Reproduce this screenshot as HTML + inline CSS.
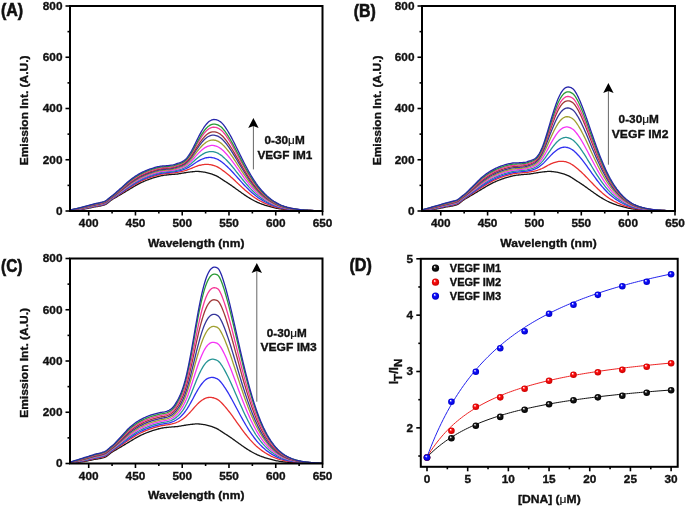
<!DOCTYPE html>
<html><head><meta charset="utf-8"><style>
html,body{margin:0;padding:0;background:#fff;width:685px;height:507px;overflow:hidden}
svg{display:block}
text{font-family:'Liberation Sans', sans-serif;font-weight:bold;fill:#111;stroke:#111;stroke-width:0.35px}
.tk{font-size:11.8px}
.ti{font-size:11px}
.an{font-size:11.6px}
.lg{font-size:11px}
.pl{font-size:17.5px;stroke-width:0.6px}
.mu{font-weight:normal;stroke-width:0.2px}
</style></head><body>
<svg width="685" height="507" viewBox="0 0 685 507">
<rect width="685" height="507" fill="#fff"/>
<polyline points="70,210.62 70.94,210.56 71.87,210.49 72.81,210.41 73.74,210.33 74.68,210.24 75.61,210.14 76.55,210.04 77.48,209.94 78.42,209.83 79.35,209.72 80.29,209.6 81.22,209.47 82.16,209.33 83.09,209.18 84.03,209.02 84.96,208.86 85.9,208.69 86.83,208.52 87.77,208.34 88.7,208.15 89.64,207.95 90.57,207.75 91.51,207.55 92.44,207.35 93.38,207.16 94.31,206.97 95.25,206.81 96.19,206.65 97.12,206.49 98.06,206.34 98.99,206.18 99.93,206.02 100.86,205.83 101.8,205.63 102.73,205.4 103.67,205.14 104.6,204.85 105.54,204.44 106.47,203.86 107.41,203.18 108.34,202.42 109.28,201.65 110.21,200.9 111.15,200.24 112.08,199.64 113.02,199.05 113.95,198.48 114.89,197.92 115.82,197.37 116.76,196.83 117.69,196.28 118.63,195.74 119.56,195.19 120.5,194.64 121.44,194.09 122.37,193.52 123.31,192.96 124.24,192.39 125.18,191.83 126.11,191.26 127.05,190.7 127.98,190.13 128.92,189.57 129.85,189.01 130.79,188.45 131.72,187.89 132.66,187.32 133.59,186.76 134.53,186.2 135.46,185.65 136.4,185.11 137.33,184.61 138.27,184.12 139.2,183.63 140.14,183.16 141.07,182.71 142.01,182.26 142.94,181.83 143.88,181.42 144.81,181.02 145.75,180.63 146.69,180.26 147.62,179.9 148.56,179.55 149.49,179.2 150.43,178.87 151.36,178.55 152.3,178.24 153.23,177.94 154.17,177.65 155.1,177.35 156.04,177.06 156.97,176.78 157.91,176.5 158.84,176.25 159.78,176.02 160.71,175.81 161.65,175.64 162.58,175.49 163.52,175.35 164.45,175.22 165.39,175.1 166.32,174.99 167.26,174.89 168.19,174.79 169.13,174.7 170.06,174.61 171,174.53 171.94,174.46 172.87,174.4 173.81,174.33 174.74,174.27 175.68,174.19 176.61,174.1 177.55,173.99 178.48,173.86 179.42,173.71 180.35,173.55 181.29,173.39 182.22,173.23 183.16,173.07 184.09,172.92 185.03,172.76 185.96,172.6 186.9,172.45 187.83,172.3 188.77,172.17 189.7,172.05 190.64,171.94 191.57,171.83 192.51,171.73 193.44,171.63 194.38,171.54 195.31,171.47 196.25,171.43 197.19,171.41 198.12,171.43 199.06,171.48 199.99,171.57 200.93,171.67 201.86,171.79 202.8,171.92 203.73,172.05 204.67,172.2 205.6,172.37 206.54,172.58 207.47,172.81 208.41,173.06 209.34,173.32 210.28,173.59 211.21,173.88 212.15,174.19 213.08,174.53 214.02,174.9 214.95,175.29 215.89,175.71 216.82,176.15 217.76,176.64 218.69,177.18 219.63,177.77 220.56,178.38 221.5,179.01 222.44,179.64 223.37,180.25 224.31,180.85 225.24,181.44 226.18,182.04 227.11,182.64 228.05,183.25 228.98,183.86 229.92,184.49 230.85,185.12 231.79,185.77 232.72,186.43 233.66,187.1 234.59,187.78 235.53,188.47 236.46,189.15 237.4,189.83 238.33,190.5 239.27,191.17 240.2,191.84 241.14,192.51 242.07,193.18 243.01,193.84 243.94,194.48 244.88,195.11 245.81,195.73 246.75,196.34 247.69,196.95 248.62,197.54 249.56,198.12 250.49,198.68 251.43,199.21 252.36,199.73 253.3,200.25 254.23,200.74 255.17,201.23 256.1,201.69 257.04,202.13 257.97,202.54 258.91,202.94 259.84,203.32 260.78,203.68 261.71,204.03 262.65,204.37 263.58,204.7 264.52,205.02 265.45,205.32 266.39,205.62 267.32,205.91 268.26,206.19 269.19,206.46 270.13,206.73 271.06,206.98 272,207.23 272.94,207.46 273.87,207.67 274.81,207.87 275.74,208.07 276.68,208.27 277.61,208.45 278.55,208.63 279.48,208.8 280.42,208.95 281.35,209.09 282.29,209.21 283.22,209.31 284.16,209.42 285.09,209.51 286.03,209.6 286.96,209.69 287.9,209.77 288.83,209.85 289.77,209.92 290.7,209.98 291.64,210.04 292.57,210.1 293.51,210.16 294.44,210.21 295.38,210.27 296.31,210.32 297.25,210.37 298.19,210.41 299.12,210.46 300.06,210.5 300.99,210.53 301.93,210.56 302.86,210.59 303.8,210.62 304.73,210.64 305.67,210.66 306.6,210.68 307.54,210.7 308.47,210.71 309.41,210.73 310.34,210.75 311.28,210.77 312.21,210.78 313.15,210.8 314.08,210.81 315.02,210.82 315.95,210.83 316.89,210.84 317.82,210.85 318.76,210.86 319.69,210.86 320.63,210.87 321.56,210.87 322.5,210.87" fill="none" stroke="#151515" stroke-width="1.3" stroke-linejoin="round"/>
<polyline points="70,210.52 70.94,210.44 71.87,210.35 72.81,210.26 73.74,210.15 74.68,210.04 75.61,209.93 76.55,209.81 77.48,209.69 78.42,209.56 79.35,209.43 80.29,209.3 81.22,209.15 82.16,208.99 83.09,208.83 84.03,208.66 84.96,208.49 85.9,208.31 86.83,208.13 87.77,207.93 88.7,207.73 89.64,207.52 90.57,207.31 91.51,207.1 92.44,206.89 93.38,206.69 94.31,206.5 95.25,206.32 96.19,206.15 97.12,205.99 98.06,205.83 98.99,205.67 99.93,205.49 100.86,205.3 101.8,205.09 102.73,204.86 103.67,204.59 104.6,204.3 105.54,203.88 106.47,203.3 107.41,202.61 108.34,201.85 109.28,201.07 110.21,200.32 111.15,199.65 112.08,199.04 113.02,198.44 113.95,197.84 114.89,197.24 115.82,196.65 116.76,196.06 117.69,195.47 118.63,194.88 119.56,194.29 120.5,193.7 121.44,193.1 122.37,192.5 123.31,191.89 124.24,191.28 125.18,190.67 126.11,190.05 127.05,189.44 127.98,188.84 128.92,188.24 129.85,187.65 130.79,187.06 131.72,186.49 132.66,185.9 133.59,185.32 134.53,184.74 135.46,184.18 136.4,183.64 137.33,183.12 138.27,182.62 139.2,182.13 140.14,181.66 141.07,181.19 142.01,180.74 142.94,180.31 143.88,179.89 144.81,179.49 145.75,179.1 146.69,178.73 147.62,178.36 148.56,178.01 149.49,177.66 150.43,177.33 151.36,177.01 152.3,176.71 153.23,176.41 154.17,176.12 155.1,175.83 156.04,175.55 156.97,175.27 157.91,175 158.84,174.75 159.78,174.53 160.71,174.33 161.65,174.16 162.58,174.02 163.52,173.89 164.45,173.77 165.39,173.66 166.32,173.56 167.26,173.46 168.19,173.37 169.13,173.27 170.06,173.18 171,173.09 171.94,173 172.87,172.92 173.81,172.82 174.74,172.72 175.68,172.59 176.61,172.46 177.55,172.31 178.48,172.15 179.42,171.97 180.35,171.77 181.29,171.56 182.22,171.35 183.16,171.12 184.09,170.88 185.03,170.61 185.96,170.32 186.9,170.01 187.83,169.69 188.77,169.35 189.7,169.01 190.64,168.66 191.57,168.29 192.51,167.9 193.44,167.51 194.38,167.12 195.31,166.74 196.25,166.38 197.19,166.04 198.12,165.74 199.06,165.47 199.99,165.24 200.93,165.04 201.86,164.86 202.8,164.7 203.73,164.56 204.67,164.45 205.6,164.38 206.54,164.36 207.47,164.38 208.41,164.44 209.34,164.53 210.28,164.65 211.21,164.81 212.15,165.01 213.08,165.25 214.02,165.54 214.95,165.87 215.89,166.24 216.82,166.64 217.76,167.1 218.69,167.63 219.63,168.22 220.56,168.83 221.5,169.48 222.44,170.17 223.37,170.86 224.31,171.56 225.24,172.27 226.18,173 227.11,173.75 228.05,174.51 228.98,175.28 229.92,176.08 230.85,176.89 231.79,177.72 232.72,178.58 233.66,179.44 234.59,180.32 235.53,181.21 236.46,182.1 237.4,182.98 238.33,183.86 239.27,184.74 240.2,185.61 241.14,186.49 242.07,187.36 243.01,188.23 243.94,189.07 244.88,189.9 245.81,190.72 246.75,191.52 247.69,192.32 248.62,193.09 249.56,193.85 250.49,194.59 251.43,195.3 252.36,195.99 253.3,196.67 254.23,197.33 255.17,197.97 256.1,198.58 257.04,199.17 257.97,199.73 258.91,200.26 259.84,200.77 260.78,201.26 261.71,201.73 262.65,202.19 263.58,202.63 264.52,203.06 265.45,203.47 266.39,203.87 267.32,204.25 268.26,204.63 269.19,204.99 270.13,205.34 271.06,205.67 272,205.99 272.94,206.29 273.87,206.58 274.81,206.85 275.74,207.11 276.68,207.36 277.61,207.61 278.55,207.84 279.48,208.05 280.42,208.25 281.35,208.43 282.29,208.6 283.22,208.75 284.16,208.89 285.09,209.02 286.03,209.14 286.96,209.26 287.9,209.37 288.83,209.47 289.77,209.57 290.7,209.66 291.64,209.74 292.57,209.82 293.51,209.9 294.44,209.97 295.38,210.04 296.31,210.11 297.25,210.18 298.19,210.24 299.12,210.29 300.06,210.35 300.99,210.39 301.93,210.44 302.86,210.47 303.8,210.51 304.73,210.54 305.67,210.56 306.6,210.59 307.54,210.62 308.47,210.64 309.41,210.67 310.34,210.69 311.28,210.71 312.21,210.73 313.15,210.75 314.08,210.77 315.02,210.78 315.95,210.8 316.89,210.81 317.82,210.82 318.76,210.83 319.69,210.84 320.63,210.85 321.56,210.85 322.5,210.85" fill="none" stroke="#e8302f" stroke-width="1.3" stroke-linejoin="round"/>
<polyline points="70,210.47 70.94,210.37 71.87,210.27 72.81,210.16 73.74,210.05 74.68,209.92 75.61,209.8 76.55,209.67 77.48,209.54 78.42,209.4 79.35,209.26 80.29,209.11 81.22,208.96 82.16,208.79 83.09,208.62 84.03,208.44 84.96,208.26 85.9,208.07 86.83,207.88 87.77,207.68 88.7,207.48 89.64,207.26 90.57,207.05 91.51,206.83 92.44,206.61 93.38,206.4 94.31,206.21 95.25,206.03 96.19,205.85 97.12,205.69 98.06,205.52 98.99,205.35 99.93,205.17 100.86,204.98 101.8,204.77 102.73,204.53 103.67,204.26 104.6,203.96 105.54,203.54 106.47,202.96 107.41,202.26 108.34,201.5 109.28,200.72 110.21,199.97 111.15,199.3 112.08,198.68 113.02,198.06 113.95,197.44 114.89,196.83 115.82,196.21 116.76,195.59 117.69,194.98 118.63,194.36 119.56,193.74 120.5,193.12 121.44,192.5 122.37,191.87 123.31,191.24 124.24,190.6 125.18,189.96 126.11,189.31 127.05,188.68 127.98,188.05 128.92,187.42 129.85,186.81 130.79,186.22 131.72,185.63 132.66,185.04 133.59,184.44 134.53,183.86 135.46,183.29 136.4,182.74 137.33,182.21 138.27,181.71 139.2,181.22 140.14,180.74 141.07,180.27 142.01,179.82 142.94,179.38 143.88,178.96 144.81,178.56 145.75,178.17 146.69,177.79 147.62,177.42 148.56,177.07 149.49,176.72 150.43,176.39 151.36,176.08 152.3,175.77 153.23,175.48 154.17,175.19 155.1,174.9 156.04,174.62 156.97,174.35 157.91,174.08 158.84,173.84 159.78,173.61 160.71,173.42 161.65,173.26 162.58,173.12 163.52,173 164.45,172.89 165.39,172.78 166.32,172.68 167.26,172.58 168.19,172.48 169.13,172.38 170.06,172.28 171,172.18 171.94,172.08 172.87,171.97 173.81,171.85 174.74,171.72 175.68,171.55 176.61,171.37 177.55,171.19 178.48,170.98 179.42,170.76 180.35,170.52 181.29,170.26 182.22,169.98 183.16,169.68 184.09,169.35 185.03,168.98 185.96,168.56 186.9,168.11 187.83,167.63 188.77,167.12 189.7,166.6 190.64,166.04 191.57,165.45 192.51,164.84 193.44,164.2 194.38,163.57 195.31,162.93 196.25,162.31 197.19,161.71 198.12,161.15 199.06,160.63 199.99,160.14 200.93,159.69 201.86,159.27 202.8,158.88 203.73,158.52 204.67,158.2 205.6,157.94 206.54,157.74 207.47,157.59 208.41,157.49 209.34,157.45 210.28,157.44 211.21,157.49 212.15,157.6 213.08,157.77 214.02,157.99 214.95,158.27 215.89,158.6 216.82,158.98 217.76,159.42 218.69,159.94 219.63,160.51 220.56,161.13 221.5,161.8 222.44,162.54 223.37,163.29 224.31,164.07 225.24,164.88 226.18,165.71 227.11,166.57 228.05,167.46 228.98,168.36 229.92,169.3 230.85,170.25 231.79,171.24 232.72,172.24 233.66,173.27 234.59,174.31 235.53,175.36 236.46,176.41 237.4,177.46 238.33,178.51 239.27,179.55 240.2,180.59 241.14,181.64 242.07,182.68 243.01,183.7 243.94,184.71 244.88,185.7 245.81,186.67 246.75,187.63 247.69,188.58 248.62,189.51 249.56,190.42 250.49,191.3 251.43,192.15 252.36,192.98 253.3,193.79 254.23,194.57 255.17,195.34 256.1,196.08 257.04,196.78 257.97,197.45 258.91,198.09 259.84,198.71 260.78,199.31 261.71,199.88 262.65,200.43 263.58,200.97 264.52,201.48 265.45,201.98 266.39,202.46 267.32,202.92 268.26,203.37 269.19,203.8 270.13,204.22 271.06,204.62 272,205 272.94,205.36 273.87,205.7 274.81,206.02 275.74,206.33 276.68,206.63 277.61,206.92 278.55,207.19 279.48,207.45 280.42,207.69 281.35,207.91 282.29,208.1 283.22,208.29 284.16,208.46 285.09,208.62 286.03,208.77 286.96,208.91 287.9,209.04 288.83,209.17 289.77,209.29 290.7,209.4 291.64,209.5 292.57,209.6 293.51,209.69 294.44,209.78 295.38,209.86 296.31,209.95 297.25,210.02 298.19,210.09 299.12,210.16 300.06,210.22 300.99,210.28 301.93,210.33 302.86,210.38 303.8,210.42 304.73,210.45 305.67,210.49 306.6,210.52 307.54,210.55 308.47,210.58 309.41,210.61 310.34,210.64 311.28,210.66 312.21,210.69 313.15,210.71 314.08,210.73 315.02,210.75 315.95,210.77 316.89,210.78 317.82,210.8 318.76,210.81 319.69,210.82 320.63,210.83 321.56,210.83 322.5,210.84" fill="none" stroke="#3030f0" stroke-width="1.3" stroke-linejoin="round"/>
<polyline points="70,210.41 70.94,210.3 71.87,210.19 72.81,210.07 73.74,209.94 74.68,209.81 75.61,209.67 76.55,209.53 77.48,209.38 78.42,209.23 79.35,209.09 80.29,208.93 81.22,208.76 82.16,208.59 83.09,208.41 84.03,208.22 84.96,208.03 85.9,207.84 86.83,207.64 87.77,207.44 88.7,207.22 89.64,207 90.57,206.78 91.51,206.56 92.44,206.34 93.38,206.12 94.31,205.92 95.25,205.73 96.19,205.55 97.12,205.38 98.06,205.21 98.99,205.04 99.93,204.85 100.86,204.66 101.8,204.44 102.73,204.2 103.67,203.93 104.6,203.62 105.54,203.2 106.47,202.62 107.41,201.92 108.34,201.15 109.28,200.37 110.21,199.62 111.15,198.94 112.08,198.31 113.02,197.68 113.95,197.05 114.89,196.41 115.82,195.77 116.76,195.13 117.69,194.48 118.63,193.84 119.56,193.19 120.5,192.55 121.44,191.9 122.37,191.25 123.31,190.59 124.24,189.92 125.18,189.25 126.11,188.58 127.05,187.91 127.98,187.26 128.92,186.61 129.85,185.98 130.79,185.37 131.72,184.77 132.66,184.17 133.59,183.57 134.53,182.97 135.46,182.39 136.4,181.84 137.33,181.31 138.27,180.8 139.2,180.3 140.14,179.82 141.07,179.35 142.01,178.89 142.94,178.45 143.88,178.03 144.81,177.62 145.75,177.23 146.69,176.85 147.62,176.48 148.56,176.13 149.49,175.79 150.43,175.46 151.36,175.14 152.3,174.84 153.23,174.55 154.17,174.26 155.1,173.98 156.04,173.7 156.97,173.42 157.91,173.16 158.84,172.92 159.78,172.7 160.71,172.51 161.65,172.36 162.58,172.23 163.52,172.11 164.45,172 165.39,171.9 166.32,171.8 167.26,171.71 168.19,171.61 169.13,171.5 170.06,171.4 171,171.29 171.94,171.18 172.87,171.06 173.81,170.92 174.74,170.77 175.68,170.56 176.61,170.35 177.55,170.14 178.48,169.91 179.42,169.66 180.35,169.39 181.29,169.1 182.22,168.78 183.16,168.43 184.09,168.04 185.03,167.59 185.96,167.09 186.9,166.53 187.83,165.93 188.77,165.29 189.7,164.61 190.64,163.9 191.57,163.14 192.51,162.34 193.44,161.51 194.38,160.67 195.31,159.83 196.25,159 197.19,158.2 198.12,157.42 199.06,156.69 199.99,156 200.93,155.35 201.86,154.73 202.8,154.16 203.73,153.61 204.67,153.12 205.6,152.7 206.54,152.35 207.47,152.07 208.41,151.85 209.34,151.69 210.28,151.59 211.21,151.55 212.15,151.58 213.08,151.69 214.02,151.86 214.95,152.1 215.89,152.39 216.82,152.75 217.76,153.17 218.69,153.68 219.63,154.26 220.56,154.87 221.5,155.56 222.44,156.33 223.37,157.14 224.31,157.99 225.24,158.87 226.18,159.79 227.11,160.74 228.05,161.73 228.98,162.74 229.92,163.79 230.85,164.86 231.79,165.97 232.72,167.1 233.66,168.25 234.59,169.42 235.53,170.6 236.46,171.79 237.4,172.98 238.33,174.16 239.27,175.33 240.2,176.52 241.14,177.69 242.07,178.87 243.01,180.02 243.94,181.17 244.88,182.29 245.81,183.39 246.75,184.47 247.69,185.55 248.62,186.6 249.56,187.62 250.49,188.62 251.43,189.58 252.36,190.52 253.3,191.44 254.23,192.34 255.17,193.2 256.1,194.04 257.04,194.84 257.97,195.61 258.91,196.34 259.84,197.04 260.78,197.72 261.71,198.38 262.65,199.01 263.58,199.61 264.52,200.2 265.45,200.77 266.39,201.31 267.32,201.84 268.26,202.34 269.19,202.84 270.13,203.31 271.06,203.76 272,204.19 272.94,204.6 273.87,204.98 274.81,205.35 275.74,205.7 276.68,206.04 277.61,206.37 278.55,206.67 279.48,206.96 280.42,207.23 281.35,207.48 282.29,207.71 283.22,207.91 284.16,208.11 285.09,208.29 286.03,208.47 286.96,208.63 287.9,208.78 288.83,208.93 289.77,209.06 290.7,209.19 291.64,209.31 292.57,209.42 293.51,209.52 294.44,209.62 295.38,209.72 296.31,209.81 297.25,209.9 298.19,209.98 299.12,210.05 300.06,210.12 300.99,210.19 301.93,210.25 302.86,210.3 303.8,210.35 304.73,210.39 305.67,210.43 306.6,210.47 307.54,210.5 308.47,210.54 309.41,210.57 310.34,210.6 311.28,210.63 312.21,210.65 313.15,210.68 314.08,210.7 315.02,210.72 315.95,210.74 316.89,210.76 317.82,210.78 318.76,210.79 319.69,210.8 320.63,210.81 321.56,210.82 322.5,210.82" fill="none" stroke="#259595" stroke-width="1.3" stroke-linejoin="round"/>
<polyline points="70,210.35 70.94,210.23 71.87,210.11 72.81,209.97 73.74,209.83 74.68,209.69 75.61,209.54 76.55,209.39 77.48,209.23 78.42,209.07 79.35,208.91 80.29,208.75 81.22,208.57 82.16,208.39 83.09,208.2 84.03,208 84.96,207.8 85.9,207.6 86.83,207.4 87.77,207.19 88.7,206.97 89.64,206.74 90.57,206.51 91.51,206.28 92.44,206.06 93.38,205.83 94.31,205.63 95.25,205.43 96.19,205.25 97.12,205.08 98.06,204.9 98.99,204.72 99.93,204.54 100.86,204.33 101.8,204.11 102.73,203.87 103.67,203.59 104.6,203.28 105.54,202.86 106.47,202.27 107.41,201.57 108.34,200.81 109.28,200.02 110.21,199.26 111.15,198.58 112.08,197.95 113.02,197.3 113.95,196.65 114.89,195.99 115.82,195.33 116.76,194.66 117.69,193.99 118.63,193.32 119.56,192.64 120.5,191.97 121.44,191.3 122.37,190.62 123.31,189.93 124.24,189.24 125.18,188.54 126.11,187.84 127.05,187.15 127.98,186.46 128.92,185.8 129.85,185.15 130.79,184.53 131.72,183.92 132.66,183.3 133.59,182.69 134.53,182.09 135.46,181.5 136.4,180.94 137.33,180.4 138.27,179.88 139.2,179.38 140.14,178.89 141.07,178.42 142.01,177.96 142.94,177.52 143.88,177.1 144.81,176.69 145.75,176.29 146.69,175.91 147.62,175.55 148.56,175.19 149.49,174.85 150.43,174.52 151.36,174.2 152.3,173.9 153.23,173.61 154.17,173.33 155.1,173.05 156.04,172.77 156.97,172.5 157.91,172.25 158.84,172.01 159.78,171.79 160.71,171.61 161.65,171.46 162.58,171.33 163.52,171.22 164.45,171.12 165.39,171.02 166.32,170.93 167.26,170.83 168.19,170.73 169.13,170.63 170.06,170.51 171,170.4 171.94,170.27 172.87,170.14 173.81,169.99 174.74,169.81 175.68,169.56 176.61,169.33 177.55,169.09 178.48,168.83 179.42,168.55 180.35,168.25 181.29,167.92 182.22,167.56 183.16,167.16 184.09,166.7 185.03,166.17 185.96,165.58 186.9,164.91 187.83,164.19 188.77,163.41 189.7,162.58 190.64,161.7 191.57,160.76 192.51,159.77 193.44,158.74 194.38,157.7 195.31,156.65 196.25,155.6 197.19,154.58 198.12,153.59 199.06,152.64 199.99,151.74 200.93,150.88 201.86,150.07 202.8,149.3 203.73,148.57 204.67,147.9 205.6,147.32 206.54,146.82 207.47,146.39 208.41,146.05 209.34,145.77 210.28,145.57 211.21,145.44 212.15,145.4 213.08,145.44 214.02,145.56 214.95,145.75 215.89,146.02 216.82,146.34 217.76,146.76 218.69,147.26 219.63,147.82 220.56,148.44 221.5,149.14 222.44,149.95 223.37,150.82 224.31,151.73 225.24,152.69 226.18,153.7 227.11,154.75 228.05,155.84 228.98,156.97 229.92,158.13 230.85,159.32 231.79,160.55 232.72,161.81 233.66,163.1 234.59,164.4 235.53,165.72 236.46,167.04 237.4,168.37 238.33,169.69 239.27,171 240.2,172.32 241.14,173.64 242.07,174.95 243.01,176.25 243.94,177.52 244.88,178.78 245.81,180.01 246.75,181.23 247.69,182.43 248.62,183.6 249.56,184.75 250.49,185.87 251.43,186.95 252.36,188 253.3,189.03 254.23,190.04 255.17,191.01 256.1,191.95 257.04,192.85 257.97,193.71 258.91,194.53 259.84,195.32 260.78,196.09 261.71,196.83 262.65,197.54 263.58,198.22 264.52,198.88 265.45,199.52 266.39,200.13 267.32,200.72 268.26,201.29 269.19,201.84 270.13,202.37 271.06,202.88 272,203.36 272.94,203.82 273.87,204.25 274.81,204.66 275.74,205.05 276.68,205.43 277.61,205.79 278.55,206.14 279.48,206.46 280.42,206.76 281.35,207.04 282.29,207.29 283.22,207.53 284.16,207.75 285.09,207.96 286.03,208.15 286.96,208.34 287.9,208.51 288.83,208.67 289.77,208.83 290.7,208.97 291.64,209.1 292.57,209.23 293.51,209.35 294.44,209.46 295.38,209.57 296.31,209.67 297.25,209.77 298.19,209.86 299.12,209.94 300.06,210.02 300.99,210.1 301.93,210.16 302.86,210.22 303.8,210.27 304.73,210.32 305.67,210.36 306.6,210.41 307.54,210.45 308.47,210.49 309.41,210.52 310.34,210.56 311.28,210.59 312.21,210.62 313.15,210.65 314.08,210.67 315.02,210.7 315.95,210.72 316.89,210.74 317.82,210.76 318.76,210.77 319.69,210.78 320.63,210.8 321.56,210.8 322.5,210.81" fill="none" stroke="#f535f5" stroke-width="1.3" stroke-linejoin="round"/>
<polyline points="70,210.3 70.94,210.16 71.87,210.02 72.81,209.88 73.74,209.73 74.68,209.57 75.61,209.41 76.55,209.24 77.48,209.08 78.42,208.91 79.35,208.74 80.29,208.56 81.22,208.38 82.16,208.18 83.09,207.98 84.03,207.78 84.96,207.58 85.9,207.37 86.83,207.16 87.77,206.94 88.7,206.71 89.64,206.48 90.57,206.24 91.51,206.01 92.44,205.78 93.38,205.55 94.31,205.34 95.25,205.14 96.19,204.95 97.12,204.77 98.06,204.59 98.99,204.41 99.93,204.22 100.86,204.01 101.8,203.78 102.73,203.53 103.67,203.26 104.6,202.94 105.54,202.52 106.47,201.93 107.41,201.23 108.34,200.46 109.28,199.67 110.21,198.91 111.15,198.22 112.08,197.58 113.02,196.93 113.95,196.26 114.89,195.58 115.82,194.89 116.76,194.19 117.69,193.49 118.63,192.79 119.56,192.09 120.5,191.39 121.44,190.7 122.37,190 123.31,189.28 124.24,188.56 125.18,187.83 126.11,187.1 127.05,186.38 127.98,185.67 128.92,184.99 129.85,184.32 130.79,183.68 131.72,183.06 132.66,182.43 133.59,181.81 134.53,181.2 135.46,180.61 136.4,180.04 137.33,179.49 138.27,178.97 139.2,178.46 140.14,177.97 141.07,177.5 142.01,177.04 142.94,176.59 143.88,176.16 144.81,175.75 145.75,175.36 146.69,174.98 147.62,174.61 148.56,174.25 149.49,173.91 150.43,173.58 151.36,173.26 152.3,172.96 153.23,172.68 154.17,172.4 155.1,172.12 156.04,171.85 156.97,171.58 157.91,171.33 158.84,171.09 159.78,170.88 160.71,170.7 161.65,170.56 162.58,170.44 163.52,170.33 164.45,170.24 165.39,170.14 166.32,170.05 167.26,169.96 168.19,169.86 169.13,169.76 170.06,169.64 171,169.52 171.94,169.39 172.87,169.24 173.81,169.07 174.74,168.87 175.68,168.6 176.61,168.34 177.55,168.08 178.48,167.8 179.42,167.51 180.35,167.19 181.29,166.83 182.22,166.44 183.16,166 184.09,165.49 185.03,164.9 185.96,164.23 186.9,163.48 187.83,162.65 188.77,161.76 189.7,160.8 190.64,159.78 191.57,158.68 192.51,157.53 193.44,156.34 194.38,155.12 195.31,153.89 196.25,152.66 197.19,151.44 198.12,150.27 199.06,149.13 199.99,148.05 200.93,147.01 201.86,146.02 202.8,145.08 203.73,144.2 204.67,143.38 205.6,142.65 206.54,142.02 207.47,141.47 208.41,141.02 209.34,140.64 210.28,140.35 211.21,140.14 212.15,140.04 213.08,140.02 214.02,140.09 214.95,140.25 215.89,140.48 216.82,140.79 217.76,141.19 218.69,141.68 219.63,142.24 220.56,142.86 221.5,143.58 222.44,144.42 223.37,145.34 224.31,146.31 225.24,147.34 226.18,148.42 227.11,149.55 228.05,150.73 228.98,151.95 229.92,153.21 230.85,154.51 231.79,155.85 232.72,157.22 233.66,158.62 234.59,160.04 235.53,161.48 236.46,162.92 237.4,164.37 238.33,165.81 239.27,167.25 240.2,168.69 241.14,170.13 242.07,171.55 243.01,172.97 243.94,174.36 244.88,175.73 245.81,177.08 246.75,178.41 247.69,179.72 248.62,181 249.56,182.26 250.49,183.48 251.43,184.67 252.36,185.82 253.3,186.95 254.23,188.04 255.17,189.11 256.1,190.13 257.04,191.12 257.97,192.06 258.91,192.96 259.84,193.84 260.78,194.68 261.71,195.49 262.65,196.27 263.58,197.02 264.52,197.74 265.45,198.44 266.39,199.11 267.32,199.76 268.26,200.38 269.19,200.98 270.13,201.56 271.06,202.11 272,202.64 272.94,203.14 273.87,203.61 274.81,204.06 275.74,204.49 276.68,204.9 277.61,205.3 278.55,205.67 279.48,206.03 280.42,206.36 281.35,206.66 282.29,206.94 283.22,207.2 284.16,207.44 285.09,207.67 286.03,207.88 286.96,208.09 287.9,208.28 288.83,208.45 289.77,208.62 290.7,208.78 291.64,208.93 292.57,209.07 293.51,209.2 294.44,209.32 295.38,209.44 296.31,209.55 297.25,209.66 298.19,209.76 299.12,209.85 300.06,209.93 300.99,210.01 301.93,210.09 302.86,210.15 303.8,210.21 304.73,210.26 305.67,210.31 306.6,210.36 307.54,210.4 308.47,210.44 309.41,210.48 310.34,210.52 311.28,210.56 312.21,210.59 313.15,210.62 314.08,210.65 315.02,210.67 315.95,210.7 316.89,210.72 317.82,210.74 318.76,210.76 319.69,210.77 320.63,210.78 321.56,210.79 322.5,210.8" fill="none" stroke="#a0a030" stroke-width="1.3" stroke-linejoin="round"/>
<polyline points="70,210.24 70.94,210.1 71.87,209.94 72.81,209.78 73.74,209.62 74.68,209.45 75.61,209.28 76.55,209.1 77.48,208.92 78.42,208.74 79.35,208.56 80.29,208.38 81.22,208.18 82.16,207.98 83.09,207.77 84.03,207.56 84.96,207.35 85.9,207.13 86.83,206.92 87.77,206.69 88.7,206.46 89.64,206.22 90.57,205.98 91.51,205.74 92.44,205.5 93.38,205.26 94.31,205.05 95.25,204.84 96.19,204.65 97.12,204.47 98.06,204.28 98.99,204.09 99.93,203.9 100.86,203.69 101.8,203.46 102.73,203.2 103.67,202.92 104.6,202.61 105.54,202.17 106.47,201.58 107.41,200.88 108.34,200.11 109.28,199.32 110.21,198.56 111.15,197.87 112.08,197.22 113.02,196.55 113.95,195.86 114.89,195.16 115.82,194.45 116.76,193.73 117.69,193 118.63,192.27 119.56,191.54 120.5,190.82 121.44,190.1 122.37,189.37 123.31,188.63 124.24,187.87 125.18,187.12 126.11,186.36 127.05,185.62 127.98,184.88 128.92,184.17 129.85,183.49 130.79,182.84 131.72,182.2 132.66,181.57 133.59,180.94 134.53,180.32 135.46,179.71 136.4,179.13 137.33,178.58 138.27,178.06 139.2,177.55 140.14,177.05 141.07,176.58 142.01,176.11 142.94,175.66 143.88,175.23 144.81,174.82 145.75,174.42 146.69,174.04 147.62,173.67 148.56,173.31 149.49,172.97 150.43,172.64 151.36,172.32 152.3,172.03 153.23,171.74 154.17,171.47 155.1,171.19 156.04,170.92 156.97,170.66 157.91,170.41 158.84,170.18 159.78,169.97 160.71,169.8 161.65,169.66 162.58,169.55 163.52,169.45 164.45,169.35 165.39,169.27 166.32,169.18 167.26,169.09 168.19,169 169.13,168.89 170.06,168.77 171,168.65 171.94,168.51 172.87,168.36 173.81,168.17 174.74,167.96 175.68,167.66 176.61,167.38 177.55,167.1 178.48,166.81 179.42,166.51 180.35,166.17 181.29,165.8 182.22,165.39 183.16,164.92 184.09,164.37 185.03,163.73 185.96,163 186.9,162.17 187.83,161.26 188.77,160.26 189.7,159.19 190.64,158.04 191.57,156.82 192.51,155.52 193.44,154.18 194.38,152.8 195.31,151.4 196.25,150 197.19,148.62 198.12,147.28 199.06,145.98 199.99,144.73 200.93,143.53 201.86,142.38 202.8,141.3 203.73,140.27 204.67,139.31 205.6,138.46 206.54,137.71 207.47,137.05 208.41,136.5 209.34,136.03 210.28,135.66 211.21,135.39 212.15,135.22 213.08,135.15 214.02,135.18 214.95,135.3 215.89,135.51 216.82,135.8 217.76,136.19 218.69,136.67 219.63,137.23 220.56,137.84 221.5,138.58 222.44,139.46 223.37,140.41 224.31,141.44 225.24,142.53 226.18,143.68 227.11,144.89 228.05,146.14 228.98,147.45 229.92,148.8 230.85,150.2 231.79,151.63 232.72,153.1 233.66,154.61 234.59,156.13 235.53,157.67 236.46,159.22 237.4,160.78 238.33,162.32 239.27,163.87 240.2,165.42 241.14,166.97 242.07,168.5 243.01,170.03 243.94,171.53 244.88,173 245.81,174.45 246.75,175.88 247.69,177.29 248.62,178.67 249.56,180.02 250.49,181.34 251.43,182.61 252.36,183.86 253.3,185.07 254.23,186.25 255.17,187.4 256.1,188.5 257.04,189.56 257.97,190.58 258.91,191.56 259.84,192.5 260.78,193.41 261.71,194.28 262.65,195.12 263.58,195.93 264.52,196.71 265.45,197.47 266.39,198.19 267.32,198.89 268.26,199.56 269.19,200.21 270.13,200.83 271.06,201.42 272,201.99 272.94,202.53 273.87,203.04 274.81,203.52 275.74,203.98 276.68,204.43 277.61,204.85 278.55,205.26 279.48,205.64 280.42,205.99 281.35,206.32 282.29,206.62 283.22,206.9 284.16,207.16 285.09,207.41 286.03,207.64 286.96,207.86 287.9,208.07 288.83,208.26 289.77,208.44 290.7,208.61 291.64,208.77 292.57,208.92 293.51,209.06 294.44,209.19 295.38,209.32 296.31,209.44 297.25,209.56 298.19,209.66 299.12,209.76 300.06,209.86 300.99,209.94 301.93,210.02 302.86,210.09 303.8,210.15 304.73,210.21 305.67,210.26 306.6,210.31 307.54,210.36 308.47,210.41 309.41,210.45 310.34,210.49 311.28,210.53 312.21,210.56 313.15,210.6 314.08,210.63 315.02,210.65 315.95,210.68 316.89,210.7 317.82,210.72 318.76,210.74 319.69,210.76 320.63,210.77 321.56,210.78 322.5,210.79" fill="none" stroke="#35359a" stroke-width="1.3" stroke-linejoin="round"/>
<polyline points="70,210.19 70.94,210.03 71.87,209.86 72.81,209.69 73.74,209.51 74.68,209.33 75.61,209.15 76.55,208.96 77.48,208.77 78.42,208.58 79.35,208.39 80.29,208.19 81.22,207.99 82.16,207.78 83.09,207.56 84.03,207.34 84.96,207.12 85.9,206.9 86.83,206.68 87.77,206.44 88.7,206.2 89.64,205.96 90.57,205.71 91.51,205.46 92.44,205.22 93.38,204.98 94.31,204.76 95.25,204.55 96.19,204.35 97.12,204.16 98.06,203.97 98.99,203.78 99.93,203.58 100.86,203.36 101.8,203.13 102.73,202.87 103.67,202.59 104.6,202.27 105.54,201.83 106.47,201.24 107.41,200.54 108.34,199.76 109.28,198.97 110.21,198.21 111.15,197.51 112.08,196.85 113.02,196.17 113.95,195.47 114.89,194.74 115.82,194.01 116.76,193.26 117.69,192.51 118.63,191.75 119.56,190.99 120.5,190.24 121.44,189.5 122.37,188.74 123.31,187.97 124.24,187.19 125.18,186.41 126.11,185.62 127.05,184.85 127.98,184.09 128.92,183.36 129.85,182.66 130.79,181.99 131.72,181.35 132.66,180.7 133.59,180.06 134.53,179.43 135.46,178.82 136.4,178.23 137.33,177.68 138.27,177.14 139.2,176.63 140.14,176.13 141.07,175.65 142.01,175.19 142.94,174.73 143.88,174.3 144.81,173.89 145.75,173.49 146.69,173.1 147.62,172.73 148.56,172.37 149.49,172.03 150.43,171.7 151.36,171.39 152.3,171.09 153.23,170.81 154.17,170.54 155.1,170.26 156.04,170 156.97,169.74 157.91,169.49 158.84,169.27 159.78,169.06 160.71,168.89 161.65,168.76 162.58,168.66 163.52,168.56 164.45,168.48 165.39,168.4 166.32,168.32 167.26,168.24 168.19,168.14 169.13,168.04 170.06,167.93 171,167.8 171.94,167.66 172.87,167.51 173.81,167.32 174.74,167.1 175.68,166.78 176.61,166.49 177.55,166.21 178.48,165.92 179.42,165.62 180.35,165.3 181.29,164.94 182.22,164.52 183.16,164.05 184.09,163.49 185.03,162.84 185.96,162.08 186.9,161.21 187.83,160.25 188.77,159.2 189.7,158.06 190.64,156.83 191.57,155.52 192.51,154.13 193.44,152.68 194.38,151.2 195.31,149.7 196.25,148.19 197.19,146.69 198.12,145.23 199.06,143.82 199.99,142.46 200.93,141.15 201.86,139.9 202.8,138.71 203.73,137.58 204.67,136.53 205.6,135.59 206.54,134.76 207.47,134.03 208.41,133.4 209.34,132.88 210.28,132.45 211.21,132.13 212.15,131.92 213.08,131.82 214.02,131.82 214.95,131.92 215.89,132.11 216.82,132.39 217.76,132.77 218.69,133.25 219.63,133.81 220.56,134.41 221.5,135.16 222.44,136.06 223.37,137.04 224.31,138.1 225.24,139.23 226.18,140.43 227.11,141.69 228.05,143.01 228.98,144.37 229.92,145.79 230.85,147.24 231.79,148.74 232.72,150.28 233.66,151.86 234.59,153.45 235.53,155.07 236.46,156.69 237.4,158.32 238.33,159.94 239.27,161.56 240.2,163.19 241.14,164.81 242.07,166.42 243.01,168.01 243.94,169.58 244.88,171.13 245.81,172.65 246.75,174.15 247.69,175.63 248.62,177.08 249.56,178.49 250.49,179.87 251.43,181.21 252.36,182.51 253.3,183.79 254.23,185.02 255.17,186.23 256.1,187.39 257.04,188.5 257.97,189.57 258.91,190.59 259.84,191.58 260.78,192.54 261.71,193.46 262.65,194.34 263.58,195.19 264.52,196.01 265.45,196.8 266.39,197.56 267.32,198.29 268.26,199 269.19,199.68 270.13,200.33 271.06,200.95 272,201.55 272.94,202.11 273.87,202.64 274.81,203.15 275.74,203.64 276.68,204.1 277.61,204.55 278.55,204.97 279.48,205.37 280.42,205.74 281.35,206.08 282.29,206.4 283.22,206.69 284.16,206.97 285.09,207.23 286.03,207.47 286.96,207.7 287.9,207.92 288.83,208.12 289.77,208.32 290.7,208.49 291.64,208.66 292.57,208.82 293.51,208.97 294.44,209.11 295.38,209.24 296.31,209.37 297.25,209.49 298.19,209.6 299.12,209.7 300.06,209.8 300.99,209.89 301.93,209.97 302.86,210.05 303.8,210.11 304.73,210.17 305.67,210.23 306.6,210.28 307.54,210.33 308.47,210.38 309.41,210.43 310.34,210.47 311.28,210.51 312.21,210.54 313.15,210.58 314.08,210.61 315.02,210.64 315.95,210.67 316.89,210.69 317.82,210.71 318.76,210.73 319.69,210.75 320.63,210.76 321.56,210.77 322.5,210.78" fill="none" stroke="#a03838" stroke-width="1.3" stroke-linejoin="round"/>
<polyline points="70,210.13 70.94,209.96 71.87,209.78 72.81,209.59 73.74,209.41 74.68,209.21 75.61,209.02 76.55,208.82 77.48,208.62 78.42,208.42 79.35,208.22 80.29,208.01 81.22,207.8 82.16,207.57 83.09,207.35 84.03,207.12 84.96,206.89 85.9,206.67 86.83,206.43 87.77,206.19 88.7,205.95 89.64,205.69 90.57,205.44 91.51,205.19 92.44,204.94 93.38,204.7 94.31,204.47 95.25,204.25 96.19,204.05 97.12,203.86 98.06,203.66 98.99,203.46 99.93,203.26 100.86,203.04 101.8,202.8 102.73,202.54 103.67,202.25 104.6,201.93 105.54,201.49 106.47,200.9 107.41,200.19 108.34,199.42 109.28,198.62 110.21,197.85 111.15,197.15 112.08,196.49 113.02,195.79 113.95,195.07 114.89,194.33 115.82,193.57 116.76,192.79 117.69,192.01 118.63,191.23 119.56,190.44 120.5,189.66 121.44,188.89 122.37,188.12 123.31,187.32 124.24,186.51 125.18,185.7 126.11,184.89 127.05,184.09 127.98,183.3 128.92,182.55 129.85,181.83 130.79,181.15 131.72,180.49 132.66,179.83 133.59,179.18 134.53,178.55 135.46,177.93 136.4,177.33 137.33,176.77 138.27,176.23 139.2,175.71 140.14,175.21 141.07,174.73 142.01,174.26 142.94,173.81 143.88,173.37 144.81,172.95 145.75,172.55 146.69,172.16 147.62,171.79 148.56,171.43 149.49,171.09 150.43,170.76 151.36,170.45 152.3,170.15 153.23,169.88 154.17,169.6 155.1,169.34 156.04,169.07 156.97,168.82 157.91,168.58 158.84,168.35 159.78,168.15 160.71,167.99 161.65,167.86 162.58,167.76 163.52,167.68 164.45,167.6 165.39,167.53 166.32,167.45 167.26,167.37 168.19,167.28 169.13,167.18 170.06,167.06 171,166.93 171.94,166.79 172.87,166.63 173.81,166.43 174.74,166.19 175.68,165.85 176.61,165.54 177.55,165.25 178.48,164.95 179.42,164.65 180.35,164.31 181.29,163.94 182.22,163.51 183.16,163.01 184.09,162.42 185.03,161.72 185.96,160.9 186.9,159.97 187.83,158.93 188.77,157.78 189.7,156.54 190.64,155.2 191.57,153.76 192.51,152.24 193.44,150.65 194.38,149.02 195.31,147.36 196.25,145.7 197.19,144.04 198.12,142.43 199.06,140.86 199.99,139.34 200.93,137.88 201.86,136.48 202.8,135.15 203.73,133.88 204.67,132.71 205.6,131.65 206.54,130.71 207.47,129.87 208.41,129.16 209.34,128.55 210.28,128.05 211.21,127.66 212.15,127.39 213.08,127.24 214.02,127.21 214.95,127.28 215.89,127.44 216.82,127.7 217.76,128.07 218.69,128.54 219.63,129.1 220.56,129.71 221.5,130.46 222.44,131.39 223.37,132.41 224.31,133.52 225.24,134.71 226.18,135.98 227.11,137.31 228.05,138.7 228.98,140.14 229.92,141.64 230.85,143.19 231.79,144.78 232.72,146.41 233.66,148.08 234.59,149.78 235.53,151.49 236.46,153.21 237.4,154.94 238.33,156.67 239.27,158.39 240.2,160.12 241.14,161.84 242.07,163.55 243.01,165.24 243.94,166.92 244.88,168.56 245.81,170.18 246.75,171.77 247.69,173.34 248.62,174.88 249.56,176.39 250.49,177.86 251.43,179.28 252.36,180.67 253.3,182.02 254.23,183.34 255.17,184.62 256.1,185.85 257.04,187.04 257.97,188.18 258.91,189.27 259.84,190.33 260.78,191.34 261.71,192.32 262.65,193.27 263.58,194.17 264.52,195.05 265.45,195.89 266.39,196.7 267.32,197.48 268.26,198.23 269.19,198.95 270.13,199.65 271.06,200.31 272,200.94 272.94,201.54 273.87,202.11 274.81,202.64 275.74,203.16 276.68,203.66 277.61,204.13 278.55,204.58 279.48,205 280.42,205.4 281.35,205.76 282.29,206.1 283.22,206.41 284.16,206.71 285.09,206.98 286.03,207.25 286.96,207.49 287.9,207.72 288.83,207.94 289.77,208.14 290.7,208.33 291.64,208.51 292.57,208.68 293.51,208.84 294.44,208.99 295.38,209.13 296.31,209.27 297.25,209.39 298.19,209.51 299.12,209.62 300.06,209.73 300.99,209.82 301.93,209.91 302.86,209.99 303.8,210.06 304.73,210.12 305.67,210.18 306.6,210.24 307.54,210.29 308.47,210.35 309.41,210.39 310.34,210.44 311.28,210.48 312.21,210.52 313.15,210.56 314.08,210.59 315.02,210.62 315.95,210.65 316.89,210.67 317.82,210.7 318.76,210.72 319.69,210.74 320.63,210.75 321.56,210.76 322.5,210.77" fill="none" stroke="#f53898" stroke-width="1.3" stroke-linejoin="round"/>
<polyline points="70,210.07 70.94,209.89 71.87,209.7 72.81,209.5 73.74,209.3 74.68,209.09 75.61,208.89 76.55,208.68 77.48,208.47 78.42,208.25 79.35,208.04 80.29,207.83 81.22,207.6 82.16,207.37 83.09,207.14 84.03,206.9 84.96,206.66 85.9,206.43 86.83,206.19 87.77,205.94 88.7,205.69 89.64,205.43 90.57,205.17 91.51,204.91 92.44,204.66 93.38,204.41 94.31,204.17 95.25,203.96 96.19,203.75 97.12,203.55 98.06,203.35 98.99,203.15 99.93,202.94 100.86,202.72 101.8,202.48 102.73,202.21 103.67,201.92 104.6,201.59 105.54,201.15 106.47,200.55 107.41,199.84 108.34,199.07 109.28,198.27 110.21,197.5 111.15,196.8 112.08,196.12 113.02,195.42 113.95,194.68 114.89,193.91 115.82,193.13 116.76,192.33 117.69,191.52 118.63,190.7 119.56,189.89 120.5,189.09 121.44,188.29 122.37,187.49 123.31,186.67 124.24,185.83 125.18,184.99 126.11,184.15 127.05,183.32 127.98,182.51 128.92,181.73 129.85,180.99 130.79,180.3 131.72,179.63 132.66,178.97 133.59,178.31 134.53,177.66 135.46,177.03 136.4,176.43 137.33,175.86 138.27,175.32 139.2,174.8 140.14,174.29 141.07,173.8 142.01,173.33 142.94,172.88 143.88,172.44 144.81,172.02 145.75,171.62 146.69,171.23 147.62,170.85 148.56,170.49 149.49,170.15 150.43,169.82 151.36,169.51 152.3,169.22 153.23,168.94 154.17,168.67 155.1,168.41 156.04,168.15 156.97,167.9 157.91,167.66 158.84,167.44 159.78,167.25 160.71,167.09 161.65,166.97 162.58,166.87 163.52,166.79 164.45,166.72 165.39,166.66 166.32,166.59 167.26,166.52 168.19,166.43 169.13,166.33 170.06,166.22 171,166.09 171.94,165.95 172.87,165.78 173.81,165.58 174.74,165.34 175.68,164.98 176.61,164.67 177.55,164.37 178.48,164.08 179.42,163.79 180.35,163.46 181.29,163.1 182.22,162.68 183.16,162.18 184.09,161.59 185.03,160.88 185.96,160.04 186.9,159.08 187.83,157.99 188.77,156.8 189.7,155.49 190.64,154.08 191.57,152.56 192.51,150.96 193.44,149.28 194.38,147.55 195.31,145.8 196.25,144.03 197.19,142.28 198.12,140.55 199.06,138.88 199.99,137.26 200.93,135.7 201.86,134.2 202.8,132.78 203.73,131.42 204.67,130.17 205.6,129.03 206.54,128.01 207.47,127.11 208.41,126.33 209.34,125.66 210.28,125.11 211.21,124.68 212.15,124.37 213.08,124.19 214.02,124.13 214.95,124.18 215.89,124.33 216.82,124.58 217.76,124.94 218.69,125.4 219.63,125.96 220.56,126.57 221.5,127.33 222.44,128.28 223.37,129.33 224.31,130.47 225.24,131.7 226.18,133.01 227.11,134.38 228.05,135.82 228.98,137.32 229.92,138.88 230.85,140.48 231.79,142.14 232.72,143.83 233.66,145.57 234.59,147.33 235.53,149.11 236.46,150.9 237.4,152.69 238.33,154.49 239.27,156.28 240.2,158.07 241.14,159.86 242.07,161.64 243.01,163.4 243.94,165.14 244.88,166.85 245.81,168.53 246.75,170.19 247.69,171.82 248.62,173.42 249.56,174.99 250.49,176.52 251.43,178 252.36,179.44 253.3,180.85 254.23,182.22 255.17,183.55 256.1,184.83 257.04,186.07 257.97,187.25 258.91,188.39 259.84,189.49 260.78,190.55 261.71,191.57 262.65,192.55 263.58,193.5 264.52,194.41 265.45,195.28 266.39,196.12 267.32,196.93 268.26,197.72 269.19,198.47 270.13,199.19 271.06,199.88 272,200.53 272.94,201.16 273.87,201.75 274.81,202.31 275.74,202.85 276.68,203.36 277.61,203.85 278.55,204.32 279.48,204.76 280.42,205.17 281.35,205.55 282.29,205.9 283.22,206.22 284.16,206.53 285.09,206.82 286.03,207.09 286.96,207.35 287.9,207.59 288.83,207.82 289.77,208.03 290.7,208.23 291.64,208.41 292.57,208.59 293.51,208.75 294.44,208.91 295.38,209.06 296.31,209.2 297.25,209.33 298.19,209.45 299.12,209.57 300.06,209.68 300.99,209.78 301.93,209.87 302.86,209.95 303.8,210.02 304.73,210.09 305.67,210.15 306.6,210.21 307.54,210.27 308.47,210.32 309.41,210.37 310.34,210.42 311.28,210.46 312.21,210.5 313.15,210.54 314.08,210.57 315.02,210.61 315.95,210.64 316.89,210.66 317.82,210.69 318.76,210.71 319.69,210.73 320.63,210.74 321.56,210.76 322.5,210.77" fill="none" stroke="#2a9a35" stroke-width="1.3" stroke-linejoin="round"/>
<polyline points="70,210.02 70.94,209.82 71.87,209.62 72.81,209.41 73.74,209.19 74.68,208.98 75.61,208.76 76.55,208.53 77.48,208.31 78.42,208.09 79.35,207.87 80.29,207.64 81.22,207.41 82.16,207.17 83.09,206.93 84.03,206.68 84.96,206.44 85.9,206.2 86.83,205.95 87.77,205.7 88.7,205.44 89.64,205.17 90.57,204.91 91.51,204.64 92.44,204.38 93.38,204.13 94.31,203.88 95.25,203.66 96.19,203.45 97.12,203.24 98.06,203.04 98.99,202.83 99.93,202.62 100.86,202.39 101.8,202.15 102.73,201.88 103.67,201.58 104.6,201.25 105.54,200.81 106.47,200.21 107.41,199.5 108.34,198.72 109.28,197.92 110.21,197.15 111.15,196.44 112.08,195.76 113.02,195.04 113.95,194.28 114.89,193.5 115.82,192.69 116.76,191.86 117.69,191.02 118.63,190.18 119.56,189.34 120.5,188.51 121.44,187.69 122.37,186.87 123.31,186.02 124.24,185.15 125.18,184.28 126.11,183.41 127.05,182.55 127.98,181.72 128.92,180.92 129.85,180.16 130.79,179.46 131.72,178.78 132.66,178.1 133.59,177.43 134.53,176.77 135.46,176.14 136.4,175.53 137.33,174.96 138.27,174.41 139.2,173.88 140.14,173.37 141.07,172.88 142.01,172.41 142.94,171.95 143.88,171.51 144.81,171.08 145.75,170.68 146.69,170.29 147.62,169.91 148.56,169.55 149.49,169.21 150.43,168.88 151.36,168.57 152.3,168.28 153.23,168.01 154.17,167.74 155.1,167.48 156.04,167.22 156.97,166.98 157.91,166.74 158.84,166.53 159.78,166.34 160.71,166.18 161.65,166.07 162.58,165.98 163.52,165.91 164.45,165.84 165.39,165.78 166.32,165.72 167.26,165.65 168.19,165.57 169.13,165.47 170.06,165.36 171,165.23 171.94,165.08 172.87,164.9 173.81,164.69 174.74,164.43 175.68,164.05 176.61,163.72 177.55,163.41 178.48,163.11 179.42,162.81 180.35,162.48 181.29,162.1 182.22,161.66 183.16,161.14 184.09,160.51 185.03,159.76 185.96,158.87 186.9,157.84 187.83,156.67 188.77,155.38 189.7,153.97 190.64,152.45 191.57,150.81 192.51,149.06 193.44,147.25 194.38,145.37 195.31,143.46 196.25,141.54 197.19,139.63 198.12,137.75 199.06,135.92 199.99,134.14 200.93,132.43 201.86,130.79 202.8,129.22 203.73,127.73 204.67,126.35 205.6,125.09 206.54,123.96 207.47,122.95 208.41,122.08 209.34,121.33 210.28,120.71 211.21,120.21 212.15,119.85 213.08,119.62 214.02,119.52 214.95,119.54 215.89,119.66 216.82,119.89 217.76,120.24 218.69,120.7 219.63,121.25 220.56,121.86 221.5,122.64 222.44,123.61 223.37,124.7 224.31,125.9 225.24,127.18 226.18,128.55 227.11,130 228.05,131.51 228.98,133.1 229.92,134.73 230.85,136.43 231.79,138.17 232.72,139.96 233.66,141.79 234.59,143.65 235.53,145.53 236.46,147.42 237.4,149.32 238.33,151.21 239.27,153.11 240.2,155 241.14,156.89 242.07,158.77 243.01,160.64 243.94,162.47 244.88,164.28 245.81,166.06 246.75,167.81 247.69,169.54 248.62,171.23 249.56,172.89 250.49,174.5 251.43,176.07 252.36,177.6 253.3,179.09 254.23,180.54 255.17,181.94 256.1,183.3 257.04,184.61 257.97,185.87 258.91,187.07 259.84,188.23 260.78,189.35 261.71,190.44 262.65,191.48 263.58,192.48 264.52,193.44 265.45,194.37 266.39,195.26 267.32,196.12 268.26,196.95 269.19,197.74 270.13,198.5 271.06,199.23 272,199.93 272.94,200.59 273.87,201.21 274.81,201.8 275.74,202.37 276.68,202.92 277.61,203.43 278.55,203.93 279.48,204.39 280.42,204.82 281.35,205.23 282.29,205.6 283.22,205.94 284.16,206.27 285.09,206.58 286.03,206.87 286.96,207.14 287.9,207.39 288.83,207.63 289.77,207.86 290.7,208.07 291.64,208.27 292.57,208.45 293.51,208.63 294.44,208.79 295.38,208.95 296.31,209.1 297.25,209.24 298.19,209.37 299.12,209.49 300.06,209.6 300.99,209.71 301.93,209.8 302.86,209.89 303.8,209.97 304.73,210.04 305.67,210.11 306.6,210.17 307.54,210.23 308.47,210.29 309.41,210.34 310.34,210.39 311.28,210.43 312.21,210.48 313.15,210.52 314.08,210.55 315.02,210.59 315.95,210.62 316.89,210.65 317.82,210.67 318.76,210.69 319.69,210.71 320.63,210.73 321.56,210.75 322.5,210.76" fill="none" stroke="#2626aa" stroke-width="1.3" stroke-linejoin="round"/>
<line x1="65.5" y1="211" x2="70" y2="211" stroke="#000" stroke-width="1.6"/>
<line x1="67.5" y1="185.38" x2="70" y2="185.38" stroke="#000" stroke-width="1.6"/>
<line x1="65.5" y1="159.75" x2="70" y2="159.75" stroke="#000" stroke-width="1.6"/>
<line x1="67.5" y1="134.12" x2="70" y2="134.12" stroke="#000" stroke-width="1.6"/>
<line x1="65.5" y1="108.5" x2="70" y2="108.5" stroke="#000" stroke-width="1.6"/>
<line x1="67.5" y1="82.88" x2="70" y2="82.88" stroke="#000" stroke-width="1.6"/>
<line x1="65.5" y1="57.25" x2="70" y2="57.25" stroke="#000" stroke-width="1.6"/>
<line x1="67.5" y1="31.63" x2="70" y2="31.63" stroke="#000" stroke-width="1.6"/>
<line x1="65.5" y1="6" x2="70" y2="6" stroke="#000" stroke-width="1.6"/>
<line x1="88.7" y1="211" x2="88.7" y2="215.5" stroke="#000" stroke-width="1.6"/>
<line x1="112.08" y1="211" x2="112.08" y2="213.5" stroke="#000" stroke-width="1.6"/>
<line x1="135.46" y1="211" x2="135.46" y2="215.5" stroke="#000" stroke-width="1.6"/>
<line x1="158.84" y1="211" x2="158.84" y2="213.5" stroke="#000" stroke-width="1.6"/>
<line x1="182.22" y1="211" x2="182.22" y2="215.5" stroke="#000" stroke-width="1.6"/>
<line x1="205.6" y1="211" x2="205.6" y2="213.5" stroke="#000" stroke-width="1.6"/>
<line x1="228.98" y1="211" x2="228.98" y2="215.5" stroke="#000" stroke-width="1.6"/>
<line x1="252.36" y1="211" x2="252.36" y2="213.5" stroke="#000" stroke-width="1.6"/>
<line x1="275.74" y1="211" x2="275.74" y2="215.5" stroke="#000" stroke-width="1.6"/>
<line x1="299.12" y1="211" x2="299.12" y2="213.5" stroke="#000" stroke-width="1.6"/>
<line x1="322.5" y1="211" x2="322.5" y2="215.5" stroke="#000" stroke-width="1.6"/>
<rect x="70" y="6" width="252.5" height="205" fill="none" stroke="#000" stroke-width="2"/>
<line x1="253.4" y1="169.4" x2="253.4" y2="124.3" stroke="#555" stroke-width="0.9"/>
<path d="M253.4 117.89999999999999 L258.6 128.1 L253.4 125.89999999999999 L248.20000000000002 128.1 Z" fill="#000"/>
<polyline points="422,210.62 422.94,210.56 423.87,210.49 424.81,210.41 425.75,210.33 426.69,210.24 427.62,210.14 428.56,210.04 429.5,209.94 430.43,209.83 431.37,209.72 432.31,209.6 433.24,209.47 434.18,209.33 435.12,209.18 436.06,209.02 436.99,208.86 437.93,208.69 438.87,208.52 439.8,208.34 440.74,208.15 441.68,207.95 442.61,207.75 443.55,207.55 444.49,207.35 445.43,207.16 446.36,206.97 447.3,206.81 448.24,206.65 449.17,206.49 450.11,206.34 451.05,206.18 451.99,206.02 452.92,205.83 453.86,205.63 454.8,205.4 455.73,205.14 456.67,204.85 457.61,204.44 458.54,203.86 459.48,203.18 460.42,202.42 461.36,201.65 462.29,200.9 463.23,200.24 464.17,199.64 465.1,199.05 466.04,198.48 466.98,197.92 467.91,197.37 468.85,196.83 469.79,196.28 470.73,195.74 471.66,195.19 472.6,194.64 473.54,194.09 474.47,193.52 475.41,192.96 476.35,192.39 477.29,191.83 478.22,191.26 479.16,190.7 480.1,190.13 481.03,189.57 481.97,189.01 482.91,188.45 483.84,187.89 484.78,187.32 485.72,186.76 486.66,186.2 487.59,185.65 488.53,185.11 489.47,184.61 490.4,184.12 491.34,183.63 492.28,183.16 493.21,182.71 494.15,182.26 495.09,181.83 496.03,181.42 496.96,181.02 497.9,180.63 498.84,180.26 499.77,179.9 500.71,179.55 501.65,179.2 502.59,178.87 503.52,178.55 504.46,178.24 505.4,177.94 506.33,177.65 507.27,177.35 508.21,177.06 509.14,176.78 510.08,176.5 511.02,176.25 511.96,176.02 512.89,175.81 513.83,175.64 514.77,175.49 515.7,175.35 516.64,175.22 517.58,175.1 518.51,174.99 519.45,174.89 520.39,174.79 521.33,174.7 522.26,174.61 523.2,174.53 524.14,174.46 525.07,174.4 526.01,174.33 526.95,174.27 527.89,174.19 528.82,174.1 529.76,173.99 530.7,173.86 531.63,173.71 532.57,173.55 533.51,173.39 534.44,173.23 535.38,173.07 536.32,172.92 537.26,172.76 538.19,172.6 539.13,172.45 540.07,172.3 541,172.17 541.94,172.05 542.88,171.94 543.81,171.83 544.75,171.73 545.69,171.63 546.63,171.54 547.56,171.47 548.5,171.43 549.44,171.41 550.37,171.43 551.31,171.48 552.25,171.57 553.19,171.67 554.12,171.79 555.06,171.92 556,172.05 556.93,172.2 557.87,172.37 558.81,172.58 559.74,172.81 560.68,173.06 561.62,173.32 562.56,173.59 563.49,173.88 564.43,174.19 565.37,174.53 566.3,174.9 567.24,175.29 568.18,175.71 569.11,176.15 570.05,176.64 570.99,177.18 571.93,177.77 572.86,178.38 573.8,179.01 574.74,179.64 575.67,180.25 576.61,180.85 577.55,181.44 578.49,182.04 579.42,182.64 580.36,183.25 581.3,183.86 582.23,184.49 583.17,185.12 584.11,185.77 585.04,186.43 585.98,187.1 586.92,187.78 587.86,188.47 588.79,189.15 589.73,189.83 590.67,190.5 591.6,191.17 592.54,191.84 593.48,192.51 594.41,193.18 595.35,193.84 596.29,194.48 597.23,195.11 598.16,195.73 599.1,196.34 600.04,196.95 600.97,197.54 601.91,198.12 602.85,198.68 603.79,199.21 604.72,199.73 605.66,200.25 606.6,200.74 607.53,201.23 608.47,201.69 609.41,202.13 610.34,202.54 611.28,202.94 612.22,203.32 613.16,203.68 614.09,204.03 615.03,204.37 615.97,204.7 616.9,205.02 617.84,205.32 618.78,205.62 619.71,205.91 620.65,206.19 621.59,206.46 622.53,206.73 623.46,206.98 624.4,207.23 625.34,207.46 626.27,207.67 627.21,207.87 628.15,208.07 629.09,208.27 630.02,208.45 630.96,208.63 631.9,208.8 632.83,208.95 633.77,209.09 634.71,209.21 635.64,209.31 636.58,209.42 637.52,209.51 638.46,209.6 639.39,209.69 640.33,209.77 641.27,209.85 642.2,209.92 643.14,209.98 644.08,210.04 645.01,210.1 645.95,210.16 646.89,210.21 647.83,210.27 648.76,210.32 649.7,210.37 650.64,210.41 651.57,210.46 652.51,210.5 653.45,210.53 654.39,210.56 655.32,210.59 656.26,210.62 657.2,210.64 658.13,210.66 659.07,210.68 660.01,210.7 660.94,210.71 661.88,210.73 662.82,210.75 663.76,210.77 664.69,210.78 665.63,210.8 666.57,210.81 667.5,210.82 668.44,210.83 669.38,210.84 670.31,210.85 671.25,210.86 672.19,210.86 673.13,210.87 674.06,210.87 675,210.87" fill="none" stroke="#151515" stroke-width="1.3" stroke-linejoin="round"/>
<polyline points="422,210.49 422.94,210.4 423.87,210.31 424.81,210.2 425.75,210.09 426.69,209.98 427.62,209.86 428.56,209.73 429.5,209.6 430.43,209.47 431.37,209.34 432.31,209.2 433.24,209.05 434.18,208.88 435.12,208.71 436.06,208.54 436.99,208.36 437.93,208.18 438.87,207.99 439.8,207.8 440.74,207.59 441.68,207.38 442.61,207.17 443.55,206.95 444.49,206.74 445.43,206.53 446.36,206.34 447.3,206.16 448.24,205.99 449.17,205.83 450.11,205.66 451.05,205.5 451.99,205.32 452.92,205.13 453.86,204.91 454.8,204.68 455.73,204.41 456.67,204.11 457.61,203.69 458.54,203.11 459.48,202.42 460.42,201.66 461.36,200.88 462.29,200.13 463.23,199.46 464.17,198.84 465.1,198.23 466.04,197.62 466.98,197.01 467.91,196.41 468.85,195.81 469.79,195.2 470.73,194.6 471.66,193.99 472.6,193.38 473.54,192.77 474.47,192.16 475.41,191.53 476.35,190.91 477.29,190.28 478.22,189.65 479.16,189.02 480.1,188.4 481.03,187.79 481.97,187.19 482.91,186.6 483.84,186.02 484.78,185.43 485.72,184.84 486.66,184.26 487.59,183.69 488.53,183.15 489.47,182.62 490.4,182.12 491.34,181.63 492.28,181.15 493.21,180.69 494.15,180.24 495.09,179.8 496.03,179.38 496.96,178.98 497.9,178.59 498.84,178.21 499.77,177.85 500.71,177.49 501.65,177.15 502.59,176.82 503.52,176.5 504.46,176.2 505.4,175.9 506.33,175.62 507.27,175.33 508.21,175.04 509.14,174.77 510.08,174.5 511.02,174.26 511.96,174.04 512.89,173.84 513.83,173.68 514.77,173.55 515.7,173.42 516.64,173.31 517.58,173.21 518.51,173.12 519.45,173.03 520.39,172.94 521.33,172.85 522.26,172.77 523.2,172.69 524.14,172.61 525.07,172.54 526.01,172.45 526.95,172.36 527.89,172.24 528.82,172.11 529.76,171.98 530.7,171.83 531.63,171.66 532.57,171.48 533.51,171.29 534.44,171.08 535.38,170.86 536.32,170.61 537.26,170.33 538.19,170.01 539.13,169.67 540.07,169.29 541,168.9 541.94,168.49 542.88,168.05 543.81,167.59 544.75,167.09 545.69,166.59 546.63,166.07 547.56,165.55 548.5,165.05 549.44,164.57 550.37,164.12 551.31,163.7 552.25,163.31 553.19,162.96 554.12,162.63 555.06,162.32 556,162.03 556.93,161.78 557.87,161.58 558.81,161.44 559.74,161.34 560.68,161.29 561.62,161.29 562.56,161.32 563.49,161.4 564.43,161.54 565.37,161.73 566.3,161.97 567.24,162.26 568.18,162.6 569.11,162.98 570.05,163.43 570.99,163.95 571.93,164.53 572.86,165.14 573.8,165.81 574.74,166.53 575.67,167.26 576.61,168.01 577.55,168.78 578.49,169.57 579.42,170.39 580.36,171.22 581.3,172.08 582.23,172.96 583.17,173.86 584.11,174.78 585.04,175.73 585.98,176.69 586.92,177.66 587.86,178.65 588.79,179.63 589.73,180.61 590.67,181.58 591.6,182.55 592.54,183.53 593.48,184.5 594.41,185.46 595.35,186.41 596.29,187.35 597.23,188.26 598.16,189.16 599.1,190.05 600.04,190.92 600.97,191.77 601.91,192.61 602.85,193.42 603.79,194.2 604.72,194.95 605.66,195.69 606.6,196.41 607.53,197.11 608.47,197.78 609.41,198.42 610.34,199.03 611.28,199.61 612.22,200.16 613.16,200.7 614.09,201.22 615.03,201.71 615.97,202.19 616.9,202.65 617.84,203.1 618.78,203.52 619.71,203.94 620.65,204.34 621.59,204.73 622.53,205.1 623.46,205.46 624.4,205.79 625.34,206.11 626.27,206.41 627.21,206.7 628.15,206.98 629.09,207.25 630.02,207.5 630.96,207.74 631.9,207.97 632.83,208.18 633.77,208.37 634.71,208.54 635.64,208.7 636.58,208.84 637.52,208.98 638.46,209.11 639.39,209.23 640.33,209.35 641.27,209.45 642.2,209.55 643.14,209.65 644.08,209.74 645.01,209.82 645.95,209.9 646.89,209.97 647.83,210.04 648.76,210.11 649.7,210.18 650.64,210.24 651.57,210.3 652.51,210.35 653.45,210.4 654.39,210.44 655.32,210.48 656.26,210.51 657.2,210.54 658.13,210.57 659.07,210.6 660.01,210.62 660.94,210.65 661.88,210.67 662.82,210.69 663.76,210.72 664.69,210.74 665.63,210.75 666.57,210.77 667.5,210.79 668.44,210.8 669.38,210.81 670.31,210.83 671.25,210.84 672.19,210.84 673.13,210.85 674.06,210.85 675,210.86" fill="none" stroke="#e8302f" stroke-width="1.3" stroke-linejoin="round"/>
<polyline points="422,210.42 422.94,210.31 423.87,210.2 424.81,210.08 425.75,209.95 426.69,209.82 427.62,209.68 428.56,209.54 429.5,209.4 430.43,209.25 431.37,209.11 432.31,208.95 433.24,208.79 434.18,208.61 435.12,208.43 436.06,208.25 436.99,208.06 437.93,207.87 438.87,207.67 439.8,207.47 440.74,207.25 441.68,207.03 442.61,206.81 443.55,206.59 444.49,206.37 445.43,206.15 446.36,205.95 447.3,205.77 448.24,205.59 449.17,205.42 450.11,205.25 451.05,205.08 451.99,204.89 452.92,204.7 453.86,204.48 454.8,204.24 455.73,203.97 456.67,203.66 457.61,203.24 458.54,202.66 459.48,201.96 460.42,201.2 461.36,200.41 462.29,199.66 463.23,198.98 464.17,198.36 465.1,197.73 466.04,197.09 466.98,196.46 467.91,195.82 468.85,195.18 469.79,194.54 470.73,193.9 471.66,193.26 472.6,192.62 473.54,191.97 474.47,191.32 475.41,190.66 476.35,190 477.29,189.33 478.22,188.67 479.16,188 480.1,187.35 481.03,186.71 481.97,186.08 482.91,185.48 483.84,184.88 484.78,184.27 485.72,183.67 486.66,183.08 487.59,182.5 488.53,181.95 489.47,181.41 490.4,180.91 491.34,180.41 492.28,179.93 493.21,179.46 494.15,179 495.09,178.56 496.03,178.14 496.96,177.73 497.9,177.34 498.84,176.96 499.77,176.6 500.71,176.24 501.65,175.9 502.59,175.57 503.52,175.25 504.46,174.95 505.4,174.66 506.33,174.37 507.27,174.09 508.21,173.81 509.14,173.54 510.08,173.28 511.02,173.04 511.96,172.82 512.89,172.64 513.83,172.48 514.77,172.36 515.7,172.24 516.64,172.14 517.58,172.04 518.51,171.95 519.45,171.87 520.39,171.78 521.33,171.69 522.26,171.6 523.2,171.5 524.14,171.41 525.07,171.31 526.01,171.2 526.95,171.06 527.89,170.88 528.82,170.7 529.76,170.5 530.7,170.29 531.63,170.05 532.57,169.79 533.51,169.49 534.44,169.17 535.38,168.8 536.32,168.39 537.26,167.91 538.19,167.36 539.13,166.75 540.07,166.08 541,165.35 541.94,164.57 542.88,163.74 543.81,162.85 544.75,161.9 545.69,160.91 546.63,159.9 547.56,158.87 548.5,157.84 549.44,156.83 550.37,155.84 551.31,154.88 552.25,153.96 553.19,153.08 554.12,152.24 555.06,151.44 556,150.68 556.93,149.98 557.87,149.35 558.81,148.81 559.74,148.35 560.68,147.97 561.62,147.66 562.56,147.42 563.49,147.26 564.43,147.19 565.37,147.21 566.3,147.31 567.24,147.49 568.18,147.74 569.11,148.06 570.05,148.47 570.99,148.96 571.93,149.53 572.86,150.14 573.8,150.85 574.74,151.67 575.67,152.54 576.61,153.46 577.55,154.43 578.49,155.44 579.42,156.5 580.36,157.6 581.3,158.73 582.23,159.9 583.17,161.1 584.11,162.34 585.04,163.6 585.98,164.89 586.92,166.2 587.86,167.52 588.79,168.84 589.73,170.16 590.67,171.48 591.6,172.79 592.54,174.1 593.48,175.41 594.41,176.71 595.35,177.99 596.29,179.26 597.23,180.49 598.16,181.71 599.1,182.91 600.04,184.09 600.97,185.24 601.91,186.36 602.85,187.45 603.79,188.51 604.72,189.53 605.66,190.54 606.6,191.51 607.53,192.45 608.47,193.35 609.41,194.22 610.34,195.05 611.28,195.84 612.22,196.59 613.16,197.33 614.09,198.03 615.03,198.7 615.97,199.35 616.9,199.98 617.84,200.57 618.78,201.15 619.71,201.71 620.65,202.24 621.59,202.76 622.53,203.25 623.46,203.72 624.4,204.17 625.34,204.6 626.27,204.99 627.21,205.37 628.15,205.74 629.09,206.09 630.02,206.42 630.96,206.74 631.9,207.03 632.83,207.31 633.77,207.56 634.71,207.79 635.64,208 636.58,208.19 637.52,208.38 638.46,208.55 639.39,208.71 640.33,208.87 641.27,209.01 642.2,209.14 643.14,209.27 644.08,209.39 645.01,209.5 645.95,209.6 646.89,209.7 647.83,209.79 648.76,209.88 649.7,209.96 650.64,210.04 651.57,210.12 652.51,210.18 653.45,210.25 654.39,210.3 655.32,210.35 656.26,210.4 657.2,210.44 658.13,210.47 659.07,210.51 660.01,210.54 660.94,210.57 661.88,210.6 662.82,210.63 663.76,210.66 664.69,210.68 665.63,210.71 666.57,210.73 667.5,210.75 668.44,210.77 669.38,210.78 670.31,210.8 671.25,210.81 672.19,210.82 673.13,210.83 674.06,210.83 675,210.84" fill="none" stroke="#3030f0" stroke-width="1.3" stroke-linejoin="round"/>
<polyline points="422,210.34 422.94,210.22 423.87,210.09 424.81,209.95 425.75,209.81 426.69,209.66 427.62,209.51 428.56,209.36 429.5,209.2 430.43,209.04 431.37,208.87 432.31,208.71 433.24,208.53 434.18,208.34 435.12,208.15 436.06,207.95 436.99,207.75 437.93,207.55 438.87,207.35 439.8,207.13 440.74,206.91 441.68,206.68 442.61,206.45 443.55,206.22 444.49,206 445.43,205.77 446.36,205.56 447.3,205.37 448.24,205.19 449.17,205.01 450.11,204.84 451.05,204.66 451.99,204.47 452.92,204.26 453.86,204.04 454.8,203.8 455.73,203.52 456.67,203.21 457.61,202.78 458.54,202.2 459.48,201.5 460.42,200.73 461.36,199.95 462.29,199.19 463.23,198.51 464.17,197.87 465.1,197.22 466.04,196.57 466.98,195.9 467.91,195.24 468.85,194.56 469.79,193.88 470.73,193.2 471.66,192.53 472.6,191.85 473.54,191.17 474.47,190.49 475.41,189.79 476.35,189.09 477.29,188.39 478.22,187.68 479.16,186.98 480.1,186.3 481.03,185.63 481.97,184.97 482.91,184.35 483.84,183.73 484.78,183.12 485.72,182.5 486.66,181.9 487.59,181.31 488.53,180.74 489.47,180.21 490.4,179.69 491.34,179.19 492.28,178.7 493.21,178.23 494.15,177.77 495.09,177.32 496.03,176.9 496.96,176.49 497.9,176.1 498.84,175.71 499.77,175.35 500.71,174.99 501.65,174.65 502.59,174.32 503.52,174 504.46,173.7 505.4,173.41 506.33,173.13 507.27,172.85 508.21,172.58 509.14,172.31 510.08,172.06 511.02,171.82 511.96,171.61 512.89,171.43 513.83,171.29 514.77,171.17 515.7,171.07 516.64,170.97 517.58,170.89 518.51,170.8 519.45,170.72 520.39,170.64 521.33,170.55 522.26,170.46 523.2,170.36 524.14,170.26 525.07,170.15 526.01,170.02 526.95,169.86 527.89,169.64 528.82,169.42 529.76,169.2 530.7,168.96 531.63,168.7 532.57,168.4 533.51,168.06 534.44,167.68 535.38,167.25 536.32,166.74 537.26,166.15 538.19,165.47 539.13,164.7 540.07,163.84 541,162.9 541.94,161.89 542.88,160.81 543.81,159.63 544.75,158.39 545.69,157.09 546.63,155.74 547.56,154.37 548.5,152.99 549.44,151.62 550.37,150.27 551.31,148.95 552.25,147.68 553.19,146.45 554.12,145.26 555.06,144.13 556,143.05 556.93,142.04 557.87,141.13 558.81,140.33 559.74,139.62 560.68,139.01 561.62,138.5 562.56,138.08 563.49,137.76 564.43,137.56 565.37,137.46 566.3,137.46 567.24,137.56 568.18,137.76 569.11,138.03 570.05,138.41 570.99,138.89 571.93,139.45 572.86,140.06 573.8,140.8 574.74,141.68 575.67,142.64 576.61,143.68 577.55,144.78 578.49,145.94 579.42,147.17 580.36,148.44 581.3,149.76 582.23,151.12 583.17,152.53 584.11,153.97 585.04,155.45 585.98,156.96 586.92,158.49 587.86,160.04 588.79,161.59 589.73,163.14 590.67,164.69 591.6,166.23 592.54,167.77 593.48,169.31 594.41,170.83 595.35,172.34 596.29,173.82 597.23,175.28 598.16,176.7 599.1,178.11 600.04,179.49 600.97,180.85 601.91,182.17 602.85,183.45 603.79,184.69 604.72,185.89 605.66,187.07 606.6,188.21 607.53,189.31 608.47,190.38 609.41,191.4 610.34,192.37 611.28,193.3 612.22,194.2 613.16,195.06 614.09,195.88 615.03,196.68 615.97,197.44 616.9,198.18 617.84,198.88 618.78,199.56 619.71,200.21 620.65,200.83 621.59,201.43 622.53,202.01 623.46,202.56 624.4,203.08 625.34,203.57 626.27,204.04 627.21,204.48 628.15,204.9 629.09,205.31 630.02,205.69 630.96,206.06 631.9,206.4 632.83,206.72 633.77,207.01 634.71,207.28 635.64,207.52 636.58,207.76 637.52,207.97 638.46,208.18 639.39,208.37 640.33,208.55 641.27,208.71 642.2,208.87 643.14,209.02 644.08,209.15 645.01,209.28 645.95,209.4 646.89,209.51 647.83,209.62 648.76,209.72 649.7,209.82 650.64,209.91 651.57,210 652.51,210.07 653.45,210.14 654.39,210.21 655.32,210.27 656.26,210.32 657.2,210.36 658.13,210.41 659.07,210.45 660.01,210.49 660.94,210.52 661.88,210.56 662.82,210.59 663.76,210.62 664.69,210.65 665.63,210.68 666.57,210.7 667.5,210.72 668.44,210.74 669.38,210.76 670.31,210.78 671.25,210.79 672.19,210.8 673.13,210.81 674.06,210.82 675,210.83" fill="none" stroke="#259595" stroke-width="1.3" stroke-linejoin="round"/>
<polyline points="422,210.27 422.94,210.13 423.87,209.98 424.81,209.83 425.75,209.67 426.69,209.5 427.62,209.34 428.56,209.17 429.5,208.99 430.43,208.82 431.37,208.64 432.31,208.46 433.24,208.27 434.18,208.07 435.12,207.87 436.06,207.66 436.99,207.45 437.93,207.24 438.87,207.03 439.8,206.8 440.74,206.57 441.68,206.34 442.61,206.1 443.55,205.86 444.49,205.62 445.43,205.39 446.36,205.18 447.3,204.98 448.24,204.79 449.17,204.6 450.11,204.42 451.05,204.24 451.99,204.04 452.92,203.83 453.86,203.61 454.8,203.35 455.73,203.07 456.67,202.76 457.61,202.33 458.54,201.74 459.48,201.04 460.42,200.27 461.36,199.48 462.29,198.72 463.23,198.03 464.17,197.38 465.1,196.72 466.04,196.04 466.98,195.35 467.91,194.65 468.85,193.94 469.79,193.22 470.73,192.51 471.66,191.79 472.6,191.08 473.54,190.37 474.47,189.65 475.41,188.92 476.35,188.18 477.29,187.44 478.22,186.7 479.16,185.96 480.1,185.24 481.03,184.54 481.97,183.87 482.91,183.22 483.84,182.59 484.78,181.96 485.72,181.33 486.66,180.72 487.59,180.12 488.53,179.54 489.47,179 490.4,178.47 491.34,177.96 492.28,177.47 493.21,176.99 494.15,176.53 495.09,176.09 496.03,175.66 496.96,175.24 497.9,174.85 498.84,174.47 499.77,174.09 500.71,173.74 501.65,173.39 502.59,173.06 503.52,172.75 504.46,172.45 505.4,172.17 506.33,171.89 507.27,171.62 508.21,171.35 509.14,171.08 510.08,170.84 511.02,170.61 511.96,170.4 512.89,170.23 513.83,170.09 514.77,169.98 515.7,169.89 516.64,169.8 517.58,169.73 518.51,169.65 519.45,169.58 520.39,169.5 521.33,169.41 522.26,169.32 523.2,169.21 524.14,169.11 525.07,168.98 526.01,168.83 526.95,168.65 527.89,168.38 528.82,168.13 529.76,167.88 530.7,167.6 531.63,167.31 532.57,166.97 533.51,166.58 534.44,166.14 535.38,165.62 536.32,165.02 537.26,164.3 538.19,163.47 539.13,162.53 540.07,161.47 541,160.31 541.94,159.05 542.88,157.68 543.81,156.21 544.75,154.65 545.69,153.01 546.63,151.31 547.56,149.57 548.5,147.82 549.44,146.06 550.37,144.33 551.31,142.63 552.25,140.97 553.19,139.36 554.12,137.81 555.06,136.33 556,134.91 556.93,133.58 557.87,132.36 558.81,131.27 559.74,130.3 560.68,129.45 561.62,128.72 562.56,128.11 563.49,127.62 564.43,127.27 565.37,127.05 566.3,126.95 567.24,126.97 568.18,127.1 569.11,127.33 570.05,127.68 570.99,128.14 571.93,128.69 572.86,129.3 573.8,130.07 574.74,131.02 575.67,132.09 576.61,133.24 577.55,134.49 578.49,135.81 579.42,137.21 580.36,138.67 581.3,140.18 582.23,141.76 583.17,143.38 584.11,145.05 585.04,146.76 585.98,148.5 586.92,150.27 587.86,152.06 588.79,153.85 589.73,155.65 590.67,157.44 591.6,159.23 592.54,161.02 593.48,162.8 594.41,164.56 595.35,166.3 596.29,168.02 597.23,169.71 598.16,171.36 599.1,172.99 600.04,174.59 600.97,176.16 601.91,177.69 602.85,179.17 603.79,180.61 604.72,182.01 605.66,183.37 606.6,184.69 607.53,185.97 608.47,187.2 609.41,188.38 610.34,189.51 611.28,190.59 612.22,191.64 613.16,192.64 614.09,193.6 615.03,194.52 615.97,195.4 616.9,196.26 617.84,197.07 618.78,197.85 619.71,198.61 620.65,199.33 621.59,200.02 622.53,200.69 623.46,201.32 624.4,201.92 625.34,202.49 626.27,203.02 627.21,203.53 628.15,204.01 629.09,204.48 630.02,204.92 630.96,205.34 631.9,205.73 632.83,206.09 633.77,206.43 634.71,206.74 635.64,207.02 636.58,207.29 637.52,207.54 638.46,207.77 639.39,208 640.33,208.2 641.27,208.39 642.2,208.57 643.14,208.74 644.08,208.9 645.01,209.05 645.95,209.19 646.89,209.32 647.83,209.44 648.76,209.56 649.7,209.67 650.64,209.77 651.57,209.87 652.51,209.95 653.45,210.04 654.39,210.11 655.32,210.18 656.26,210.23 657.2,210.29 658.13,210.34 659.07,210.38 660.01,210.43 660.94,210.47 661.88,210.51 662.82,210.55 663.76,210.58 664.69,210.61 665.63,210.64 666.57,210.67 667.5,210.69 668.44,210.72 669.38,210.74 670.31,210.76 671.25,210.77 672.19,210.79 673.13,210.8 674.06,210.81 675,210.81" fill="none" stroke="#f535f5" stroke-width="1.3" stroke-linejoin="round"/>
<polyline points="422,210.19 422.94,210.03 423.87,209.87 424.81,209.7 425.75,209.53 426.69,209.35 427.62,209.16 428.56,208.98 429.5,208.79 430.43,208.6 431.37,208.41 432.31,208.22 433.24,208.01 434.18,207.8 435.12,207.59 436.06,207.37 436.99,207.15 437.93,206.93 438.87,206.7 439.8,206.47 440.74,206.23 441.68,205.99 442.61,205.74 443.55,205.49 444.49,205.25 445.43,205.01 446.36,204.79 447.3,204.58 448.24,204.39 449.17,204.2 450.11,204.01 451.05,203.82 451.99,203.62 452.92,203.4 453.86,203.17 454.8,202.91 455.73,202.63 456.67,202.31 457.61,201.87 458.54,201.28 459.48,200.58 460.42,199.81 461.36,199.01 462.29,198.25 463.23,197.55 464.17,196.9 465.1,196.22 466.04,195.51 466.98,194.79 467.91,194.06 468.85,193.32 469.79,192.57 470.73,191.81 471.66,191.06 472.6,190.31 473.54,189.57 474.47,188.82 475.41,188.05 476.35,187.28 477.29,186.49 478.22,185.71 479.16,184.94 480.1,184.19 481.03,183.46 481.97,182.76 482.91,182.09 483.84,181.45 484.78,180.8 485.72,180.17 486.66,179.54 487.59,178.93 488.53,178.34 489.47,177.79 490.4,177.25 491.34,176.74 492.28,176.24 493.21,175.76 494.15,175.3 495.09,174.85 496.03,174.41 496.96,174 497.9,173.6 498.84,173.22 499.77,172.84 500.71,172.49 501.65,172.14 502.59,171.81 503.52,171.5 504.46,171.2 505.4,170.92 506.33,170.65 507.27,170.38 508.21,170.11 509.14,169.86 510.08,169.62 511.02,169.39 511.96,169.19 512.89,169.02 513.83,168.9 514.77,168.8 515.7,168.71 516.64,168.64 517.58,168.57 518.51,168.5 519.45,168.43 520.39,168.36 521.33,168.27 522.26,168.18 523.2,168.07 524.14,167.95 525.07,167.82 526.01,167.65 526.95,167.44 527.89,167.14 528.82,166.85 529.76,166.57 530.7,166.26 531.63,165.93 532.57,165.56 533.51,165.13 534.44,164.62 535.38,164.03 536.32,163.33 537.26,162.5 538.19,161.53 539.13,160.42 540.07,159.17 541,157.79 541.94,156.28 542.88,154.65 543.81,152.89 544.75,151.02 545.69,149.05 546.63,147.01 547.56,144.92 548.5,142.8 549.44,140.68 550.37,138.57 551.31,136.5 552.25,134.47 553.19,132.5 554.12,130.59 555.06,128.76 556,127.01 556.93,125.37 557.87,123.86 558.81,122.49 559.74,121.27 560.68,120.18 561.62,119.24 562.56,118.44 563.49,117.79 564.43,117.3 565.37,116.96 566.3,116.76 567.24,116.7 568.18,116.77 569.11,116.96 570.05,117.27 570.99,117.72 571.93,118.26 572.86,118.87 573.8,119.67 574.74,120.69 575.67,121.85 576.61,123.13 577.55,124.51 578.49,125.99 579.42,127.55 580.36,129.19 581.3,130.9 582.23,132.68 583.17,134.51 584.11,136.39 585.04,138.33 585.98,140.3 586.92,142.3 587.86,144.32 588.79,146.35 589.73,148.39 590.67,150.42 591.6,152.44 592.54,154.47 593.48,156.48 594.41,158.48 595.35,160.45 596.29,162.4 597.23,164.31 598.16,166.18 599.1,168.03 600.04,169.84 600.97,171.62 601.91,173.35 602.85,175.03 603.79,176.66 604.72,178.24 605.66,179.78 606.6,181.28 607.53,182.73 608.47,184.12 609.41,185.46 610.34,186.74 611.28,187.97 612.22,189.15 613.16,190.29 614.09,191.38 615.03,192.43 615.97,193.43 616.9,194.39 617.84,195.32 618.78,196.2 619.71,197.05 620.65,197.87 621.59,198.65 622.53,199.4 623.46,200.11 624.4,200.79 625.34,201.43 626.27,202.03 627.21,202.6 628.15,203.15 629.09,203.67 630.02,204.17 630.96,204.64 631.9,205.08 632.83,205.49 633.77,205.87 634.71,206.21 635.64,206.53 636.58,206.84 637.52,207.12 638.46,207.39 639.39,207.63 640.33,207.87 641.27,208.09 642.2,208.29 643.14,208.48 644.08,208.66 645.01,208.82 645.95,208.98 646.89,209.13 647.83,209.27 648.76,209.4 649.7,209.52 650.64,209.63 651.57,209.74 652.51,209.84 653.45,209.93 654.39,210.01 655.32,210.09 656.26,210.15 657.2,210.21 658.13,210.27 659.07,210.32 660.01,210.37 660.94,210.42 661.88,210.46 662.82,210.5 663.76,210.54 664.69,210.58 665.63,210.61 666.57,210.64 667.5,210.67 668.44,210.69 669.38,210.72 670.31,210.74 671.25,210.75 672.19,210.77 673.13,210.78 674.06,210.79 675,210.8" fill="none" stroke="#a0a030" stroke-width="1.3" stroke-linejoin="round"/>
<polyline points="422,210.12 422.94,209.94 423.87,209.76 424.81,209.57 425.75,209.38 426.69,209.19 427.62,208.99 428.56,208.79 429.5,208.59 430.43,208.38 431.37,208.18 432.31,207.97 433.24,207.75 434.18,207.53 435.12,207.3 436.06,207.07 436.99,206.84 437.93,206.62 438.87,206.38 439.8,206.14 440.74,205.89 441.68,205.64 442.61,205.38 443.55,205.13 444.49,204.88 445.43,204.63 446.36,204.4 447.3,204.19 448.24,203.99 449.17,203.79 450.11,203.6 451.05,203.4 451.99,203.19 452.92,202.97 453.86,202.73 454.8,202.47 455.73,202.18 456.67,201.86 457.61,201.42 458.54,200.82 459.48,200.12 460.42,199.34 461.36,198.55 462.29,197.78 463.23,197.08 464.17,196.41 465.1,195.71 466.04,194.99 466.98,194.24 467.91,193.47 468.85,192.69 469.79,191.91 470.73,191.12 471.66,190.32 472.6,189.54 473.54,188.77 474.47,187.99 475.41,187.18 476.35,186.37 477.29,185.55 478.22,184.73 479.16,183.92 480.1,183.13 481.03,182.37 481.97,181.65 482.91,180.97 483.84,180.31 484.78,179.65 485.72,179 486.66,178.36 487.59,177.74 488.53,177.14 489.47,176.58 490.4,176.04 491.34,175.52 492.28,175.02 493.21,174.53 494.15,174.06 495.09,173.61 496.03,173.17 496.96,172.75 497.9,172.35 498.84,171.97 499.77,171.59 500.71,171.23 501.65,170.89 502.59,170.56 503.52,170.25 504.46,169.96 505.4,169.68 506.33,169.41 507.27,169.14 508.21,168.88 509.14,168.63 510.08,168.39 511.02,168.17 511.96,167.98 512.89,167.82 513.83,167.7 514.77,167.61 515.7,167.54 516.64,167.47 517.58,167.41 518.51,167.35 519.45,167.29 520.39,167.22 521.33,167.14 522.26,167.04 523.2,166.94 524.14,166.82 525.07,166.67 526.01,166.49 526.95,166.26 527.89,165.93 528.82,165.62 529.76,165.31 530.7,164.99 531.63,164.64 532.57,164.25 533.51,163.79 534.44,163.24 535.38,162.6 536.32,161.83 537.26,160.91 538.19,159.82 539.13,158.58 540.07,157.18 541,155.62 541.94,153.91 542.88,152.06 543.81,150.06 544.75,147.93 545.69,145.69 546.63,143.36 547.56,140.97 548.5,138.54 549.44,136.1 550.37,133.68 551.31,131.29 552.25,128.95 553.19,126.67 554.12,124.47 555.06,122.34 556,120.32 556.93,118.41 557.87,116.65 558.81,115.04 559.74,113.6 560.68,112.32 561.62,111.2 562.56,110.24 563.49,109.45 564.43,108.84 565.37,108.39 566.3,108.11 567.24,107.99 568.18,108.01 569.11,108.16 570.05,108.45 570.99,108.88 571.93,109.41 572.86,110.02 573.8,110.84 574.74,111.92 575.67,113.17 576.61,114.54 577.55,116.04 578.49,117.65 579.42,119.36 580.36,121.15 581.3,123.03 582.23,124.97 583.17,126.98 584.11,129.05 585.04,131.17 585.98,133.34 586.92,135.54 587.86,137.76 588.79,139.99 589.73,142.23 590.67,144.46 591.6,146.68 592.54,148.91 593.48,151.12 594.41,153.32 595.35,155.49 596.29,157.63 597.23,159.73 598.16,161.79 599.1,163.82 600.04,165.81 600.97,167.76 601.91,169.66 602.85,171.51 603.79,173.3 604.72,175.05 605.66,176.74 606.6,178.39 607.53,179.98 608.47,181.51 609.41,182.98 610.34,184.4 611.28,185.75 612.22,187.05 613.16,188.3 614.09,189.5 615.03,190.65 615.97,191.75 616.9,192.81 617.84,193.83 618.78,194.8 619.71,195.74 620.65,196.63 621.59,197.49 622.53,198.31 623.46,199.09 624.4,199.83 625.34,200.53 626.27,201.19 627.21,201.82 628.15,202.42 629.09,202.99 630.02,203.53 630.96,204.04 631.9,204.52 632.83,204.97 633.77,205.39 634.71,205.77 635.64,206.12 636.58,206.45 637.52,206.76 638.46,207.06 639.39,207.33 640.33,207.59 641.27,207.82 642.2,208.05 643.14,208.26 644.08,208.45 645.01,208.63 645.95,208.8 646.89,208.96 647.83,209.12 648.76,209.26 649.7,209.39 650.64,209.52 651.57,209.63 652.51,209.74 653.45,209.84 654.39,209.93 655.32,210.01 656.26,210.08 657.2,210.15 658.13,210.21 659.07,210.27 660.01,210.32 660.94,210.37 661.88,210.42 662.82,210.47 663.76,210.51 664.69,210.55 665.63,210.58 666.57,210.62 667.5,210.65 668.44,210.67 669.38,210.7 670.31,210.72 671.25,210.74 672.19,210.76 673.13,210.77 674.06,210.78 675,210.79" fill="none" stroke="#35359a" stroke-width="1.3" stroke-linejoin="round"/>
<polyline points="422,210.04 422.94,209.85 423.87,209.65 424.81,209.45 425.75,209.24 426.69,209.03 427.62,208.82 428.56,208.6 429.5,208.38 430.43,208.16 431.37,207.95 432.31,207.73 433.24,207.5 434.18,207.26 435.12,207.02 436.06,206.78 436.99,206.54 437.93,206.3 438.87,206.06 439.8,205.81 440.74,205.55 441.68,205.29 442.61,205.03 443.55,204.77 444.49,204.51 445.43,204.25 446.36,204.02 447.3,203.79 448.24,203.59 449.17,203.38 450.11,203.18 451.05,202.98 451.99,202.77 452.92,202.54 453.86,202.3 454.8,202.03 455.73,201.73 456.67,201.41 457.61,200.96 458.54,200.37 459.48,199.66 460.42,198.88 461.36,198.08 462.29,197.31 463.23,196.6 464.17,195.93 465.1,195.21 466.04,194.46 466.98,193.68 467.91,192.89 468.85,192.07 469.79,191.25 470.73,190.42 471.66,189.59 472.6,188.77 473.54,187.96 474.47,187.15 475.41,186.31 476.35,185.46 477.29,184.6 478.22,183.74 479.16,182.9 480.1,182.08 481.03,181.29 481.97,180.54 482.91,179.84 483.84,179.17 484.78,178.49 485.72,177.83 486.66,177.18 487.59,176.54 488.53,175.94 489.47,175.37 490.4,174.82 491.34,174.29 492.28,173.79 493.21,173.3 494.15,172.83 495.09,172.37 496.03,171.93 496.96,171.51 497.9,171.11 498.84,170.72 499.77,170.34 500.71,169.98 501.65,169.64 502.59,169.31 503.52,169 504.46,168.71 505.4,168.43 506.33,168.17 507.27,167.91 508.21,167.65 509.14,167.4 510.08,167.17 511.02,166.96 511.96,166.77 512.89,166.62 513.83,166.51 514.77,166.43 515.7,166.36 516.64,166.31 517.58,166.26 518.51,166.21 519.45,166.16 520.39,166.09 521.33,166.01 522.26,165.92 523.2,165.82 524.14,165.69 525.07,165.55 526.01,165.36 526.95,165.12 527.89,164.75 528.82,164.43 529.76,164.11 530.7,163.79 531.63,163.44 532.57,163.04 533.51,162.56 534.44,162 535.38,161.33 536.32,160.51 537.26,159.53 538.19,158.37 539.13,157.03 540.07,155.5 541,153.81 541.94,151.94 542.88,149.92 543.81,147.72 544.75,145.38 545.69,142.92 546.63,140.35 547.56,137.72 548.5,135.04 549.44,132.35 550.37,129.67 551.31,127.02 552.25,124.42 553.19,121.89 554.12,119.44 555.06,117.08 556,114.82 556.93,112.69 557.87,110.73 558.81,108.93 559.74,107.31 560.68,105.87 561.62,104.6 562.56,103.51 563.49,102.61 564.43,101.9 565.37,101.37 566.3,101.02 567.24,100.84 568.18,100.81 569.11,100.93 570.05,101.2 570.99,101.62 571.93,102.15 572.86,102.75 573.8,103.6 574.74,104.73 575.67,106.04 576.61,107.5 577.55,109.1 578.49,110.81 579.42,112.64 580.36,114.56 581.3,116.56 582.23,118.65 583.17,120.8 584.11,123.03 585.04,125.3 585.98,127.63 586.92,129.99 587.86,132.37 588.79,134.77 589.73,137.17 590.67,139.57 591.6,141.96 592.54,144.35 593.48,146.73 594.41,149.08 595.35,151.41 596.29,153.71 597.23,155.97 598.16,158.18 599.1,160.36 600.04,162.5 600.97,164.6 601.91,166.64 602.85,168.63 603.79,170.55 604.72,172.42 605.66,174.24 606.6,176.01 607.53,177.72 608.47,179.37 609.41,180.95 610.34,182.47 611.28,183.92 612.22,185.32 613.16,186.66 614.09,187.95 615.03,189.19 615.97,190.38 616.9,191.52 617.84,192.61 618.78,193.65 619.71,194.66 620.65,195.62 621.59,196.54 622.53,197.42 623.46,198.25 624.4,199.05 625.34,199.8 626.27,200.51 627.21,201.18 628.15,201.82 629.09,202.43 630.02,203.01 630.96,203.56 631.9,204.07 632.83,204.55 633.77,204.99 634.71,205.4 635.64,205.78 636.58,206.14 637.52,206.47 638.46,206.79 639.39,207.08 640.33,207.35 641.27,207.61 642.2,207.85 643.14,208.07 644.08,208.28 645.01,208.48 645.95,208.66 646.89,208.83 647.83,208.99 648.76,209.15 649.7,209.29 650.64,209.42 651.57,209.55 652.51,209.66 653.45,209.77 654.39,209.86 655.32,209.95 656.26,210.03 657.2,210.1 658.13,210.16 659.07,210.23 660.01,210.28 660.94,210.34 661.88,210.39 662.82,210.44 663.76,210.48 664.69,210.52 665.63,210.56 666.57,210.59 667.5,210.63 668.44,210.66 669.38,210.68 670.31,210.71 671.25,210.73 672.19,210.74 673.13,210.76 674.06,210.77 675,210.78" fill="none" stroke="#a03838" stroke-width="1.3" stroke-linejoin="round"/>
<polyline points="422,209.97 422.94,209.76 423.87,209.54 424.81,209.32 425.75,209.1 426.69,208.87 427.62,208.64 428.56,208.41 429.5,208.18 430.43,207.95 431.37,207.71 432.31,207.48 433.24,207.24 434.18,206.99 435.12,206.74 436.06,206.49 436.99,206.24 437.93,205.99 438.87,205.74 439.8,205.48 440.74,205.21 441.68,204.94 442.61,204.67 443.55,204.4 444.49,204.13 445.43,203.87 446.36,203.63 447.3,203.4 448.24,203.18 449.17,202.98 450.11,202.77 451.05,202.56 451.99,202.34 452.92,202.11 453.86,201.86 454.8,201.59 455.73,201.29 456.67,200.95 457.61,200.51 458.54,199.91 459.48,199.2 460.42,198.42 461.36,197.61 462.29,196.84 463.23,196.13 464.17,195.44 465.1,194.71 466.04,193.93 466.98,193.13 467.91,192.3 468.85,191.45 469.79,190.59 470.73,189.72 471.66,188.86 472.6,188 473.54,187.16 474.47,186.32 475.41,185.44 476.35,184.55 477.29,183.65 478.22,182.76 479.16,181.88 480.1,181.03 481.03,180.21 481.97,179.43 482.91,178.71 483.84,178.02 484.78,177.34 485.72,176.66 486.66,176 487.59,175.35 488.53,174.74 489.47,174.16 490.4,173.6 491.34,173.07 492.28,172.56 493.21,172.07 494.15,171.59 495.09,171.13 496.03,170.69 496.96,170.26 497.9,169.86 498.84,169.47 499.77,169.09 500.71,168.73 501.65,168.38 502.59,168.06 503.52,167.75 504.46,167.46 505.4,167.19 506.33,166.93 507.27,166.67 508.21,166.42 509.14,166.18 510.08,165.95 511.02,165.74 511.96,165.56 512.89,165.42 513.83,165.32 514.77,165.25 515.7,165.19 516.64,165.15 517.58,165.11 518.51,165.07 519.45,165.03 520.39,164.97 521.33,164.9 522.26,164.82 523.2,164.72 524.14,164.6 525.07,164.46 526.01,164.27 526.95,164.03 527.89,163.65 528.82,163.32 529.76,163.02 530.7,162.71 531.63,162.38 532.57,162 533.51,161.55 534.44,161.01 535.38,160.34 536.32,159.53 537.26,158.54 538.19,157.35 539.13,155.98 540.07,154.4 541,152.64 541.94,150.7 542.88,148.57 543.81,146.27 544.75,143.81 545.69,141.22 546.63,138.52 547.56,135.74 548.5,132.92 549.44,130.07 550.37,127.23 551.31,124.43 552.25,121.68 553.19,119 554.12,116.39 555.06,113.89 556,111.49 556.93,109.23 557.87,107.14 558.81,105.23 559.74,103.5 560.68,101.96 561.62,100.61 562.56,99.44 563.49,98.46 564.43,97.69 565.37,97.11 566.3,96.72 567.24,96.51 568.18,96.46 569.11,96.56 570.05,96.81 570.99,97.22 571.93,97.75 572.86,98.35 573.8,99.21 574.74,100.37 575.67,101.73 576.61,103.23 577.55,104.89 578.49,106.67 579.42,108.56 580.36,110.56 581.3,112.65 582.23,114.82 583.17,117.06 584.11,119.38 585.04,121.75 585.98,124.17 586.92,126.62 587.86,129.11 588.79,131.6 589.73,134.11 590.67,136.6 591.6,139.1 592.54,141.58 593.48,144.06 594.41,146.52 595.35,148.95 596.29,151.34 597.23,153.69 598.16,156 599.1,158.27 600.04,160.5 600.97,162.68 601.91,164.81 602.85,166.88 603.79,168.88 604.72,170.83 605.66,172.73 606.6,174.57 607.53,176.35 608.47,178.07 609.41,179.72 610.34,181.3 611.28,182.81 612.22,184.27 613.16,185.67 614.09,187.02 615.03,188.31 615.97,189.55 616.9,190.73 617.84,191.87 618.78,192.96 619.71,194 620.65,195 621.59,195.96 622.53,196.87 623.46,197.74 624.4,198.57 625.34,199.35 626.27,200.09 627.21,200.79 628.15,201.45 629.09,202.09 630.02,202.69 630.96,203.26 631.9,203.79 632.83,204.29 633.77,204.76 634.71,205.18 635.64,205.58 636.58,205.95 637.52,206.3 638.46,206.62 639.39,206.93 640.33,207.21 641.27,207.48 642.2,207.73 643.14,207.96 644.08,208.18 645.01,208.38 645.95,208.57 646.89,208.75 647.83,208.92 648.76,209.08 649.7,209.23 650.64,209.37 651.57,209.49 652.51,209.61 653.45,209.72 654.39,209.82 655.32,209.91 656.26,209.99 657.2,210.07 658.13,210.14 659.07,210.2 660.01,210.26 660.94,210.32 661.88,210.37 662.82,210.42 663.76,210.46 664.69,210.51 665.63,210.55 666.57,210.58 667.5,210.62 668.44,210.65 669.38,210.67 670.31,210.7 671.25,210.72 672.19,210.74 673.13,210.75 674.06,210.77 675,210.78" fill="none" stroke="#f53898" stroke-width="1.3" stroke-linejoin="round"/>
<polyline points="422,209.89 422.94,209.67 423.87,209.43 424.81,209.2 425.75,208.96 426.69,208.71 427.62,208.47 428.56,208.22 429.5,207.97 430.43,207.73 431.37,207.48 432.31,207.23 433.24,206.98 434.18,206.72 435.12,206.46 436.06,206.19 436.99,205.93 437.93,205.68 438.87,205.42 439.8,205.15 440.74,204.87 441.68,204.59 442.61,204.31 443.55,204.04 444.49,203.76 445.43,203.49 446.36,203.24 447.3,203.01 448.24,202.78 449.17,202.57 450.11,202.35 451.05,202.14 451.99,201.91 452.92,201.68 453.86,201.42 454.8,201.15 455.73,200.84 456.67,200.5 457.61,200.06 458.54,199.45 459.48,198.73 460.42,197.95 461.36,197.15 462.29,196.37 463.23,195.65 464.17,194.95 465.1,194.2 466.04,193.41 466.98,192.57 467.91,191.71 468.85,190.83 469.79,189.93 470.73,189.03 471.66,188.12 472.6,187.23 473.54,186.36 474.47,185.48 475.41,184.57 476.35,183.64 477.29,182.71 478.22,181.78 479.16,180.86 480.1,179.97 481.03,179.12 481.97,178.32 482.91,177.58 483.84,176.88 484.78,176.18 485.72,175.49 486.66,174.81 487.59,174.16 488.53,173.54 489.47,172.95 490.4,172.39 491.34,171.85 492.28,171.33 493.21,170.84 494.15,170.36 495.09,169.89 496.03,169.44 496.96,169.02 497.9,168.61 498.84,168.22 499.77,167.84 500.71,167.48 501.65,167.13 502.59,166.8 503.52,166.5 504.46,166.21 505.4,165.95 506.33,165.69 507.27,165.43 508.21,165.19 509.14,164.95 510.08,164.73 511.02,164.53 511.96,164.35 512.89,164.22 513.83,164.12 514.77,164.06 515.7,164.02 516.64,163.99 517.58,163.96 518.51,163.93 519.45,163.9 520.39,163.85 521.33,163.79 522.26,163.71 523.2,163.62 524.14,163.51 525.07,163.36 526.01,163.18 526.95,162.94 527.89,162.55 528.82,162.21 529.76,161.91 530.7,161.62 531.63,161.31 532.57,160.95 533.51,160.52 534.44,159.99 535.38,159.33 536.32,158.52 537.26,157.51 538.19,156.3 539.13,154.88 540.07,153.25 541,151.41 541.94,149.38 542.88,147.16 543.81,144.74 544.75,142.15 545.69,139.43 546.63,136.58 547.56,133.65 548.5,130.67 549.44,127.66 550.37,124.66 551.31,121.69 552.25,118.77 553.19,115.93 554.12,113.17 555.06,110.51 556,107.96 556.93,105.57 557.87,103.34 558.81,101.31 559.74,99.47 560.68,97.82 561.62,96.38 562.56,95.12 563.49,94.08 564.43,93.24 565.37,92.61 566.3,92.17 567.24,91.92 568.18,91.84 569.11,91.92 570.05,92.17 570.99,92.57 571.93,93.09 572.86,93.7 573.8,94.57 574.74,95.76 575.67,97.16 576.61,98.72 577.55,100.43 578.49,102.28 579.42,104.25 580.36,106.33 581.3,108.5 582.23,110.77 583.17,113.1 584.11,115.51 585.04,117.98 585.98,120.51 586.92,123.07 587.86,125.65 588.79,128.25 589.73,130.86 590.67,133.47 591.6,136.07 592.54,138.66 593.48,141.24 594.41,143.8 595.35,146.34 596.29,148.83 597.23,151.28 598.16,153.69 599.1,156.06 600.04,158.38 600.97,160.65 601.91,162.87 602.85,165.03 603.79,167.12 604.72,169.15 605.66,171.13 606.6,173.05 607.53,174.9 608.47,176.69 609.41,178.41 610.34,180.06 611.28,181.64 612.22,183.16 613.16,184.62 614.09,186.03 615.03,187.37 615.97,188.66 616.9,189.9 617.84,191.09 618.78,192.22 619.71,193.31 620.65,194.35 621.59,195.35 622.53,196.3 623.46,197.21 624.4,198.07 625.34,198.88 626.27,199.65 627.21,200.38 628.15,201.07 629.09,201.73 630.02,202.36 630.96,202.95 631.9,203.5 632.83,204.02 633.77,204.5 634.71,204.95 635.64,205.36 636.58,205.75 637.52,206.11 638.46,206.45 639.39,206.77 640.33,207.06 641.27,207.34 642.2,207.6 643.14,207.84 644.08,208.07 645.01,208.28 645.95,208.48 646.89,208.67 647.83,208.84 648.76,209.01 649.7,209.16 650.64,209.3 651.57,209.44 652.51,209.56 653.45,209.68 654.39,209.78 655.32,209.87 656.26,209.96 657.2,210.03 658.13,210.1 659.07,210.17 660.01,210.23 660.94,210.29 661.88,210.35 662.82,210.4 663.76,210.45 664.69,210.49 665.63,210.53 666.57,210.57 667.5,210.6 668.44,210.63 669.38,210.66 670.31,210.69 671.25,210.71 672.19,210.73 673.13,210.75 674.06,210.76 675,210.77" fill="none" stroke="#2a9a35" stroke-width="1.3" stroke-linejoin="round"/>
<polyline points="422,209.82 422.94,209.57 423.87,209.32 424.81,209.07 425.75,208.81 426.69,208.56 427.62,208.29 428.56,208.03 429.5,207.77 430.43,207.51 431.37,207.25 432.31,206.99 433.24,206.72 434.18,206.45 435.12,206.18 436.06,205.9 436.99,205.63 437.93,205.36 438.87,205.09 439.8,204.81 440.74,204.53 441.68,204.24 442.61,203.96 443.55,203.67 444.49,203.39 445.43,203.12 446.36,202.86 447.3,202.61 448.24,202.38 449.17,202.16 450.11,201.94 451.05,201.72 451.99,201.49 452.92,201.25 453.86,200.99 454.8,200.71 455.73,200.4 456.67,200.05 457.61,199.6 458.54,198.99 459.48,198.27 460.42,197.49 461.36,196.68 462.29,195.89 463.23,195.17 464.17,194.47 465.1,193.7 466.04,192.88 466.98,192.02 467.91,191.12 468.85,190.21 469.79,189.27 470.73,188.33 471.66,187.39 472.6,186.46 473.54,185.56 474.47,184.65 475.41,183.7 476.35,182.74 477.29,181.76 478.22,180.79 479.16,179.84 480.1,178.92 481.03,178.04 481.97,177.21 482.91,176.46 483.84,175.74 484.78,175.02 485.72,174.32 486.66,173.63 487.59,172.97 488.53,172.34 489.47,171.74 490.4,171.17 491.34,170.63 492.28,170.11 493.21,169.61 494.15,169.12 495.09,168.65 496.03,168.2 496.96,167.77 497.9,167.36 498.84,166.97 499.77,166.59 500.71,166.22 501.65,165.88 502.59,165.55 503.52,165.25 504.46,164.96 505.4,164.7 506.33,164.45 507.27,164.2 508.21,163.96 509.14,163.72 510.08,163.51 511.02,163.31 511.96,163.14 512.89,163.01 513.83,162.93 514.77,162.88 515.7,162.85 516.64,162.83 517.58,162.81 518.51,162.79 519.45,162.77 520.39,162.73 521.33,162.68 522.26,162.61 523.2,162.52 524.14,162.41 525.07,162.27 526.01,162.08 526.95,161.84 527.89,161.43 528.82,161.1 529.76,160.8 530.7,160.52 531.63,160.22 532.57,159.88 533.51,159.47 534.44,158.95 535.38,158.3 536.32,157.48 537.26,156.45 538.19,155.21 539.13,153.74 540.07,152.04 541,150.13 541.94,148 542.88,145.67 543.81,143.13 544.75,140.41 545.69,137.54 546.63,134.54 547.56,131.45 548.5,128.29 549.44,125.11 550.37,121.94 551.31,118.8 552.25,115.71 553.19,112.69 554.12,109.76 555.06,106.94 556,104.24 556.93,101.7 557.87,99.34 558.81,97.17 559.74,95.21 560.68,93.46 561.62,91.91 562.56,90.57 563.49,89.44 564.43,88.54 565.37,87.85 566.3,87.37 567.24,87.08 568.18,86.98 569.11,87.03 570.05,87.27 570.99,87.66 571.93,88.18 572.86,88.78 573.8,89.67 574.74,90.89 575.67,92.33 576.61,93.95 577.55,95.73 578.49,97.65 579.42,99.7 580.36,101.87 581.3,104.13 582.23,106.49 583.17,108.92 584.11,111.43 585.04,114.01 585.98,116.64 586.92,119.31 587.86,122.01 588.79,124.72 589.73,127.44 590.67,130.15 591.6,132.87 592.54,135.57 593.48,138.27 594.41,140.94 595.35,143.58 596.29,146.18 597.23,148.74 598.16,151.25 599.1,153.72 600.04,156.14 600.97,158.51 601.91,160.82 602.85,163.07 603.79,165.26 604.72,167.38 605.66,169.44 606.6,171.44 607.53,173.38 608.47,175.24 609.41,177.04 610.34,178.76 611.28,180.41 612.22,181.99 613.16,183.52 614.09,184.98 615.03,186.39 615.97,187.73 616.9,189.02 617.84,190.26 618.78,191.44 619.71,192.58 620.65,193.67 621.59,194.7 622.53,195.7 623.46,196.64 624.4,197.54 625.34,198.38 626.27,199.18 627.21,199.94 628.15,200.66 629.09,201.35 630.02,202 630.96,202.62 631.9,203.2 632.83,203.74 633.77,204.24 634.71,204.7 635.64,205.13 636.58,205.53 637.52,205.91 638.46,206.26 639.39,206.6 640.33,206.91 641.27,207.2 642.2,207.47 643.14,207.72 644.08,207.96 645.01,208.18 645.95,208.38 646.89,208.58 647.83,208.76 648.76,208.93 649.7,209.09 650.64,209.24 651.57,209.38 652.51,209.51 653.45,209.63 654.39,209.73 655.32,209.83 656.26,209.92 657.2,210 658.13,210.07 659.07,210.14 660.01,210.21 660.94,210.27 661.88,210.33 662.82,210.38 663.76,210.43 664.69,210.47 665.63,210.52 666.57,210.55 667.5,210.59 668.44,210.62 669.38,210.65 670.31,210.68 671.25,210.7 672.19,210.72 673.13,210.74 674.06,210.75 675,210.77" fill="none" stroke="#2626aa" stroke-width="1.3" stroke-linejoin="round"/>
<line x1="417.5" y1="211" x2="422" y2="211" stroke="#000" stroke-width="1.6"/>
<line x1="419.5" y1="185.38" x2="422" y2="185.38" stroke="#000" stroke-width="1.6"/>
<line x1="417.5" y1="159.75" x2="422" y2="159.75" stroke="#000" stroke-width="1.6"/>
<line x1="419.5" y1="134.12" x2="422" y2="134.12" stroke="#000" stroke-width="1.6"/>
<line x1="417.5" y1="108.5" x2="422" y2="108.5" stroke="#000" stroke-width="1.6"/>
<line x1="419.5" y1="82.88" x2="422" y2="82.88" stroke="#000" stroke-width="1.6"/>
<line x1="417.5" y1="57.25" x2="422" y2="57.25" stroke="#000" stroke-width="1.6"/>
<line x1="419.5" y1="31.63" x2="422" y2="31.63" stroke="#000" stroke-width="1.6"/>
<line x1="417.5" y1="6" x2="422" y2="6" stroke="#000" stroke-width="1.6"/>
<line x1="440.74" y1="211" x2="440.74" y2="215.5" stroke="#000" stroke-width="1.6"/>
<line x1="464.17" y1="211" x2="464.17" y2="213.5" stroke="#000" stroke-width="1.6"/>
<line x1="487.59" y1="211" x2="487.59" y2="215.5" stroke="#000" stroke-width="1.6"/>
<line x1="511.02" y1="211" x2="511.02" y2="213.5" stroke="#000" stroke-width="1.6"/>
<line x1="534.44" y1="211" x2="534.44" y2="215.5" stroke="#000" stroke-width="1.6"/>
<line x1="557.87" y1="211" x2="557.87" y2="213.5" stroke="#000" stroke-width="1.6"/>
<line x1="581.3" y1="211" x2="581.3" y2="215.5" stroke="#000" stroke-width="1.6"/>
<line x1="604.72" y1="211" x2="604.72" y2="213.5" stroke="#000" stroke-width="1.6"/>
<line x1="628.15" y1="211" x2="628.15" y2="215.5" stroke="#000" stroke-width="1.6"/>
<line x1="651.57" y1="211" x2="651.57" y2="213.5" stroke="#000" stroke-width="1.6"/>
<line x1="675" y1="211" x2="675" y2="215.5" stroke="#000" stroke-width="1.6"/>
<rect x="422" y="6" width="253" height="205" fill="none" stroke="#000" stroke-width="2"/>
<line x1="608.4" y1="164.7" x2="608.4" y2="89.3" stroke="#555" stroke-width="0.9"/>
<path d="M608.4 82.89999999999999 L613.6 93.1 L608.4 90.89999999999999 L603.1999999999999 93.1 Z" fill="#000"/>
<polyline points="70,463.12 70.94,463.06 71.87,462.99 72.81,462.91 73.74,462.83 74.68,462.74 75.61,462.64 76.55,462.54 77.48,462.44 78.42,462.33 79.35,462.22 80.29,462.1 81.22,461.97 82.16,461.83 83.09,461.68 84.03,461.52 84.96,461.36 85.9,461.19 86.83,461.02 87.77,460.84 88.7,460.65 89.64,460.45 90.57,460.25 91.51,460.05 92.44,459.85 93.38,459.66 94.31,459.47 95.25,459.31 96.19,459.15 97.12,458.99 98.06,458.84 98.99,458.68 99.93,458.52 100.86,458.33 101.8,458.13 102.73,457.9 103.67,457.64 104.6,457.35 105.54,456.94 106.47,456.36 107.41,455.68 108.34,454.92 109.28,454.15 110.21,453.4 111.15,452.74 112.08,452.14 113.02,451.55 113.95,450.98 114.89,450.42 115.82,449.87 116.76,449.33 117.69,448.78 118.63,448.24 119.56,447.69 120.5,447.14 121.44,446.59 122.37,446.02 123.31,445.46 124.24,444.89 125.18,444.33 126.11,443.76 127.05,443.2 127.98,442.63 128.92,442.07 129.85,441.51 130.79,440.95 131.72,440.39 132.66,439.82 133.59,439.26 134.53,438.7 135.46,438.15 136.4,437.61 137.33,437.11 138.27,436.62 139.2,436.13 140.14,435.66 141.07,435.21 142.01,434.76 142.94,434.33 143.88,433.92 144.81,433.52 145.75,433.13 146.69,432.76 147.62,432.4 148.56,432.05 149.49,431.7 150.43,431.37 151.36,431.05 152.3,430.74 153.23,430.44 154.17,430.15 155.1,429.85 156.04,429.56 156.97,429.28 157.91,429 158.84,428.75 159.78,428.52 160.71,428.31 161.65,428.14 162.58,427.99 163.52,427.85 164.45,427.72 165.39,427.6 166.32,427.49 167.26,427.39 168.19,427.29 169.13,427.2 170.06,427.11 171,427.03 171.94,426.96 172.87,426.9 173.81,426.83 174.74,426.77 175.68,426.69 176.61,426.6 177.55,426.49 178.48,426.36 179.42,426.21 180.35,426.05 181.29,425.89 182.22,425.73 183.16,425.57 184.09,425.42 185.03,425.26 185.96,425.1 186.9,424.95 187.83,424.8 188.77,424.67 189.7,424.55 190.64,424.44 191.57,424.33 192.51,424.23 193.44,424.13 194.38,424.04 195.31,423.97 196.25,423.93 197.19,423.91 198.12,423.93 199.06,423.98 199.99,424.07 200.93,424.17 201.86,424.29 202.8,424.42 203.73,424.55 204.67,424.7 205.6,424.87 206.54,425.08 207.47,425.31 208.41,425.56 209.34,425.82 210.28,426.09 211.21,426.38 212.15,426.69 213.08,427.03 214.02,427.4 214.95,427.79 215.89,428.21 216.82,428.65 217.76,429.14 218.69,429.68 219.63,430.27 220.56,430.88 221.5,431.51 222.44,432.14 223.37,432.75 224.31,433.35 225.24,433.94 226.18,434.54 227.11,435.14 228.05,435.75 228.98,436.36 229.92,436.99 230.85,437.62 231.79,438.27 232.72,438.93 233.66,439.6 234.59,440.28 235.53,440.97 236.46,441.65 237.4,442.33 238.33,443 239.27,443.67 240.2,444.34 241.14,445.01 242.07,445.68 243.01,446.34 243.94,446.98 244.88,447.61 245.81,448.23 246.75,448.84 247.69,449.45 248.62,450.04 249.56,450.62 250.49,451.18 251.43,451.71 252.36,452.23 253.3,452.75 254.23,453.24 255.17,453.73 256.1,454.19 257.04,454.63 257.97,455.04 258.91,455.44 259.84,455.82 260.78,456.18 261.71,456.53 262.65,456.87 263.58,457.2 264.52,457.52 265.45,457.82 266.39,458.12 267.32,458.41 268.26,458.69 269.19,458.96 270.13,459.23 271.06,459.48 272,459.73 272.94,459.96 273.87,460.17 274.81,460.37 275.74,460.57 276.68,460.77 277.61,460.95 278.55,461.13 279.48,461.3 280.42,461.45 281.35,461.59 282.29,461.71 283.22,461.81 284.16,461.92 285.09,462.01 286.03,462.1 286.96,462.19 287.9,462.27 288.83,462.35 289.77,462.42 290.7,462.48 291.64,462.54 292.57,462.6 293.51,462.66 294.44,462.71 295.38,462.77 296.31,462.82 297.25,462.87 298.19,462.91 299.12,462.96 300.06,463 300.99,463.03 301.93,463.06 302.86,463.09 303.8,463.12 304.73,463.14 305.67,463.16 306.6,463.18 307.54,463.2 308.47,463.21 309.41,463.23 310.34,463.25 311.28,463.27 312.21,463.28 313.15,463.3 314.08,463.31 315.02,463.32 315.95,463.33 316.89,463.34 317.82,463.35 318.76,463.36 319.69,463.36 320.63,463.37 321.56,463.37 322.5,463.37" fill="none" stroke="#151515" stroke-width="1.3" stroke-linejoin="round"/>
<polyline points="70,462.97 70.94,462.87 71.87,462.77 72.81,462.66 73.74,462.54 74.68,462.42 75.61,462.3 76.55,462.17 77.48,462.03 78.42,461.9 79.35,461.76 80.29,461.61 81.22,461.46 82.16,461.29 83.09,461.12 84.03,460.94 84.96,460.76 85.9,460.57 86.83,460.38 87.77,460.18 88.7,459.97 89.64,459.76 90.57,459.54 91.51,459.33 92.44,459.11 93.38,458.9 94.31,458.7 95.25,458.52 96.19,458.35 97.12,458.19 98.06,458.02 98.99,457.85 99.93,457.67 100.86,457.48 101.8,457.26 102.73,457.03 103.67,456.76 104.6,456.45 105.54,456.04 106.47,455.46 107.41,454.76 108.34,454 109.28,453.22 110.21,452.47 111.15,451.79 112.08,451.17 113.02,450.55 113.95,449.94 114.89,449.32 115.82,448.71 116.76,448.09 117.69,447.47 118.63,446.86 119.56,446.24 120.5,445.62 121.44,445 122.37,444.37 123.31,443.73 124.24,443.09 125.18,442.45 126.11,441.81 127.05,441.17 127.98,440.54 128.92,439.92 129.85,439.31 130.79,438.71 131.72,438.12 132.66,437.53 133.59,436.94 134.53,436.35 135.46,435.78 136.4,435.23 137.33,434.71 138.27,434.2 139.2,433.71 140.14,433.23 141.07,432.76 142.01,432.31 142.94,431.87 143.88,431.45 144.81,431.05 145.75,430.66 146.69,430.28 147.62,429.91 148.56,429.56 149.49,429.22 150.43,428.88 151.36,428.57 152.3,428.26 153.23,427.97 154.17,427.68 155.1,427.39 156.04,427.1 156.97,426.82 157.91,426.55 158.84,426.3 159.78,426.07 160.71,425.87 161.65,425.69 162.58,425.54 163.52,425.39 164.45,425.25 165.39,425.11 166.32,424.97 167.26,424.83 168.19,424.67 169.13,424.5 170.06,424.32 171,424.13 171.94,423.92 172.87,423.69 173.81,423.44 174.74,423.15 175.68,422.8 176.61,422.43 177.55,422.02 178.48,421.57 179.42,421.08 180.35,420.55 181.29,419.98 182.22,419.37 183.16,418.72 184.09,418.01 185.03,417.25 185.96,416.42 186.9,415.55 187.83,414.63 188.77,413.67 189.7,412.69 190.64,411.68 191.57,410.63 192.51,409.56 193.44,408.49 194.38,407.41 195.31,406.35 196.25,405.33 197.19,404.34 198.12,403.41 199.06,402.55 199.99,401.75 200.93,401.01 201.86,400.33 202.8,399.7 203.73,399.14 204.67,398.64 205.6,398.23 206.54,397.91 207.47,397.67 208.41,397.51 209.34,397.41 210.28,397.39 211.21,397.43 212.15,397.55 213.08,397.74 214.02,398 214.95,398.32 215.89,398.69 216.82,399.11 217.76,399.59 218.69,400.21 219.63,400.98 220.56,401.85 221.5,402.79 222.44,403.78 223.37,404.79 224.31,405.83 225.24,406.9 226.18,408.01 227.11,409.14 228.05,410.3 228.98,411.49 229.92,412.7 230.85,413.94 231.79,415.2 232.72,416.49 233.66,417.79 234.59,419.11 235.53,420.43 236.46,421.76 237.4,423.08 238.33,424.39 239.27,425.69 240.2,426.99 241.14,428.28 242.07,429.56 243.01,430.83 243.94,432.07 244.88,433.29 245.81,434.48 246.75,435.66 247.69,436.81 248.62,437.94 249.56,439.05 250.49,440.12 251.43,441.15 252.36,442.15 253.3,443.14 254.23,444.09 255.17,445.01 256.1,445.9 257.04,446.75 257.97,447.56 258.91,448.33 259.84,449.08 260.78,449.79 261.71,450.48 262.65,451.15 263.58,451.79 264.52,452.4 265.45,452.99 266.39,453.56 267.32,454.11 268.26,454.64 269.19,455.15 270.13,455.64 271.06,456.11 272,456.55 272.94,456.97 273.87,457.37 274.81,457.75 275.74,458.11 276.68,458.46 277.61,458.8 278.55,459.11 279.48,459.41 280.42,459.69 281.35,459.94 282.29,460.17 283.22,460.38 284.16,460.58 285.09,460.77 286.03,460.95 286.96,461.11 287.9,461.27 288.83,461.42 289.77,461.55 290.7,461.68 291.64,461.8 292.57,461.91 293.51,462.02 294.44,462.12 295.38,462.22 296.31,462.31 297.25,462.4 298.19,462.48 299.12,462.56 300.06,462.63 300.99,462.69 301.93,462.75 302.86,462.81 303.8,462.85 304.73,462.89 305.67,462.93 306.6,462.97 307.54,463.01 308.47,463.04 309.41,463.07 310.34,463.1 311.28,463.13 312.21,463.16 313.15,463.18 314.08,463.21 315.02,463.23 315.95,463.25 316.89,463.26 317.82,463.28 318.76,463.29 319.69,463.3 320.63,463.31 321.56,463.32 322.5,463.33" fill="none" stroke="#e8302f" stroke-width="1.3" stroke-linejoin="round"/>
<polyline points="70,462.88 70.94,462.76 71.87,462.64 72.81,462.51 73.74,462.37 74.68,462.23 75.61,462.09 76.55,461.94 77.48,461.79 78.42,461.63 79.35,461.48 80.29,461.32 81.22,461.14 82.16,460.96 83.09,460.77 84.03,460.58 84.96,460.39 85.9,460.19 86.83,459.99 87.77,459.78 88.7,459.56 89.64,459.34 90.57,459.11 91.51,458.88 92.44,458.66 93.38,458.44 94.31,458.24 95.25,458.05 96.19,457.87 97.12,457.69 98.06,457.52 98.99,457.34 99.93,457.16 100.86,456.95 101.8,456.73 102.73,456.49 103.67,456.22 104.6,455.91 105.54,455.49 106.47,454.9 107.41,454.2 108.34,453.44 109.28,452.65 110.21,451.9 111.15,451.22 112.08,450.58 113.02,449.95 113.95,449.3 114.89,448.65 115.82,447.99 116.76,447.34 117.69,446.68 118.63,446.01 119.56,445.35 120.5,444.69 121.44,444.03 122.37,443.36 123.31,442.68 124.24,441.99 125.18,441.3 126.11,440.62 127.05,439.93 127.98,439.26 128.92,438.6 129.85,437.96 130.79,437.35 131.72,436.74 132.66,436.13 133.59,435.52 134.53,434.92 135.46,434.34 136.4,433.78 137.33,433.24 138.27,432.73 139.2,432.23 140.14,431.74 141.07,431.27 142.01,430.81 142.94,430.37 143.88,429.95 144.81,429.54 145.75,429.15 146.69,428.77 147.62,428.4 148.56,428.04 149.49,427.7 150.43,427.37 151.36,427.05 152.3,426.75 153.23,426.45 154.17,426.17 155.1,425.88 156.04,425.6 156.97,425.32 157.91,425.06 158.84,424.8 159.78,424.57 160.71,424.37 161.65,424.19 162.58,424.03 163.52,423.88 164.45,423.73 165.39,423.57 166.32,423.41 167.26,423.23 168.19,423.03 169.13,422.81 170.06,422.57 171,422.29 171.94,421.99 172.87,421.65 173.81,421.26 174.74,420.81 175.68,420.27 176.61,419.7 177.55,419.08 178.48,418.41 179.42,417.67 180.35,416.88 181.29,416.01 182.22,415.07 183.16,414.06 184.09,412.96 185.03,411.76 185.96,410.47 186.9,409.09 187.83,407.63 188.77,406.1 189.7,404.51 190.64,402.87 191.57,401.17 192.51,399.44 193.44,397.68 194.38,395.92 195.31,394.18 196.25,392.47 197.19,390.81 198.12,389.23 199.06,387.73 199.99,386.31 200.93,384.99 201.86,383.76 202.8,382.61 203.73,381.56 204.67,380.62 205.6,379.81 206.54,379.12 207.47,378.56 208.41,378.11 209.34,377.78 210.28,377.54 211.21,377.42 212.15,377.4 213.08,377.49 214.02,377.67 214.95,377.94 215.89,378.28 216.82,378.69 217.76,379.17 218.69,379.84 219.63,380.74 220.56,381.78 221.5,382.93 222.44,384.17 223.37,385.46 224.31,386.81 225.24,388.21 226.18,389.66 227.11,391.16 228.05,392.7 228.98,394.29 229.92,395.91 230.85,397.56 231.79,399.25 232.72,400.97 233.66,402.71 234.59,404.47 235.53,406.24 236.46,408 237.4,409.76 238.33,411.51 239.27,413.25 240.2,414.99 241.14,416.71 242.07,418.42 243.01,420.11 243.94,421.76 244.88,423.38 245.81,424.97 246.75,426.54 247.69,428.08 248.62,429.58 249.56,431.05 250.49,432.47 251.43,433.85 252.36,435.19 253.3,436.49 254.23,437.76 255.17,438.98 256.1,440.16 257.04,441.3 257.97,442.38 258.91,443.42 259.84,444.42 260.78,445.38 261.71,446.3 262.65,447.19 263.58,448.04 264.52,448.86 265.45,449.65 266.39,450.41 267.32,451.14 268.26,451.84 269.19,452.51 270.13,453.16 271.06,453.77 272,454.36 272.94,454.91 273.87,455.44 274.81,455.94 275.74,456.41 276.68,456.87 277.61,457.31 278.55,457.72 279.48,458.11 280.42,458.47 281.35,458.8 282.29,459.11 283.22,459.39 284.16,459.66 285.09,459.91 286.03,460.15 286.96,460.37 287.9,460.58 288.83,460.77 289.77,460.96 290.7,461.13 291.64,461.29 292.57,461.44 293.51,461.58 294.44,461.72 295.38,461.84 296.31,461.96 297.25,462.08 298.19,462.18 299.12,462.28 300.06,462.38 300.99,462.46 301.93,462.54 302.86,462.61 303.8,462.67 304.73,462.72 305.67,462.78 306.6,462.83 307.54,462.88 308.47,462.92 309.41,462.96 310.34,463 311.28,463.04 312.21,463.07 313.15,463.11 314.08,463.14 315.02,463.16 315.95,463.19 316.89,463.21 317.82,463.23 318.76,463.25 319.69,463.26 320.63,463.28 321.56,463.29 322.5,463.3" fill="none" stroke="#3030f0" stroke-width="1.3" stroke-linejoin="round"/>
<polyline points="70,462.78 70.94,462.65 71.87,462.5 72.81,462.36 73.74,462.2 74.68,462.04 75.61,461.88 76.55,461.71 77.48,461.54 78.42,461.37 79.35,461.2 80.29,461.02 81.22,460.83 82.16,460.63 83.09,460.43 84.03,460.23 84.96,460.02 85.9,459.81 86.83,459.6 87.77,459.38 88.7,459.15 89.64,458.92 90.57,458.68 91.51,458.44 92.44,458.21 93.38,457.98 94.31,457.77 95.25,457.57 96.19,457.38 97.12,457.2 98.06,457.02 98.99,456.83 99.93,456.64 100.86,456.43 101.8,456.21 102.73,455.96 103.67,455.68 104.6,455.36 105.54,454.93 106.47,454.35 107.41,453.64 108.34,452.88 109.28,452.09 110.21,451.33 111.15,450.64 112.08,450 113.02,449.34 113.95,448.66 114.89,447.98 115.82,447.28 116.76,446.58 117.69,445.88 118.63,445.17 119.56,444.46 120.5,443.76 121.44,443.05 122.37,442.35 123.31,441.62 124.24,440.89 125.18,440.16 126.11,439.42 127.05,438.7 127.98,437.99 128.92,437.29 129.85,436.62 130.79,435.98 131.72,435.35 132.66,434.73 133.59,434.1 134.53,433.49 135.46,432.89 136.4,432.32 137.33,431.77 138.27,431.25 139.2,430.74 140.14,430.25 141.07,429.78 142.01,429.32 142.94,428.87 143.88,428.44 144.81,428.03 145.75,427.63 146.69,427.25 147.62,426.88 148.56,426.52 149.49,426.18 150.43,425.85 151.36,425.53 152.3,425.23 153.23,424.94 154.17,424.66 155.1,424.38 156.04,424.1 156.97,423.82 157.91,423.56 158.84,423.31 159.78,423.08 160.71,422.87 161.65,422.69 162.58,422.53 163.52,422.38 164.45,422.22 165.39,422.05 166.32,421.87 167.26,421.66 168.19,421.43 169.13,421.16 170.06,420.85 171,420.51 171.94,420.12 172.87,419.68 173.81,419.17 174.74,418.58 175.68,417.87 176.61,417.12 177.55,416.32 178.48,415.45 179.42,414.5 180.35,413.47 181.29,412.34 182.22,411.12 183.16,409.8 184.09,408.35 185.03,406.77 185.96,405.06 186.9,403.23 187.83,401.29 188.77,399.24 189.7,397.12 190.64,394.91 191.57,392.63 192.51,390.29 193.44,387.92 194.38,385.54 195.31,383.18 196.25,380.86 197.19,378.6 198.12,376.43 199.06,374.35 199.99,372.38 200.93,370.53 201.86,368.8 202.8,367.19 203.73,365.7 204.67,364.36 205.6,363.18 206.54,362.17 207.47,361.31 208.41,360.61 209.34,360.05 210.28,359.63 211.21,359.35 212.15,359.21 213.08,359.21 214.02,359.32 214.95,359.54 215.89,359.86 216.82,360.25 217.76,360.73 218.69,361.45 219.63,362.46 220.56,363.66 221.5,365.01 222.44,366.47 223.37,368.02 224.31,369.64 225.24,371.33 226.18,373.1 227.11,374.93 228.05,376.82 228.98,378.76 229.92,380.75 230.85,382.78 231.79,384.86 232.72,386.97 233.66,389.1 234.59,391.26 235.53,393.42 236.46,395.59 237.4,397.75 238.33,399.9 239.27,402.03 240.2,404.16 241.14,406.27 242.07,408.36 243.01,410.43 243.94,412.45 244.88,414.44 245.81,416.39 246.75,418.31 247.69,420.19 248.62,422.03 249.56,423.82 250.49,425.57 251.43,427.26 252.36,428.9 253.3,430.49 254.23,432.04 255.17,433.54 256.1,434.99 257.04,436.38 257.97,437.71 258.91,438.98 259.84,440.21 260.78,441.39 261.71,442.52 262.65,443.62 263.58,444.66 264.52,445.67 265.45,446.64 266.39,447.56 267.32,448.45 268.26,449.31 269.19,450.13 270.13,450.92 271.06,451.67 272,452.38 272.94,453.05 273.87,453.69 274.81,454.3 275.74,454.88 276.68,455.43 277.61,455.96 278.55,456.46 279.48,456.93 280.42,457.37 281.35,457.78 282.29,458.15 283.22,458.5 284.16,458.83 285.09,459.14 286.03,459.43 286.96,459.7 287.9,459.95 288.83,460.19 289.77,460.42 290.7,460.63 291.64,460.83 292.57,461.01 293.51,461.18 294.44,461.35 295.38,461.5 296.31,461.65 297.25,461.79 298.19,461.91 299.12,462.03 300.06,462.15 300.99,462.25 301.93,462.34 302.86,462.43 303.8,462.5 304.73,462.57 305.67,462.64 306.6,462.7 307.54,462.76 308.47,462.81 309.41,462.86 310.34,462.91 311.28,462.96 312.21,463 313.15,463.04 314.08,463.07 315.02,463.1 315.95,463.13 316.89,463.16 317.82,463.19 318.76,463.21 319.69,463.23 320.63,463.24 321.56,463.26 322.5,463.27" fill="none" stroke="#259595" stroke-width="1.3" stroke-linejoin="round"/>
<polyline points="70,462.69 70.94,462.54 71.87,462.37 72.81,462.2 73.74,462.03 74.68,461.85 75.61,461.67 76.55,461.48 77.48,461.29 78.42,461.1 79.35,460.91 80.29,460.72 81.22,460.52 82.16,460.31 83.09,460.09 84.03,459.87 84.96,459.65 85.9,459.43 86.83,459.21 87.77,458.98 88.7,458.74 89.64,458.49 90.57,458.25 91.51,458 92.44,457.76 93.38,457.52 94.31,457.3 95.25,457.09 96.19,456.89 97.12,456.71 98.06,456.52 98.99,456.33 99.93,456.12 100.86,455.91 101.8,455.68 102.73,455.42 103.67,455.14 104.6,454.82 105.54,454.38 106.47,453.79 107.41,453.09 108.34,452.31 109.28,451.52 110.21,450.76 111.15,450.06 112.08,449.41 113.02,448.73 113.95,448.02 114.89,447.3 115.82,446.57 116.76,445.83 117.69,445.08 118.63,444.32 119.56,443.57 120.5,442.82 121.44,442.08 122.37,441.34 123.31,440.57 124.24,439.79 125.18,439.01 126.11,438.23 127.05,437.46 127.98,436.71 128.92,435.98 129.85,435.28 130.79,434.62 131.72,433.97 132.66,433.33 133.59,432.69 134.53,432.06 135.46,431.45 136.4,430.86 137.33,430.31 138.27,429.78 139.2,429.26 140.14,428.77 141.07,428.29 142.01,427.82 142.94,427.37 143.88,426.94 144.81,426.52 145.75,426.12 146.69,425.74 147.62,425.36 148.56,425.01 149.49,424.66 150.43,424.33 151.36,424.02 152.3,423.72 153.23,423.43 154.17,423.15 155.1,422.87 156.04,422.6 156.97,422.32 157.91,422.06 158.84,421.81 159.78,421.58 160.71,421.38 161.65,421.2 162.58,421.04 163.52,420.88 164.45,420.72 165.39,420.54 166.32,420.34 167.26,420.11 168.19,419.84 169.13,419.53 170.06,419.17 171,418.76 171.94,418.3 172.87,417.76 173.81,417.14 174.74,416.43 175.68,415.56 176.61,414.65 177.55,413.68 178.48,412.63 179.42,411.49 180.35,410.24 181.29,408.89 182.22,407.41 183.16,405.8 184.09,404.04 185.03,402.11 185.96,400.03 186.9,397.78 187.83,395.4 188.77,392.88 189.7,390.26 190.64,387.53 191.57,384.71 192.51,381.82 193.44,378.89 194.38,375.94 195.31,373.01 196.25,370.12 197.19,367.3 198.12,364.58 199.06,361.97 199.99,359.5 200.93,357.16 201.86,354.96 202.8,352.92 203.73,351.03 204.67,349.32 205.6,347.8 206.54,346.48 207.47,345.35 208.41,344.41 209.34,343.65 210.28,343.06 211.21,342.64 212.15,342.39 213.08,342.29 214.02,342.35 214.95,342.53 215.89,342.82 216.82,343.2 217.76,343.67 218.69,344.44 219.63,345.55 220.56,346.9 221.5,348.43 222.44,350.1 223.37,351.88 224.31,353.75 225.24,355.72 226.18,357.78 227.11,359.92 228.05,362.13 228.98,364.4 229.92,366.73 230.85,369.11 231.79,371.54 232.72,374.01 233.66,376.51 234.59,379.03 235.53,381.57 236.46,384.1 237.4,386.63 238.33,389.15 239.27,391.65 240.2,394.14 241.14,396.61 242.07,399.06 243.01,401.47 243.94,403.85 244.88,406.17 245.81,408.46 246.75,410.7 247.69,412.9 248.62,415.05 249.56,417.14 250.49,419.18 251.43,421.16 252.36,423.08 253.3,424.94 254.23,426.76 255.17,428.51 256.1,430.2 257.04,431.83 257.97,433.38 258.91,434.88 259.84,436.32 260.78,437.7 261.71,439.03 262.65,440.31 263.58,441.54 264.52,442.72 265.45,443.85 266.39,444.93 267.32,445.97 268.26,446.97 269.19,447.93 270.13,448.84 271.06,449.72 272,450.55 272.94,451.33 273.87,452.08 274.81,452.78 275.74,453.46 276.68,454.1 277.61,454.72 278.55,455.3 279.48,455.84 280.42,456.35 281.35,456.83 282.29,457.27 283.22,457.67 284.16,458.06 285.09,458.42 286.03,458.76 286.96,459.08 287.9,459.38 288.83,459.66 289.77,459.92 290.7,460.17 291.64,460.4 292.57,460.61 293.51,460.81 294.44,461.01 295.38,461.19 296.31,461.36 297.25,461.52 298.19,461.67 299.12,461.8 300.06,461.93 300.99,462.05 301.93,462.16 302.86,462.26 303.8,462.35 304.73,462.43 305.67,462.51 306.6,462.58 307.54,462.65 308.47,462.71 309.41,462.77 310.34,462.83 311.28,462.88 312.21,462.93 313.15,462.97 314.08,463.01 315.02,463.05 315.95,463.08 316.89,463.12 317.82,463.14 318.76,463.17 319.69,463.19 320.63,463.21 321.56,463.23 322.5,463.24" fill="none" stroke="#f535f5" stroke-width="1.3" stroke-linejoin="round"/>
<polyline points="70,462.6 70.94,462.42 71.87,462.24 72.81,462.05 73.74,461.86 74.68,461.66 75.61,461.46 76.55,461.25 77.48,461.05 78.42,460.84 79.35,460.63 80.29,460.42 81.22,460.2 82.16,459.98 83.09,459.75 84.03,459.52 84.96,459.29 85.9,459.05 86.83,458.82 87.77,458.58 88.7,458.33 89.64,458.07 90.57,457.81 91.51,457.56 92.44,457.31 93.38,457.06 94.31,456.83 95.25,456.61 96.19,456.41 97.12,456.21 98.06,456.02 98.99,455.82 99.93,455.61 100.86,455.39 101.8,455.15 102.73,454.89 103.67,454.59 104.6,454.27 105.54,453.83 106.47,453.24 107.41,452.53 108.34,451.75 109.28,450.96 110.21,450.19 111.15,449.49 112.08,448.82 113.02,448.12 113.95,447.39 114.89,446.63 115.82,445.86 116.76,445.07 117.69,444.28 118.63,443.48 119.56,442.68 120.5,441.89 121.44,441.11 122.37,440.32 123.31,439.52 124.24,438.69 125.18,437.86 126.11,437.04 127.05,436.23 127.98,435.43 128.92,434.67 129.85,433.94 130.79,433.25 131.72,432.59 132.66,431.93 133.59,431.27 134.53,430.63 135.46,430.01 136.4,429.41 137.33,428.84 138.27,428.3 139.2,427.78 140.14,427.28 141.07,426.79 142.01,426.32 142.94,425.87 143.88,425.43 144.81,425.01 145.75,424.61 146.69,424.22 147.62,423.85 148.56,423.49 149.49,423.14 150.43,422.81 151.36,422.5 152.3,422.2 153.23,421.92 154.17,421.64 155.1,421.37 156.04,421.09 156.97,420.83 157.91,420.57 158.84,420.32 159.78,420.09 160.71,419.89 161.65,419.72 162.58,419.55 163.52,419.39 164.45,419.22 165.39,419.03 166.32,418.82 167.26,418.56 168.19,418.27 169.13,417.92 170.06,417.51 171,417.04 171.94,416.51 172.87,415.89 173.81,415.17 174.74,414.33 175.68,413.31 176.61,412.25 177.55,411.13 178.48,409.91 179.42,408.6 180.35,407.16 181.29,405.6 182.22,403.88 183.16,402.01 184.09,399.96 185.03,397.71 185.96,395.27 186.9,392.65 187.83,389.85 188.77,386.9 189.7,383.81 190.64,380.6 191.57,377.27 192.51,373.86 193.44,370.4 194.38,366.92 195.31,363.45 196.25,360.03 197.19,356.69 198.12,353.46 199.06,350.35 199.99,347.4 200.93,344.6 201.86,341.97 202.8,339.52 203.73,337.25 204.67,335.19 205.6,333.36 206.54,331.75 207.47,330.37 208.41,329.21 209.34,328.25 210.28,327.5 211.21,326.95 212.15,326.59 213.08,326.41 214.02,326.41 214.95,326.55 215.89,326.82 216.82,327.19 217.76,327.66 218.69,328.47 219.63,329.68 220.56,331.16 221.5,332.86 222.44,334.72 223.37,336.72 224.31,338.83 225.24,341.06 226.18,343.4 227.11,345.82 228.05,348.33 228.98,350.92 229.92,353.57 230.85,356.27 231.79,359.04 232.72,361.84 233.66,364.69 234.59,367.56 235.53,370.44 236.46,373.32 237.4,376.2 238.33,379.06 239.27,381.9 240.2,384.73 241.14,387.54 242.07,390.32 243.01,393.06 243.94,395.76 244.88,398.41 245.81,401 246.75,403.55 247.69,406.05 248.62,408.49 249.56,410.87 250.49,413.19 251.43,415.43 252.36,417.61 253.3,419.73 254.23,421.79 255.17,423.78 256.1,425.7 257.04,427.55 257.97,429.33 258.91,431.03 259.84,432.66 260.78,434.24 261.71,435.75 262.65,437.21 263.58,438.6 264.52,439.94 265.45,441.23 266.39,442.46 267.32,443.64 268.26,444.77 269.19,445.86 270.13,446.9 271.06,447.89 272,448.83 272.94,449.72 273.87,450.56 274.81,451.36 275.74,452.13 276.68,452.86 277.61,453.55 278.55,454.2 279.48,454.82 280.42,455.4 281.35,455.93 282.29,456.43 283.22,456.9 284.16,457.33 285.09,457.75 286.03,458.13 286.96,458.49 287.9,458.83 288.83,459.15 289.77,459.45 290.7,459.73 291.64,459.99 292.57,460.24 293.51,460.47 294.44,460.69 295.38,460.89 296.31,461.08 297.25,461.26 298.19,461.43 299.12,461.59 300.06,461.73 300.99,461.87 301.93,461.99 302.86,462.11 303.8,462.21 304.73,462.3 305.67,462.39 306.6,462.47 307.54,462.55 308.47,462.62 309.41,462.69 310.34,462.75 311.28,462.81 312.21,462.86 313.15,462.91 314.08,462.96 315.02,463 315.95,463.04 316.89,463.07 317.82,463.11 318.76,463.13 319.69,463.16 320.63,463.18 321.56,463.2 322.5,463.22" fill="none" stroke="#a0a030" stroke-width="1.3" stroke-linejoin="round"/>
<polyline points="70,462.51 70.94,462.31 71.87,462.11 72.81,461.9 73.74,461.68 74.68,461.47 75.61,461.25 76.55,461.02 77.48,460.8 78.42,460.58 79.35,460.35 80.29,460.13 81.22,459.89 82.16,459.65 83.09,459.41 84.03,459.16 84.96,458.92 85.9,458.68 86.83,458.43 87.77,458.17 88.7,457.91 89.64,457.65 90.57,457.38 91.51,457.12 92.44,456.86 93.38,456.6 94.31,456.36 95.25,456.14 96.19,455.92 97.12,455.72 98.06,455.51 98.99,455.31 99.93,455.09 100.86,454.87 101.8,454.62 102.73,454.35 103.67,454.05 104.6,453.72 105.54,453.28 106.47,452.68 107.41,451.97 108.34,451.19 109.28,450.39 110.21,449.62 111.15,448.91 112.08,448.23 113.02,447.51 113.95,446.75 114.89,445.96 115.82,445.15 116.76,444.32 117.69,443.48 118.63,442.64 119.56,441.79 120.5,440.96 121.44,440.14 122.37,439.31 123.31,438.46 124.24,437.59 125.18,436.72 126.11,435.85 127.05,434.99 127.98,434.15 128.92,433.35 129.85,432.59 130.79,431.88 131.72,431.2 132.66,430.53 133.59,429.85 134.53,429.2 135.46,428.56 136.4,427.95 137.33,427.38 138.27,426.83 139.2,426.3 140.14,425.79 141.07,425.3 142.01,424.83 142.94,424.37 143.88,423.93 144.81,423.5 145.75,423.1 146.69,422.71 147.62,422.33 148.56,421.97 149.49,421.62 150.43,421.29 151.36,420.98 152.3,420.69 153.23,420.41 154.17,420.14 155.1,419.87 156.04,419.6 156.97,419.33 157.91,419.08 158.84,418.83 159.78,418.61 160.71,418.41 161.65,418.24 162.58,418.08 163.52,417.92 164.45,417.75 165.39,417.56 166.32,417.33 167.26,417.07 168.19,416.75 169.13,416.38 170.06,415.94 171,415.43 171.94,414.84 172.87,414.16 173.81,413.37 174.74,412.45 175.68,411.32 176.61,410.16 177.55,408.92 178.48,407.6 179.42,406.17 180.35,404.61 181.29,402.9 182.22,401.03 183.16,398.98 184.09,396.74 185.03,394.27 185.96,391.58 186.9,388.69 187.83,385.6 188.77,382.32 189.7,378.9 190.64,375.33 191.57,371.63 192.51,367.83 193.44,363.98 194.38,360.1 195.31,356.23 196.25,352.41 197.19,348.67 198.12,345.05 199.06,341.57 199.99,338.25 200.93,335.11 201.86,332.15 202.8,329.4 203.73,326.84 204.67,324.52 205.6,322.44 206.54,320.62 207.47,319.05 208.41,317.72 209.34,316.62 210.28,315.74 211.21,315.09 212.15,314.65 213.08,314.42 214.02,314.36 214.95,314.47 215.89,314.72 216.82,315.09 217.76,315.56 218.69,316.4 219.63,317.68 220.56,319.27 221.5,321.09 222.44,323.11 223.37,325.27 224.31,327.56 225.24,329.99 226.18,332.53 227.11,335.17 228.05,337.91 228.98,340.73 229.92,343.62 230.85,346.57 231.79,349.59 232.72,352.65 233.66,355.75 234.59,358.88 235.53,362.02 236.46,365.17 237.4,368.31 238.33,371.43 239.27,374.54 240.2,377.63 241.14,380.69 242.07,383.72 243.01,386.71 243.94,389.65 244.88,392.54 245.81,395.37 246.75,398.15 247.69,400.87 248.62,403.54 249.56,406.13 250.49,408.66 251.43,411.11 252.36,413.48 253.3,415.8 254.23,418.04 255.17,420.21 256.1,422.31 257.04,424.32 257.97,426.26 258.91,428.12 259.84,429.9 260.78,431.62 261.71,433.27 262.65,434.86 263.58,436.39 264.52,437.85 265.45,439.25 266.39,440.59 267.32,441.88 268.26,443.11 269.19,444.3 270.13,445.43 271.06,446.5 272,447.53 272.94,448.5 273.87,449.41 274.81,450.29 275.74,451.12 276.68,451.91 277.61,452.66 278.55,453.38 279.48,454.05 280.42,454.67 281.35,455.26 282.29,455.8 283.22,456.31 284.16,456.79 285.09,457.24 286.03,457.66 286.96,458.05 287.9,458.42 288.83,458.77 289.77,459.1 290.7,459.4 291.64,459.69 292.57,459.96 293.51,460.21 294.44,460.44 295.38,460.67 296.31,460.88 297.25,461.07 298.19,461.26 299.12,461.43 300.06,461.58 300.99,461.73 301.93,461.87 302.86,461.99 303.8,462.1 304.73,462.2 305.67,462.3 306.6,462.39 307.54,462.47 308.47,462.55 309.41,462.62 310.34,462.69 311.28,462.75 312.21,462.81 313.15,462.86 314.08,462.91 315.02,462.96 315.95,463 316.89,463.04 317.82,463.08 318.76,463.11 319.69,463.14 320.63,463.16 321.56,463.18 322.5,463.2" fill="none" stroke="#35359a" stroke-width="1.3" stroke-linejoin="round"/>
<polyline points="70,462.42 70.94,462.2 71.87,461.98 72.81,461.75 73.74,461.51 74.68,461.27 75.61,461.03 76.55,460.79 77.48,460.55 78.42,460.31 79.35,460.07 80.29,459.83 81.22,459.58 82.16,459.32 83.09,459.07 84.03,458.81 84.96,458.55 85.9,458.3 86.83,458.04 87.77,457.77 88.7,457.5 89.64,457.23 90.57,456.95 91.51,456.68 92.44,456.41 93.38,456.14 94.31,455.89 95.25,455.66 96.19,455.44 97.12,455.22 98.06,455.01 98.99,454.8 99.93,454.58 100.86,454.34 101.8,454.09 102.73,453.82 103.67,453.51 104.6,453.18 105.54,452.73 106.47,452.13 107.41,451.41 108.34,450.63 109.28,449.83 110.21,449.05 111.15,448.33 112.08,447.64 113.02,446.9 113.95,446.11 114.89,445.29 115.82,444.44 116.76,443.57 117.69,442.68 118.63,441.79 119.56,440.91 120.5,440.03 121.44,439.17 122.37,438.3 123.31,437.41 124.24,436.49 125.18,435.57 126.11,434.65 127.05,433.75 127.98,432.88 128.92,432.04 129.85,431.25 130.79,430.52 131.72,429.82 132.66,429.12 133.59,428.44 134.53,427.77 135.46,427.12 136.4,426.5 137.33,425.91 138.27,425.35 139.2,424.82 140.14,424.31 141.07,423.81 142.01,423.33 142.94,422.87 143.88,422.42 144.81,422 145.75,421.59 146.69,421.19 147.62,420.82 148.56,420.45 149.49,420.11 150.43,419.78 151.36,419.47 152.3,419.17 153.23,418.9 154.17,418.63 155.1,418.36 156.04,418.1 156.97,417.84 157.91,417.59 158.84,417.34 159.78,417.12 160.71,416.92 161.65,416.75 162.58,416.6 163.52,416.44 164.45,416.26 165.39,416.06 166.32,415.83 167.26,415.54 168.19,415.2 169.13,414.79 170.06,414.31 171,413.75 171.94,413.1 172.87,412.34 173.81,411.46 174.74,410.43 175.68,409.17 176.61,407.86 177.55,406.49 178.48,405.02 179.42,403.43 180.35,401.71 181.29,399.81 182.22,397.74 183.16,395.46 184.09,392.95 185.03,390.19 185.96,387.19 186.9,383.96 187.83,380.49 188.77,376.82 189.7,372.97 190.64,368.96 191.57,364.8 192.51,360.53 193.44,356.2 194.38,351.83 195.31,347.47 196.25,343.16 197.19,338.95 198.12,334.85 199.06,330.92 199.99,327.16 200.93,323.6 201.86,320.25 202.8,317.12 203.73,314.22 204.67,311.57 205.6,309.21 206.54,307.12 207.47,305.32 208.41,303.78 209.34,302.51 210.28,301.49 211.21,300.71 212.15,300.17 213.08,299.86 214.02,299.76 214.95,299.83 215.89,300.06 216.82,300.41 217.76,300.88 218.69,301.76 219.63,303.14 220.56,304.85 221.5,306.83 222.44,309.02 223.37,311.38 224.31,313.89 225.24,316.56 226.18,319.35 227.11,322.25 228.05,325.26 228.98,328.37 229.92,331.55 230.85,334.81 231.79,338.13 232.72,341.5 233.66,344.92 234.59,348.36 235.53,351.82 236.46,355.29 237.4,358.75 238.33,362.18 239.27,365.6 240.2,369.01 241.14,372.38 242.07,375.72 243.01,379.01 243.94,382.25 244.88,385.42 245.81,388.54 246.75,391.6 247.69,394.6 248.62,397.53 249.56,400.38 250.49,403.16 251.43,405.86 252.36,408.48 253.3,411.02 254.23,413.49 255.17,415.88 256.1,418.19 257.04,420.41 257.97,422.54 258.91,424.59 259.84,426.56 260.78,428.45 261.71,430.27 262.65,432.02 263.58,433.7 264.52,435.31 265.45,436.85 266.39,438.33 267.32,439.74 268.26,441.1 269.19,442.4 270.13,443.64 271.06,444.83 272,445.95 272.94,447.02 273.87,448.03 274.81,448.98 275.74,449.9 276.68,450.77 277.61,451.59 278.55,452.37 279.48,453.11 280.42,453.8 281.35,454.44 282.29,455.04 283.22,455.6 284.16,456.13 285.09,456.62 286.03,457.08 286.96,457.52 287.9,457.93 288.83,458.31 289.77,458.67 290.7,459.01 291.64,459.32 292.57,459.61 293.51,459.89 294.44,460.15 295.38,460.4 296.31,460.62 297.25,460.84 298.19,461.04 299.12,461.23 300.06,461.4 300.99,461.56 301.93,461.71 302.86,461.84 303.8,461.97 304.73,462.08 305.67,462.18 306.6,462.28 307.54,462.38 308.47,462.46 309.41,462.54 310.34,462.62 311.28,462.69 312.21,462.75 313.15,462.81 314.08,462.86 315.02,462.91 315.95,462.96 316.89,463 317.82,463.04 318.76,463.08 319.69,463.11 320.63,463.13 321.56,463.16 322.5,463.18" fill="none" stroke="#a03838" stroke-width="1.3" stroke-linejoin="round"/>
<polyline points="70,462.33 70.94,462.09 71.87,461.84 72.81,461.59 73.74,461.34 74.68,461.08 75.61,460.82 76.55,460.56 77.48,460.31 78.42,460.05 79.35,459.79 80.29,459.53 81.22,459.27 82.16,459 83.09,458.72 84.03,458.45 84.96,458.18 85.9,457.92 86.83,457.65 87.77,457.37 88.7,457.09 89.64,456.8 90.57,456.52 91.51,456.23 92.44,455.95 93.38,455.68 94.31,455.42 95.25,455.18 96.19,454.95 97.12,454.73 98.06,454.51 98.99,454.29 99.93,454.06 100.86,453.82 101.8,453.56 102.73,453.28 103.67,452.97 104.6,452.63 105.54,452.18 106.47,451.57 107.41,450.85 108.34,450.07 109.28,449.26 110.21,448.48 111.15,447.76 112.08,447.05 113.02,446.29 113.95,445.47 114.89,444.62 115.82,443.73 116.76,442.81 117.69,441.88 118.63,440.95 119.56,440.02 120.5,439.1 121.44,438.2 122.37,437.29 123.31,436.35 124.24,435.39 125.18,434.43 126.11,433.46 127.05,432.52 127.98,431.6 128.92,430.73 129.85,429.91 130.79,429.15 131.72,428.44 132.66,427.72 133.59,427.02 134.53,426.34 135.46,425.68 136.4,425.04 137.33,424.45 138.27,423.88 139.2,423.34 140.14,422.82 141.07,422.32 142.01,421.83 142.94,421.37 143.88,420.92 144.81,420.49 145.75,420.08 146.69,419.68 147.62,419.3 148.56,418.94 149.49,418.59 150.43,418.26 151.36,417.95 152.3,417.66 153.23,417.39 154.17,417.12 155.1,416.86 156.04,416.6 156.97,416.34 157.91,416.1 158.84,415.86 159.78,415.63 160.71,415.44 161.65,415.28 162.58,415.12 163.52,414.96 164.45,414.79 165.39,414.59 166.32,414.34 167.26,414.05 168.19,413.69 169.13,413.26 170.06,412.74 171,412.14 171.94,411.44 172.87,410.62 173.81,409.66 174.74,408.55 175.68,407.18 176.61,405.77 177.55,404.29 178.48,402.71 179.42,401.01 180.35,399.15 181.29,397.12 182.22,394.89 183.16,392.43 184.09,389.73 185.03,386.75 185.96,383.5 186.9,379.99 187.83,376.23 188.77,372.25 189.7,368.06 190.64,363.69 191.57,359.16 192.51,354.5 193.44,349.77 194.38,345 195.31,340.24 196.25,335.54 197.19,330.92 198.12,326.45 199.06,322.14 199.99,318.02 200.93,314.11 201.86,310.43 202.8,306.99 203.73,303.81 204.67,300.9 205.6,298.3 206.54,296 207.47,294 208.41,292.29 209.34,290.88 210.28,289.73 211.21,288.85 212.15,288.24 213.08,287.86 214.02,287.71 214.95,287.76 215.89,287.97 216.82,288.32 217.76,288.78 218.69,289.69 219.63,291.14 220.56,292.96 221.5,295.06 222.44,297.4 223.37,299.93 224.31,302.62 225.24,305.48 226.18,308.48 227.11,311.6 228.05,314.84 228.98,318.18 229.92,321.6 230.85,325.11 231.79,328.68 232.72,332.31 233.66,335.99 234.59,339.69 235.53,343.41 236.46,347.14 237.4,350.86 238.33,354.56 239.27,358.24 240.2,361.9 241.14,365.53 242.07,369.12 243.01,372.66 243.94,376.14 244.88,379.55 245.81,382.91 246.75,386.2 247.69,389.42 248.62,392.57 249.56,395.64 250.49,398.63 251.43,401.53 252.36,404.35 253.3,407.09 254.23,409.74 255.17,412.31 256.1,414.79 257.04,417.18 257.97,419.47 258.91,421.67 259.84,423.79 260.78,425.83 261.71,427.79 262.65,429.67 263.58,431.48 264.52,433.21 265.45,434.87 266.39,436.46 267.32,437.98 268.26,439.44 269.19,440.84 270.13,442.17 271.06,443.44 272,444.65 272.94,445.8 273.87,446.88 274.81,447.91 275.74,448.89 276.68,449.82 277.61,450.71 278.55,451.55 279.48,452.34 280.42,453.08 281.35,453.77 282.29,454.41 283.22,455.01 284.16,455.58 285.09,456.11 286.03,456.61 286.96,457.08 287.9,457.52 288.83,457.93 289.77,458.32 290.7,458.68 291.64,459.02 292.57,459.33 293.51,459.63 294.44,459.91 295.38,460.17 296.31,460.42 297.25,460.65 298.19,460.86 299.12,461.07 300.06,461.25 300.99,461.42 301.93,461.58 302.86,461.73 303.8,461.86 304.73,461.98 305.67,462.09 306.6,462.2 307.54,462.3 308.47,462.39 309.41,462.48 310.34,462.56 311.28,462.63 312.21,462.7 313.15,462.76 314.08,462.82 315.02,462.88 315.95,462.93 316.89,462.97 317.82,463.01 318.76,463.05 319.69,463.08 320.63,463.11 321.56,463.14 322.5,463.16" fill="none" stroke="#f53898" stroke-width="1.3" stroke-linejoin="round"/>
<polyline points="70,462.24 70.94,461.98 71.87,461.71 72.81,461.44 73.74,461.17 74.68,460.89 75.61,460.61 76.55,460.34 77.48,460.06 78.42,459.78 79.35,459.51 80.29,459.23 81.22,458.95 82.16,458.67 83.09,458.38 84.03,458.1 84.96,457.81 85.9,457.54 86.83,457.26 87.77,456.97 88.7,456.68 89.64,456.38 90.57,456.09 91.51,455.79 92.44,455.5 93.38,455.22 94.31,454.95 95.25,454.7 96.19,454.47 97.12,454.24 98.06,454.01 98.99,453.78 99.93,453.55 100.86,453.3 101.8,453.03 102.73,452.75 103.67,452.43 104.6,452.08 105.54,451.63 106.47,451.02 107.41,450.3 108.34,449.51 109.28,448.7 110.21,447.91 111.15,447.18 112.08,446.46 113.02,445.68 113.95,444.83 114.89,443.94 115.82,443.01 116.76,442.06 117.69,441.09 118.63,440.11 119.56,439.13 120.5,438.17 121.44,437.23 122.37,436.28 123.31,435.3 124.24,434.29 125.18,433.28 126.11,432.27 127.05,431.28 127.98,430.32 128.92,429.41 129.85,428.56 130.79,427.79 131.72,427.05 132.66,426.32 133.59,425.61 134.53,424.91 135.46,424.23 136.4,423.59 137.33,422.98 138.27,422.41 139.2,421.86 140.14,421.33 141.07,420.83 142.01,420.34 142.94,419.86 143.88,419.41 144.81,418.98 145.75,418.56 146.69,418.17 147.62,417.78 148.56,417.42 149.49,417.07 150.43,416.74 151.36,416.43 152.3,416.15 153.23,415.88 154.17,415.62 155.1,415.36 156.04,415.1 156.97,414.85 157.91,414.6 158.84,414.37 159.78,414.15 160.71,413.96 161.65,413.8 162.58,413.65 163.52,413.49 164.45,413.31 165.39,413.1 166.32,412.84 167.26,412.53 168.19,412.15 169.13,411.69 170.06,411.14 171,410.48 171.94,409.72 172.87,408.83 173.81,407.79 174.74,406.58 175.68,405.09 176.61,403.55 177.55,401.95 178.48,400.24 179.42,398.39 180.35,396.39 181.29,394.19 182.22,391.77 183.16,389.1 184.09,386.16 185.03,382.93 185.96,379.39 186.9,375.57 187.83,371.47 188.77,367.12 189.7,362.54 190.64,357.76 191.57,352.8 192.51,347.71 193.44,342.53 194.38,337.31 195.31,332.1 196.25,326.94 197.19,321.88 198.12,316.97 199.06,312.23 199.99,307.71 200.93,303.41 201.86,299.36 202.8,295.58 203.73,292.07 204.67,288.86 205.6,285.99 206.54,283.45 207.47,281.23 208.41,279.34 209.34,277.76 210.28,276.47 211.21,275.48 212.15,274.78 213.08,274.33 214.02,274.13 214.95,274.14 215.89,274.33 216.82,274.67 217.76,275.13 218.69,276.08 219.63,277.61 220.56,279.55 221.5,281.8 222.44,284.3 223.37,287.02 224.31,289.91 225.24,292.99 226.18,296.22 227.11,299.59 228.05,303.09 228.98,306.69 229.92,310.39 230.85,314.17 231.79,318.03 232.72,321.95 233.66,325.91 234.59,329.91 235.53,333.93 236.46,337.95 237.4,341.97 238.33,345.96 239.27,349.93 240.2,353.88 241.14,357.8 242.07,361.67 243.01,365.49 243.94,369.25 244.88,372.94 245.81,376.56 246.75,380.11 247.69,383.59 248.62,386.98 249.56,390.3 250.49,393.52 251.43,396.65 252.36,399.69 253.3,402.65 254.23,405.51 255.17,408.28 256.1,410.96 257.04,413.54 257.97,416.01 258.91,418.39 259.84,420.68 260.78,422.88 261.71,425 262.65,427.03 263.58,428.98 264.52,430.85 265.45,432.64 266.39,434.35 267.32,436 268.26,437.57 269.19,439.08 270.13,440.51 271.06,441.88 272,443.18 272.94,444.42 273.87,445.59 274.81,446.7 275.74,447.75 276.68,448.76 277.61,449.71 278.55,450.62 279.48,451.47 280.42,452.26 281.35,453.01 282.29,453.7 283.22,454.35 284.16,454.96 285.09,455.54 286.03,456.08 286.96,456.58 287.9,457.06 288.83,457.5 289.77,457.92 290.7,458.31 291.64,458.67 292.57,459.01 293.51,459.33 294.44,459.64 295.38,459.92 296.31,460.18 297.25,460.43 298.19,460.67 299.12,460.88 300.06,461.08 300.99,461.27 301.93,461.44 302.86,461.59 303.8,461.74 304.73,461.87 305.67,461.99 306.6,462.1 307.54,462.21 308.47,462.31 309.41,462.4 310.34,462.49 311.28,462.57 312.21,462.64 313.15,462.71 314.08,462.77 315.02,462.83 315.95,462.89 316.89,462.93 317.82,462.98 318.76,463.02 319.69,463.05 320.63,463.09 321.56,463.11 322.5,463.14" fill="none" stroke="#2a9a35" stroke-width="1.3" stroke-linejoin="round"/>
<polyline points="70,462.15 70.94,461.87 71.87,461.58 72.81,461.29 73.74,460.99 74.68,460.7 75.61,460.4 76.55,460.11 77.48,459.81 78.42,459.52 79.35,459.23 80.29,458.94 81.22,458.64 82.16,458.34 83.09,458.04 84.03,457.74 84.96,457.45 85.9,457.16 86.83,456.87 87.77,456.57 88.7,456.27 89.64,455.96 90.57,455.65 91.51,455.35 92.44,455.05 93.38,454.76 94.31,454.48 95.25,454.23 96.19,453.98 97.12,453.74 98.06,453.51 98.99,453.27 99.93,453.03 100.86,452.78 101.8,452.51 102.73,452.21 103.67,451.89 104.6,451.54 105.54,451.08 106.47,450.46 107.41,449.74 108.34,448.95 109.28,448.13 110.21,447.34 111.15,446.6 112.08,445.87 113.02,445.07 113.95,444.2 114.89,443.27 115.82,442.3 116.76,441.31 117.69,440.29 118.63,439.26 119.56,438.24 120.5,437.23 121.44,436.26 122.37,435.27 123.31,434.24 124.24,433.19 125.18,432.13 126.11,431.08 127.05,430.04 127.98,429.05 128.92,428.1 129.85,427.22 130.79,426.42 131.72,425.67 132.66,424.92 133.59,424.19 134.53,423.48 135.46,422.79 136.4,422.13 137.33,421.52 138.27,420.93 139.2,420.37 140.14,419.84 141.07,419.33 142.01,418.84 142.94,418.36 143.88,417.91 144.81,417.47 145.75,417.05 146.69,416.65 147.62,416.27 148.56,415.9 149.49,415.55 150.43,415.22 151.36,414.92 152.3,414.63 153.23,414.37 154.17,414.11 155.1,413.85 156.04,413.6 156.97,413.36 157.91,413.12 158.84,412.89 159.78,412.67 160.71,412.49 161.65,412.33 162.58,412.19 163.52,412.04 164.45,411.87 165.39,411.66 166.32,411.41 167.26,411.1 168.19,410.71 169.13,410.24 170.06,409.68 171,409.01 171.94,408.23 172.87,407.31 173.81,406.24 174.74,404.99 175.68,403.43 176.61,401.85 177.55,400.2 178.48,398.45 179.42,396.57 180.35,394.53 181.29,392.29 182.22,389.81 183.16,387.09 184.09,384.07 185.03,380.75 185.96,377.1 186.9,373.15 187.83,368.91 188.77,364.4 189.7,359.64 190.64,354.68 191.57,349.52 192.51,344.22 193.44,338.82 194.38,333.38 195.31,327.94 196.25,322.55 197.19,317.27 198.12,312.14 199.06,307.19 199.99,302.46 200.93,297.96 201.86,293.73 202.8,289.77 203.73,286.09 204.67,282.74 205.6,279.73 206.54,277.06 207.47,274.73 208.41,272.74 209.34,271.08 210.28,269.73 211.21,268.68 212.15,267.92 213.08,267.45 214.02,267.22 214.95,267.21 215.89,267.39 216.82,267.73 217.76,268.19 218.69,269.15 219.63,270.73 220.56,272.72 221.5,275.04 222.44,277.63 223.37,280.44 224.31,283.45 225.24,286.63 226.18,289.98 227.11,293.48 228.05,297.1 228.98,300.84 229.92,304.68 230.85,308.6 231.79,312.6 232.72,316.67 233.66,320.79 234.59,324.93 235.53,329.1 236.46,333.27 237.4,337.44 238.33,341.58 239.27,345.71 240.2,349.8 241.14,353.87 242.07,357.88 243.01,361.85 243.94,365.74 244.88,369.57 245.81,373.32 246.75,377.01 247.69,380.62 248.62,384.14 249.56,387.58 250.49,390.92 251.43,394.17 252.36,397.32 253.3,400.39 254.23,403.36 255.17,406.23 256.1,409.01 257.04,411.68 257.97,414.25 258.91,416.72 259.84,419.1 260.78,421.38 261.71,423.58 262.65,425.68 263.58,427.71 264.52,429.64 265.45,431.5 266.39,433.28 267.32,434.99 268.26,436.62 269.19,438.18 270.13,439.67 271.06,441.09 272,442.44 272.94,443.72 273.87,444.93 274.81,446.08 275.74,447.18 276.68,448.22 277.61,449.21 278.55,450.14 279.48,451.02 280.42,451.85 281.35,452.62 282.29,453.34 283.22,454.02 284.16,454.65 285.09,455.24 286.03,455.8 286.96,456.33 287.9,456.82 288.83,457.28 289.77,457.72 290.7,458.12 291.64,458.5 292.57,458.85 293.51,459.18 294.44,459.5 295.38,459.79 296.31,460.07 297.25,460.32 298.19,460.56 299.12,460.79 300.06,461 300.99,461.19 301.93,461.36 302.86,461.53 303.8,461.67 304.73,461.81 305.67,461.94 306.6,462.06 307.54,462.17 308.47,462.27 309.41,462.37 310.34,462.45 311.28,462.54 312.21,462.61 313.15,462.68 314.08,462.75 315.02,462.81 315.95,462.87 316.89,462.92 317.82,462.96 318.76,463 319.69,463.04 320.63,463.07 321.56,463.1 322.5,463.13" fill="none" stroke="#2626aa" stroke-width="1.3" stroke-linejoin="round"/>
<line x1="65.5" y1="463.5" x2="70" y2="463.5" stroke="#000" stroke-width="1.6"/>
<line x1="67.5" y1="437.88" x2="70" y2="437.88" stroke="#000" stroke-width="1.6"/>
<line x1="65.5" y1="412.25" x2="70" y2="412.25" stroke="#000" stroke-width="1.6"/>
<line x1="67.5" y1="386.62" x2="70" y2="386.62" stroke="#000" stroke-width="1.6"/>
<line x1="65.5" y1="361" x2="70" y2="361" stroke="#000" stroke-width="1.6"/>
<line x1="67.5" y1="335.38" x2="70" y2="335.38" stroke="#000" stroke-width="1.6"/>
<line x1="65.5" y1="309.75" x2="70" y2="309.75" stroke="#000" stroke-width="1.6"/>
<line x1="67.5" y1="284.12" x2="70" y2="284.12" stroke="#000" stroke-width="1.6"/>
<line x1="65.5" y1="258.5" x2="70" y2="258.5" stroke="#000" stroke-width="1.6"/>
<line x1="88.7" y1="463.5" x2="88.7" y2="468" stroke="#000" stroke-width="1.6"/>
<line x1="112.08" y1="463.5" x2="112.08" y2="466" stroke="#000" stroke-width="1.6"/>
<line x1="135.46" y1="463.5" x2="135.46" y2="468" stroke="#000" stroke-width="1.6"/>
<line x1="158.84" y1="463.5" x2="158.84" y2="466" stroke="#000" stroke-width="1.6"/>
<line x1="182.22" y1="463.5" x2="182.22" y2="468" stroke="#000" stroke-width="1.6"/>
<line x1="205.6" y1="463.5" x2="205.6" y2="466" stroke="#000" stroke-width="1.6"/>
<line x1="228.98" y1="463.5" x2="228.98" y2="468" stroke="#000" stroke-width="1.6"/>
<line x1="252.36" y1="463.5" x2="252.36" y2="466" stroke="#000" stroke-width="1.6"/>
<line x1="275.74" y1="463.5" x2="275.74" y2="468" stroke="#000" stroke-width="1.6"/>
<line x1="299.12" y1="463.5" x2="299.12" y2="466" stroke="#000" stroke-width="1.6"/>
<line x1="322.5" y1="463.5" x2="322.5" y2="468" stroke="#000" stroke-width="1.6"/>
<rect x="70" y="258.5" width="252.5" height="205" fill="none" stroke="#000" stroke-width="2"/>
<line x1="256.8" y1="401.7" x2="256.8" y2="269.3" stroke="#555" stroke-width="0.9"/>
<path d="M256.8 262.90000000000003 L262.0 273.1 L256.8 270.90000000000003 L251.60000000000002 273.1 Z" fill="#000"/>
<defs><radialGradient id="gk" cx="0.5" cy="0.5" r="0.5" fx="0.35" fy="0.3"><stop offset="0" stop-color="#ffffff"/><stop offset="0.12" stop-color="#d8d8d8"/><stop offset="0.38" stop-color="#1a1a1a"/><stop offset="1" stop-color="#000"/></radialGradient><radialGradient id="gr" cx="0.5" cy="0.5" r="0.5" fx="0.35" fy="0.3"><stop offset="0" stop-color="#ffffff"/><stop offset="0.12" stop-color="#ffd0d0"/><stop offset="0.38" stop-color="#ff1010"/><stop offset="1" stop-color="#c80000"/></radialGradient><radialGradient id="gb" cx="0.5" cy="0.5" r="0.5" fx="0.35" fy="0.3"><stop offset="0" stop-color="#ffffff"/><stop offset="0.12" stop-color="#d0d0ff"/><stop offset="0.38" stop-color="#1010ff"/><stop offset="1" stop-color="#0000c8"/></radialGradient></defs>
<polyline points="427,457.15 429.03,455.08 431.07,453.1 433.1,451.21 435.14,449.39 437.17,447.66 439.21,445.99 441.24,444.39 443.27,442.85 445.31,441.37 447.34,439.95 449.38,438.58 451.41,437.26 453.45,435.99 455.48,434.76 457.51,433.57 459.55,432.43 461.58,431.32 463.62,430.25 465.65,429.21 467.69,428.21 469.72,427.24 471.75,426.29 473.79,425.38 475.82,424.49 477.86,423.63 479.89,422.8 481.92,421.98 483.96,421.19 485.99,420.43 488.03,419.68 490.06,418.95 492.1,418.25 494.13,417.56 496.16,416.89 498.2,416.24 500.23,415.6 502.27,414.98 504.3,414.37 506.34,413.78 508.37,413.21 510.4,412.64 512.44,412.09 514.47,411.56 516.51,411.03 518.54,410.52 520.58,410.02 522.61,409.53 524.64,409.05 526.68,408.58 528.71,408.12 530.75,407.68 532.78,407.24 534.82,406.81 536.85,406.38 538.88,405.97 540.92,405.57 542.95,405.17 544.99,404.78 547.02,404.4 549.06,404.03 551.09,403.66 553.12,403.3 555.16,402.95 557.19,402.6 559.23,402.26 561.26,401.93 563.29,401.6 565.33,401.28 567.36,400.97 569.4,400.66 571.43,400.35 573.47,400.05 575.5,399.76 577.53,399.47 579.57,399.19 581.6,398.91 583.64,398.63 585.67,398.36 587.71,398.1 589.74,397.83 591.77,397.58 593.81,397.32 595.84,397.07 597.88,396.83 599.91,396.59 601.95,396.35 603.98,396.12 606.01,395.89 608.05,395.66 610.08,395.44 612.12,395.22 614.15,395 616.19,394.78 618.22,394.57 620.25,394.37 622.29,394.16 624.32,393.96 626.36,393.76 628.39,393.57 630.42,393.37 632.46,393.18 634.49,392.99 636.53,392.81 638.56,392.63 640.6,392.45 642.63,392.27 644.66,392.09 646.7,391.92 648.73,391.75 650.77,391.58 652.8,391.41 654.84,391.25 656.87,391.09 658.9,390.92 660.94,390.77 662.97,390.61 665.01,390.46 667.04,390.3 669.08,390.15 671.11,390" fill="none" stroke="#111111" stroke-width="1"/>
<polyline points="427,457.15 429.03,453.81 431.07,450.64 433.1,447.64 435.14,444.79 437.17,442.08 439.21,439.5 441.24,437.05 443.27,434.71 445.31,432.47 447.34,430.33 449.38,428.28 451.41,426.32 453.45,424.44 455.48,422.64 457.51,420.91 459.55,419.24 461.58,417.64 463.62,416.1 465.65,414.61 467.69,413.18 469.72,411.8 471.75,410.47 473.79,409.18 475.82,407.94 477.86,406.74 479.89,405.57 481.92,404.45 483.96,403.36 485.99,402.3 488.03,401.28 490.06,400.28 492.1,399.32 494.13,398.38 496.16,397.47 498.2,396.59 500.23,395.73 502.27,394.9 504.3,394.09 506.34,393.29 508.37,392.53 510.4,391.78 512.44,391.05 514.47,390.34 516.51,389.64 518.54,388.97 520.58,388.31 522.61,387.66 524.64,387.04 526.68,386.42 528.71,385.82 530.75,385.24 532.78,384.67 534.82,384.11 536.85,383.56 538.88,383.03 540.92,382.51 542.95,382 544.99,381.5 547.02,381.01 549.06,380.53 551.09,380.06 553.12,379.6 555.16,379.15 557.19,378.71 559.23,378.27 561.26,377.85 563.29,377.43 565.33,377.03 567.36,376.63 569.4,376.23 571.43,375.85 573.47,375.47 575.5,375.1 577.53,374.74 579.57,374.38 581.6,374.03 583.64,373.68 585.67,373.35 587.71,373.01 589.74,372.69 591.77,372.36 593.81,372.05 595.84,371.74 597.88,371.43 599.91,371.13 601.95,370.84 603.98,370.55 606.01,370.26 608.05,369.98 610.08,369.7 612.12,369.43 614.15,369.16 616.19,368.9 618.22,368.64 620.25,368.38 622.29,368.13 624.32,367.88 626.36,367.64 628.39,367.4 630.42,367.16 632.46,366.93 634.49,366.7 636.53,366.47 638.56,366.25 640.6,366.02 642.63,365.81 644.66,365.59 646.7,365.38 648.73,365.17 650.77,364.97 652.8,364.76 654.84,364.56 656.87,364.37 658.9,364.17 660.94,363.98 662.97,363.79 665.01,363.6 667.04,363.42 669.08,363.24 671.11,363.06" fill="none" stroke="#ee2222" stroke-width="1"/>
<polyline points="427,457.15 429.03,451.71 431.07,446.5 433.1,441.5 435.14,436.71 437.17,432.11 439.21,427.68 441.24,423.43 443.27,419.33 445.31,415.39 447.34,411.58 449.38,407.92 451.41,404.38 453.45,400.96 455.48,397.65 457.51,394.46 459.55,391.37 461.58,388.38 463.62,385.48 465.65,382.67 467.69,379.95 469.72,377.31 471.75,374.75 473.79,372.26 475.82,369.85 477.86,367.5 479.89,365.22 481.92,363.01 483.96,360.85 485.99,358.75 488.03,356.71 490.06,354.72 492.1,352.78 494.13,350.89 496.16,349.05 498.2,347.26 500.23,345.5 502.27,343.8 504.3,342.13 506.34,340.5 508.37,338.91 510.4,337.36 512.44,335.84 514.47,334.35 516.51,332.9 518.54,331.49 520.58,330.1 522.61,328.74 524.64,327.41 526.68,326.11 528.71,324.84 530.75,323.6 532.78,322.37 534.82,321.18 536.85,320.01 538.88,318.86 540.92,317.73 542.95,316.63 544.99,315.55 547.02,314.49 549.06,313.44 551.09,312.42 553.12,311.42 555.16,310.43 557.19,309.47 559.23,308.52 561.26,307.59 563.29,306.67 565.33,305.77 567.36,304.89 569.4,304.02 571.43,303.17 573.47,302.33 575.5,301.5 577.53,300.69 579.57,299.9 581.6,299.11 583.64,298.34 585.67,297.58 587.71,296.84 589.74,296.1 591.77,295.38 593.81,294.67 595.84,293.97 597.88,293.28 599.91,292.6 601.95,291.93 603.98,291.27 606.01,290.62 608.05,289.98 610.08,289.35 612.12,288.73 614.15,288.12 616.19,287.52 618.22,286.92 620.25,286.34 622.29,285.76 624.32,285.19 626.36,284.63 628.39,284.07 630.42,283.53 632.46,282.99 634.49,282.46 636.53,281.94 638.56,281.42 640.6,280.91 642.63,280.41 644.66,279.91 646.7,279.42 648.73,278.93 650.77,278.46 652.8,277.98 654.84,277.52 656.87,277.06 658.9,276.61 660.94,276.16 662.97,275.71 665.01,275.28 667.04,274.85 669.08,274.42 671.11,274" fill="none" stroke="#2222ee" stroke-width="1"/>
<circle cx="427" cy="457.45" r="3.3" fill="url(#gk)"/>
<circle cx="451.41" cy="438.29" r="3.3" fill="url(#gk)"/>
<circle cx="475.82" cy="425.78" r="3.3" fill="url(#gk)"/>
<circle cx="500.23" cy="416.88" r="3.3" fill="url(#gk)"/>
<circle cx="524.64" cy="409.78" r="3.3" fill="url(#gk)"/>
<circle cx="549.06" cy="404.31" r="3.3" fill="url(#gk)"/>
<circle cx="573.47" cy="400.31" r="3.3" fill="url(#gk)"/>
<circle cx="597.88" cy="397.33" r="3.3" fill="url(#gk)"/>
<circle cx="622.29" cy="395.81" r="3.3" fill="url(#gk)"/>
<circle cx="646.7" cy="392.82" r="3.3" fill="url(#gk)"/>
<circle cx="671.11" cy="390.28" r="3.3" fill="url(#gk)"/>
<circle cx="427" cy="457.45" r="3.3" fill="url(#gr)"/>
<circle cx="451.41" cy="430.8" r="3.3" fill="url(#gr)"/>
<circle cx="475.82" cy="406.79" r="3.3" fill="url(#gr)"/>
<circle cx="500.23" cy="397.33" r="3.3" fill="url(#gr)"/>
<circle cx="524.64" cy="388.82" r="3.3" fill="url(#gr)"/>
<circle cx="549.06" cy="380.82" r="3.3" fill="url(#gr)"/>
<circle cx="573.47" cy="374.79" r="3.3" fill="url(#gr)"/>
<circle cx="597.88" cy="372.31" r="3.3" fill="url(#gr)"/>
<circle cx="622.29" cy="369.83" r="3.3" fill="url(#gr)"/>
<circle cx="646.7" cy="366.78" r="3.3" fill="url(#gr)"/>
<circle cx="671.11" cy="363.29" r="3.3" fill="url(#gr)"/>
<circle cx="427" cy="457.45" r="3.3" fill="url(#gb)"/>
<circle cx="451.41" cy="401.78" r="3.3" fill="url(#gb)"/>
<circle cx="475.82" cy="371.8" r="3.3" fill="url(#gb)"/>
<circle cx="500.23" cy="348.3" r="3.3" fill="url(#gb)"/>
<circle cx="524.64" cy="331.28" r="3.3" fill="url(#gb)"/>
<circle cx="549.06" cy="313.82" r="3.3" fill="url(#gb)"/>
<circle cx="573.47" cy="304.8" r="3.3" fill="url(#gb)"/>
<circle cx="597.88" cy="294.83" r="3.3" fill="url(#gb)"/>
<circle cx="622.29" cy="286.32" r="3.3" fill="url(#gb)"/>
<circle cx="646.7" cy="281.81" r="3.3" fill="url(#gb)"/>
<circle cx="671.11" cy="274.31" r="3.3" fill="url(#gb)"/>
<line x1="427" y1="466.8" x2="427" y2="471.3" stroke="#000" stroke-width="1.6"/>
<line x1="447.34" y1="466.8" x2="447.34" y2="469.3" stroke="#000" stroke-width="1.6"/>
<line x1="467.69" y1="466.8" x2="467.69" y2="471.3" stroke="#000" stroke-width="1.6"/>
<line x1="488.03" y1="466.8" x2="488.03" y2="469.3" stroke="#000" stroke-width="1.6"/>
<line x1="508.37" y1="466.8" x2="508.37" y2="471.3" stroke="#000" stroke-width="1.6"/>
<line x1="528.71" y1="466.8" x2="528.71" y2="469.3" stroke="#000" stroke-width="1.6"/>
<line x1="549.06" y1="466.8" x2="549.06" y2="471.3" stroke="#000" stroke-width="1.6"/>
<line x1="569.4" y1="466.8" x2="569.4" y2="469.3" stroke="#000" stroke-width="1.6"/>
<line x1="589.74" y1="466.8" x2="589.74" y2="471.3" stroke="#000" stroke-width="1.6"/>
<line x1="610.08" y1="466.8" x2="610.08" y2="469.3" stroke="#000" stroke-width="1.6"/>
<line x1="630.42" y1="466.8" x2="630.42" y2="471.3" stroke="#000" stroke-width="1.6"/>
<line x1="650.77" y1="466.8" x2="650.77" y2="469.3" stroke="#000" stroke-width="1.6"/>
<line x1="671.11" y1="466.8" x2="671.11" y2="471.3" stroke="#000" stroke-width="1.6"/>
<line x1="418.3" y1="456.02" x2="420.8" y2="456.02" stroke="#000" stroke-width="1.6"/>
<line x1="416.3" y1="427.85" x2="420.8" y2="427.85" stroke="#000" stroke-width="1.6"/>
<line x1="418.3" y1="399.68" x2="420.8" y2="399.68" stroke="#000" stroke-width="1.6"/>
<line x1="416.3" y1="371.5" x2="420.8" y2="371.5" stroke="#000" stroke-width="1.6"/>
<line x1="418.3" y1="343.33" x2="420.8" y2="343.33" stroke="#000" stroke-width="1.6"/>
<line x1="416.3" y1="315.15" x2="420.8" y2="315.15" stroke="#000" stroke-width="1.6"/>
<line x1="418.3" y1="286.98" x2="420.8" y2="286.98" stroke="#000" stroke-width="1.6"/>
<line x1="416.3" y1="258.8" x2="420.8" y2="258.8" stroke="#000" stroke-width="1.6"/>
<rect x="420.8" y="258.8" width="256.9" height="208" fill="none" stroke="#000" stroke-width="2"/>
<circle cx="435.5" cy="268.2" r="3.6" fill="url(#gk)"/>
<circle cx="435.5" cy="282.2" r="3.6" fill="url(#gr)"/>
<circle cx="435.5" cy="296.1" r="3.6" fill="url(#gb)"/>
<filter id="nf" x="-0.05" y="-0.05" width="1.1" height="1.1"><feOffset dx="0" dy="0"/></filter>
<g filter="url(#nf)">
<text x="1" y="15.9" class="pl" textLength="22.2" lengthAdjust="spacingAndGlyphs">(A)</text>
<text x="353.7" y="16.6" class="pl" textLength="22.1" lengthAdjust="spacingAndGlyphs">(B)</text>
<text x="1" y="271.5" class="pl" textLength="21.4" lengthAdjust="spacingAndGlyphs">(C)</text>
<text x="349.5" y="271.4" class="pl" textLength="22.4" lengthAdjust="spacingAndGlyphs">(D)</text>
<text x="62.5" y="214.8" text-anchor="end" class="tk">0</text>
<text x="62.5" y="163.55" text-anchor="end" class="tk">200</text>
<text x="62.5" y="112.3" text-anchor="end" class="tk">400</text>
<text x="62.5" y="61.05" text-anchor="end" class="tk">600</text>
<text x="62.5" y="9.8" text-anchor="end" class="tk">800</text>
<text x="88.7" y="227.3" text-anchor="middle" class="tk">400</text>
<text x="135.46" y="227.3" text-anchor="middle" class="tk">450</text>
<text x="182.22" y="227.3" text-anchor="middle" class="tk">500</text>
<text x="228.98" y="227.3" text-anchor="middle" class="tk">550</text>
<text x="275.74" y="227.3" text-anchor="middle" class="tk">600</text>
<text x="322.5" y="227.3" text-anchor="middle" class="tk">650</text>
<text x="196.25" y="246.9" text-anchor="middle" class="ti" textLength="96.3" lengthAdjust="spacingAndGlyphs">Wavelength (nm)</text>
<text transform="translate(28.2,110.4) rotate(-90)" text-anchor="middle" class="ti" textLength="109.8" lengthAdjust="spacingAndGlyphs">Emission Int. (A.U.)</text>
<text x="264.5" y="143.8" class="an" textLength="40.2" lengthAdjust="spacingAndGlyphs">0-30<tspan class="mu">&#956;</tspan>M</text>
<text x="257.4" y="159" class="an" textLength="55" lengthAdjust="spacingAndGlyphs">VEGF IM1</text>
<text x="414.5" y="214.8" text-anchor="end" class="tk">0</text>
<text x="414.5" y="163.55" text-anchor="end" class="tk">200</text>
<text x="414.5" y="112.3" text-anchor="end" class="tk">400</text>
<text x="414.5" y="61.05" text-anchor="end" class="tk">600</text>
<text x="414.5" y="9.8" text-anchor="end" class="tk">800</text>
<text x="440.74" y="227.3" text-anchor="middle" class="tk">400</text>
<text x="487.59" y="227.3" text-anchor="middle" class="tk">450</text>
<text x="534.44" y="227.3" text-anchor="middle" class="tk">500</text>
<text x="581.3" y="227.3" text-anchor="middle" class="tk">550</text>
<text x="628.15" y="227.3" text-anchor="middle" class="tk">600</text>
<text x="675" y="227.3" text-anchor="middle" class="tk">650</text>
<text x="548.5" y="246.9" text-anchor="middle" class="ti" textLength="96.3" lengthAdjust="spacingAndGlyphs">Wavelength (nm)</text>
<text transform="translate(381.2,110.4) rotate(-90)" text-anchor="middle" class="ti" textLength="109.8" lengthAdjust="spacingAndGlyphs">Emission Int. (A.U.)</text>
<text x="618.6" y="123.3" class="an" textLength="40.3" lengthAdjust="spacingAndGlyphs">0-30<tspan class="mu">&#956;</tspan>M</text>
<text x="611.7" y="138" class="an" textLength="56.8" lengthAdjust="spacingAndGlyphs">VEGF IM2</text>
<text x="62.5" y="467.3" text-anchor="end" class="tk">0</text>
<text x="62.5" y="416.05" text-anchor="end" class="tk">200</text>
<text x="62.5" y="364.8" text-anchor="end" class="tk">400</text>
<text x="62.5" y="313.55" text-anchor="end" class="tk">600</text>
<text x="62.5" y="262.3" text-anchor="end" class="tk">800</text>
<text x="88.7" y="479.8" text-anchor="middle" class="tk">400</text>
<text x="135.46" y="479.8" text-anchor="middle" class="tk">450</text>
<text x="182.22" y="479.8" text-anchor="middle" class="tk">500</text>
<text x="228.98" y="479.8" text-anchor="middle" class="tk">550</text>
<text x="275.74" y="479.8" text-anchor="middle" class="tk">600</text>
<text x="322.5" y="479.8" text-anchor="middle" class="tk">650</text>
<text x="196.25" y="499.4" text-anchor="middle" class="ti" textLength="96.3" lengthAdjust="spacingAndGlyphs">Wavelength (nm)</text>
<text transform="translate(28.2,362.9) rotate(-90)" text-anchor="middle" class="ti" textLength="109.8" lengthAdjust="spacingAndGlyphs">Emission Int. (A.U.)</text>
<text x="266.8" y="336.6" class="an" textLength="40" lengthAdjust="spacingAndGlyphs">0-30<tspan class="mu">&#956;</tspan>M</text>
<text x="260.5" y="351.3" class="an" textLength="56.3" lengthAdjust="spacingAndGlyphs">VEGF IM3</text>
<text x="427" y="483.4" text-anchor="middle" class="tk">0</text>
<text x="467.69" y="483.4" text-anchor="middle" class="tk">5</text>
<text x="508.37" y="483.4" text-anchor="middle" class="tk">10</text>
<text x="549.06" y="483.4" text-anchor="middle" class="tk">15</text>
<text x="589.74" y="483.4" text-anchor="middle" class="tk">20</text>
<text x="630.42" y="483.4" text-anchor="middle" class="tk">25</text>
<text x="671.11" y="483.4" text-anchor="middle" class="tk">30</text>
<text x="413" y="431.65" text-anchor="end" class="tk">2</text>
<text x="413" y="375.3" text-anchor="end" class="tk">3</text>
<text x="413" y="318.95" text-anchor="end" class="tk">4</text>
<text x="413" y="262.6" text-anchor="end" class="tk">5</text>
<text x="449.8" y="272.0" class="lg">VEGF IM1</text>
<text x="449.8" y="286.0" class="lg">VEGF IM2</text>
<text x="449.8" y="299.90000000000003" class="lg">VEGF IM3</text>
<text x="549.3" y="503.4" text-anchor="middle" class="ti" textLength="62.8" lengthAdjust="spacingAndGlyphs">[DNA] (<tspan class="mu">&#956;</tspan>M)</text>
<text transform="translate(398.3,384.3) rotate(-90)" class="ti" style="font-size:12.2px">I<tspan dy="3.5" style="font-size:11.6px">T</tspan><tspan dy="-3.5">/I</tspan><tspan dy="3.5" style="font-size:11.6px">N</tspan></text>
</g>
</svg>
</body></html>
